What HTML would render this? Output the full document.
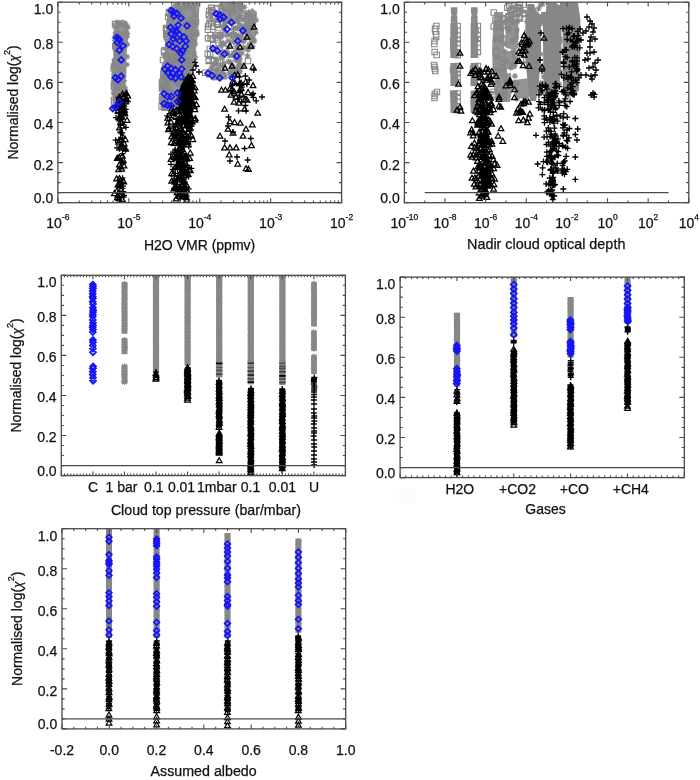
<!DOCTYPE html>
<html><head><meta charset="utf-8"><style>
html,body{margin:0;padding:0;background:#fff;width:700px;height:780px;overflow:hidden}
svg{display:block;filter:blur(0.35px)}
text{font-family:"Liberation Sans", sans-serif;fill:#111;stroke:#111;stroke-width:0.25px}
</style></head><body>
<svg width="700" height="780" viewBox="0 0 700 780">
<rect x="121.6" y="282.1" width="5.8" height="51.7" fill="#878787"/>
<rect x="121.6" y="338.2" width="5.8" height="16.0" fill="#878787"/>
<rect x="121.6" y="364.7" width="5.8" height="19.0" fill="#878787"/>
<rect x="152.9" y="275.4" width="6.2" height="95.6" fill="#878787"/>
<rect x="184.5" y="275.4" width="6.2" height="90.3" fill="#878787"/>
<rect x="216.1" y="275.4" width="6.2" height="102.1" fill="#878787"/>
<rect x="247.7" y="275.4" width="6.2" height="108.9" fill="#878787"/>
<rect x="279.3" y="275.4" width="6.2" height="109.6" fill="#878787"/>
<rect x="311.2" y="282.3" width="5.6" height="44.2" fill="#878787"/>
<rect x="311.2" y="330.8" width="5.6" height="20.0" fill="#878787"/>
<rect x="311.2" y="355.1" width="5.6" height="19.1" fill="#878787"/>
<rect x="453.9" y="312.7" width="6.2" height="73.9" fill="#878787"/>
<rect x="510.7" y="277.0" width="6.2" height="60.0" fill="#878787"/>
<rect x="567.5" y="297.0" width="6.2" height="60.6" fill="#878787"/>
<rect x="624.5" y="277.5" width="6.2" height="46.5" fill="#878787"/>
<rect x="106.0" y="529.0" width="6.0" height="109.0" fill="#878787"/>
<rect x="153.6" y="529.0" width="6.0" height="109.0" fill="#878787"/>
<rect x="224.5" y="533.0" width="6.0" height="105.0" fill="#878787"/>
<rect x="295.4" y="538.5" width="6.0" height="94.3" fill="#878787"/>
<polygon points="117.0,21.0 123.0,19.5 127.5,21.5 128.0,40.0 126.5,55.0 126.5,73.0 125.5,85.0 124.0,97.0 121.0,104.0 118.0,109.0 113.0,109.0 112.5,97.0 113.5,70.0 113.5,40.0 115.0,26.0" fill="#949494"/>
<polygon points="174.0,3.0 199.5,3.0 199.0,15.0 198.0,35.0 195.0,56.0 192.0,70.0 190.0,75.0 185.0,95.0 181.0,108.0 175.0,111.0 161.0,111.0 160.0,100.0 161.0,85.0 163.0,70.0 165.0,50.0 166.0,28.0 168.0,12.0 171.0,6.0" fill="#949494"/>
<polygon points="222.0,3.0 241.0,3.0 243.0,12.0 240.0,22.0 232.0,26.0 224.0,22.0 221.0,12.0" fill="#949494"/>
<polygon points="246.0,14.0 252.0,8.0 257.0,12.0 256.0,25.0 252.0,36.0 246.0,38.0 243.0,28.0" fill="#949494"/>
<rect x="451.4" y="8.0" width="5.5" height="14.5" fill="#8a8a8a"/>
<rect x="450.4" y="23.0" width="7.2" height="35.0" fill="#8a8a8a"/>
<rect x="450.4" y="63.0" width="7.2" height="23.0" fill="#8a8a8a"/>
<rect x="450.4" y="90.5" width="7.2" height="22.5" fill="#8a8a8a"/>
<rect x="471.6" y="8.0" width="5.5" height="14.5" fill="#8a8a8a"/>
<rect x="470.6" y="23.0" width="7.2" height="35.0" fill="#8a8a8a"/>
<rect x="470.6" y="63.0" width="7.2" height="23.0" fill="#8a8a8a"/>
<rect x="470.6" y="90.5" width="7.2" height="22.5" fill="#8a8a8a"/>
<polygon points="494.0,12.0 503.0,12.0 504.0,30.0 504.0,50.0 507.0,60.0 507.0,77.0 493.0,77.0 492.0,50.0 493.0,30.0" fill="#949494"/>
<polygon points="505.0,20.0 517.0,19.0 519.0,30.0 518.0,48.0 516.0,50.0 506.0,48.0" fill="#949494"/>
<polygon points="501.0,51.0 515.0,51.0 517.0,60.0 516.0,69.0 503.0,69.0" fill="#949494"/>
<polygon points="495.0,74.0 511.0,73.0 512.0,90.0 510.0,102.0 497.0,102.0 494.0,90.0" fill="#949494"/>
<polygon points="514.0,80.0 530.0,78.0 532.0,92.0 528.0,99.0 515.0,98.0" fill="#949494"/>
<polygon points="527.5,4.0 534.0,4.0 536.5,11.0 541.0,15.0 541.0,60.0 538.5,85.0 536.0,101.0 530.0,101.0 527.0,76.0 525.5,60.0 525.5,20.0" fill="#878787"/>
<polygon points="546.5,3.0 556.0,3.0 561.0,6.0 561.5,40.0 561.0,70.0 558.0,95.0 548.0,97.0 543.5,82.0 543.0,40.0 543.0,15.0 546.0,11.0" fill="#878787"/>
<polygon points="563.0,3.0 578.0,3.0 580.4,20.0 580.0,60.0 579.0,90.0 575.0,95.0 563.0,95.0 562.7,50.0 562.5,20.0" fill="#878787"/>
<polygon points="541.0,12.0 546.0,12.0 546.0,24.0 541.0,24.0" fill="#878787"/>
<polygon points="560.0,3.0 564.0,3.0 564.0,28.0 560.0,28.0" fill="#878787"/>
<path d="M121.7 283.9h6.0M124.7 280.9v6.0M122.5 281.7l4.3 4.3M122.5 286.1l4.3 -4.3M121.6 286.1h6.0M124.6 283.1v6.0M122.5 283.9l4.3 4.3M122.5 288.2l4.3 -4.3M121.7 288.0h6.0M124.7 285.0v6.0M122.6 285.8l4.3 4.3M122.6 290.1l4.3 -4.3M121.6 290.7h6.0M124.6 287.7v6.0M122.4 288.5l4.3 4.3M122.4 292.9l4.3 -4.3M121.4 293.0h6.0M124.4 290.0v6.0M122.3 290.8l4.3 4.3M122.3 295.1l4.3 -4.3M121.7 295.3h6.0M124.7 292.3v6.0M122.5 293.1l4.3 4.3M122.5 297.4l4.3 -4.3M121.7 298.1h6.0M124.7 295.1v6.0M122.6 295.9l4.3 4.3M122.6 300.2l4.3 -4.3M121.6 299.7h6.0M124.6 296.7v6.0M122.4 297.6l4.3 4.3M122.4 301.9l4.3 -4.3M121.4 302.0h6.0M124.4 299.0v6.0M122.2 299.8l4.3 4.3M122.2 304.2l4.3 -4.3M121.5 303.9h6.0M124.5 300.9v6.0M122.3 301.8l4.3 4.3M122.3 306.1l4.3 -4.3M121.4 305.3h6.0M124.4 302.3v6.0M122.3 303.2l4.3 4.3M122.3 307.5l4.3 -4.3M121.5 307.7h6.0M124.5 304.7v6.0M122.3 305.6l4.3 4.3M122.3 309.9l4.3 -4.3M121.6 309.3h6.0M124.6 306.3v6.0M122.4 307.2l4.3 4.3M122.4 311.5l4.3 -4.3M121.4 311.9h6.0M124.4 308.9v6.0M122.3 309.8l4.3 4.3M122.3 314.1l4.3 -4.3M121.6 313.9h6.0M124.6 310.9v6.0M122.5 311.7l4.3 4.3M122.5 316.0l4.3 -4.3M121.7 316.5h6.0M124.7 313.5v6.0M122.6 314.3l4.3 4.3M122.6 318.6l4.3 -4.3M121.5 319.1h6.0M124.5 316.1v6.0M122.4 316.9l4.3 4.3M122.4 321.2l4.3 -4.3M121.5 320.9h6.0M124.5 317.9v6.0M122.4 318.8l4.3 4.3M122.4 323.1l4.3 -4.3M121.8 323.5h6.0M124.8 320.5v6.0M122.6 321.4l4.3 4.3M122.6 325.7l4.3 -4.3M121.5 325.0h6.0M124.5 322.0v6.0M122.3 322.8l4.3 4.3M122.3 327.1l4.3 -4.3M121.5 326.5h6.0M124.5 323.5v6.0M122.3 324.4l4.3 4.3M122.3 328.7l4.3 -4.3M121.6 328.5h6.0M124.6 325.5v6.0M122.5 326.4l4.3 4.3M122.5 330.7l4.3 -4.3M121.4 330.1h6.0M124.4 327.1v6.0M122.2 328.0l4.3 4.3M122.2 332.3l4.3 -4.3M121.5 340.0h6.0M124.5 337.0v6.0M122.4 337.8l4.3 4.3M122.4 342.2l4.3 -4.3M121.8 342.1h6.0M124.8 339.1v6.0M122.6 339.9l4.3 4.3M122.6 344.3l4.3 -4.3M121.6 344.4h6.0M124.6 341.4v6.0M122.4 342.3l4.3 4.3M122.4 346.6l4.3 -4.3M121.7 346.6h6.0M124.7 343.6v6.0M122.5 344.4l4.3 4.3M122.5 348.8l4.3 -4.3M121.8 347.9h6.0M124.8 344.9v6.0M122.6 345.7l4.3 4.3M122.6 350.0l4.3 -4.3M121.7 350.3h6.0M124.7 347.3v6.0M122.6 348.2l4.3 4.3M122.6 352.5l4.3 -4.3M121.6 366.5h6.0M124.6 363.5v6.0M122.4 364.3l4.3 4.3M122.4 368.7l4.3 -4.3M121.4 368.3h6.0M124.4 365.3v6.0M122.3 366.2l4.3 4.3M122.3 370.5l4.3 -4.3M121.4 370.6h6.0M124.4 367.6v6.0M122.3 368.4l4.3 4.3M122.3 372.7l4.3 -4.3M121.5 371.9h6.0M124.5 368.9v6.0M122.3 369.7l4.3 4.3M122.3 374.0l4.3 -4.3M121.5 373.3h6.0M124.5 370.3v6.0M122.4 371.2l4.3 4.3M122.4 375.5l4.3 -4.3M121.4 374.6h6.0M124.4 371.6v6.0M122.2 372.4l4.3 4.3M122.2 376.8l4.3 -4.3M121.4 376.0h6.0M124.4 373.0v6.0M122.3 373.9l4.3 4.3M122.3 378.2l4.3 -4.3M121.4 377.8h6.0M124.4 374.8v6.0M122.3 375.7l4.3 4.3M122.3 380.0l4.3 -4.3M121.6 380.4h6.0M124.6 377.4v6.0M122.5 378.3l4.3 4.3M122.5 382.6l4.3 -4.3M121.5 381.9h6.0M124.5 378.9v6.0M122.3 379.7l4.3 4.3M122.3 384.0l4.3 -4.3M152.9 278.4h6.0M155.9 275.4v6.0M153.8 276.2l4.3 4.3M153.8 280.6l4.3 -4.3M153.1 280.5h6.0M156.1 277.5v6.0M154.0 278.3l4.3 4.3M154.0 282.7l4.3 -4.3M153.0 284.7h6.0M156.0 281.7v6.0M153.8 282.5l4.3 4.3M153.8 286.8l4.3 -4.3M152.8 287.6h6.0M155.8 284.6v6.0M153.7 285.5l4.3 4.3M153.7 289.8l4.3 -4.3M152.9 289.7h6.0M155.9 286.7v6.0M153.8 287.5l4.3 4.3M153.8 291.8l4.3 -4.3M153.1 292.1h6.0M156.1 289.1v6.0M154.0 290.0l4.3 4.3M154.0 294.3l4.3 -4.3M152.8 294.3h6.0M155.8 291.3v6.0M153.6 292.1l4.3 4.3M153.6 296.5l4.3 -4.3M153.0 298.4h6.0M156.0 295.4v6.0M153.9 296.2l4.3 4.3M153.9 300.5l4.3 -4.3M153.0 300.5h6.0M156.0 297.5v6.0M153.9 298.4l4.3 4.3M153.9 302.7l4.3 -4.3M153.0 302.4h6.0M156.0 299.4v6.0M153.9 300.2l4.3 4.3M153.9 304.6l4.3 -4.3M153.1 306.6h6.0M156.1 303.6v6.0M154.0 304.4l4.3 4.3M154.0 308.7l4.3 -4.3M152.9 310.0h6.0M155.9 307.0v6.0M153.7 307.9l4.3 4.3M153.7 312.2l4.3 -4.3M152.9 312.7h6.0M155.9 309.7v6.0M153.7 310.5l4.3 4.3M153.7 314.9l4.3 -4.3M153.0 316.4h6.0M156.0 313.4v6.0M153.9 314.2l4.3 4.3M153.9 318.5l4.3 -4.3M152.9 320.0h6.0M155.9 317.0v6.0M153.8 317.9l4.3 4.3M153.8 322.2l4.3 -4.3M153.1 322.4h6.0M156.1 319.4v6.0M154.0 320.2l4.3 4.3M154.0 324.5l4.3 -4.3M153.1 326.5h6.0M156.1 323.5v6.0M154.0 324.4l4.3 4.3M154.0 328.7l4.3 -4.3M153.1 330.3h6.0M156.1 327.3v6.0M154.0 328.1l4.3 4.3M154.0 332.4l4.3 -4.3M152.9 333.8h6.0M155.9 330.8v6.0M153.7 331.7l4.3 4.3M153.7 336.0l4.3 -4.3M152.9 336.9h6.0M155.9 333.9v6.0M153.8 334.7l4.3 4.3M153.8 339.0l4.3 -4.3M152.8 338.7h6.0M155.8 335.7v6.0M153.7 336.6l4.3 4.3M153.7 340.9l4.3 -4.3M152.9 341.2h6.0M155.9 338.2v6.0M153.7 339.1l4.3 4.3M153.7 343.4l4.3 -4.3M153.2 344.7h6.0M156.2 341.7v6.0M154.0 342.5l4.3 4.3M154.0 346.8l4.3 -4.3M153.2 347.6h6.0M156.2 344.6v6.0M154.0 345.4l4.3 4.3M154.0 349.7l4.3 -4.3M153.2 351.7h6.0M156.2 348.7v6.0M154.0 349.6l4.3 4.3M154.0 353.9l4.3 -4.3M152.9 354.4h6.0M155.9 351.4v6.0M153.7 352.2l4.3 4.3M153.7 356.6l4.3 -4.3M152.9 356.7h6.0M155.9 353.7v6.0M153.7 354.6l4.3 4.3M153.7 358.9l4.3 -4.3M153.0 359.0h6.0M156.0 356.0v6.0M153.9 356.9l4.3 4.3M153.9 361.2l4.3 -4.3M153.1 363.0h6.0M156.1 360.0v6.0M154.0 360.8l4.3 4.3M154.0 365.2l4.3 -4.3M153.1 365.9h6.0M156.1 362.9v6.0M153.9 363.8l4.3 4.3M153.9 368.1l4.3 -4.3M184.5 278.4h6.0M187.5 275.4v6.0M185.4 276.2l4.3 4.3M185.4 280.6l4.3 -4.3M184.8 282.1h6.0M187.8 279.1v6.0M185.6 280.0l4.3 4.3M185.6 284.3l4.3 -4.3M184.6 284.9h6.0M187.6 281.9v6.0M185.4 282.7l4.3 4.3M185.4 287.0l4.3 -4.3M184.7 288.9h6.0M187.7 285.9v6.0M185.5 286.8l4.3 4.3M185.5 291.1l4.3 -4.3M184.5 291.2h6.0M187.5 288.2v6.0M185.3 289.0l4.3 4.3M185.3 293.3l4.3 -4.3M184.8 293.3h6.0M187.8 290.3v6.0M185.6 291.2l4.3 4.3M185.6 295.5l4.3 -4.3M184.5 297.1h6.0M187.5 294.1v6.0M185.3 294.9l4.3 4.3M185.3 299.2l4.3 -4.3M184.8 300.8h6.0M187.8 297.8v6.0M185.6 298.7l4.3 4.3M185.6 303.0l4.3 -4.3M184.5 304.2h6.0M187.5 301.2v6.0M185.4 302.1l4.3 4.3M185.4 306.4l4.3 -4.3M184.5 307.3h6.0M187.5 304.3v6.0M185.3 305.2l4.3 4.3M185.3 309.5l4.3 -4.3M184.8 309.2h6.0M187.8 306.2v6.0M185.6 307.0l4.3 4.3M185.6 311.3l4.3 -4.3M184.6 312.5h6.0M187.6 309.5v6.0M185.5 310.4l4.3 4.3M185.5 314.7l4.3 -4.3M184.6 316.6h6.0M187.6 313.6v6.0M185.4 314.4l4.3 4.3M185.4 318.7l4.3 -4.3M184.7 320.5h6.0M187.7 317.5v6.0M185.6 318.3l4.3 4.3M185.6 322.6l4.3 -4.3M184.5 322.8h6.0M187.5 319.8v6.0M185.3 320.6l4.3 4.3M185.3 324.9l4.3 -4.3M184.5 325.3h6.0M187.5 322.3v6.0M185.3 323.1l4.3 4.3M185.3 327.4l4.3 -4.3M184.5 328.5h6.0M187.5 325.5v6.0M185.3 326.3l4.3 4.3M185.3 330.6l4.3 -4.3M184.5 331.3h6.0M187.5 328.3v6.0M185.3 329.1l4.3 4.3M185.3 333.4l4.3 -4.3M184.5 335.3h6.0M187.5 332.3v6.0M185.4 333.1l4.3 4.3M185.4 337.4l4.3 -4.3M184.6 338.2h6.0M187.6 335.2v6.0M185.5 336.0l4.3 4.3M185.5 340.3l4.3 -4.3M184.6 342.1h6.0M187.6 339.1v6.0M185.4 340.0l4.3 4.3M185.4 344.3l4.3 -4.3M184.6 346.1h6.0M187.6 343.1v6.0M185.4 344.0l4.3 4.3M185.4 348.3l4.3 -4.3M184.6 349.2h6.0M187.6 346.2v6.0M185.4 347.1l4.3 4.3M185.4 351.4l4.3 -4.3M184.6 351.1h6.0M187.6 348.1v6.0M185.4 348.9l4.3 4.3M185.4 353.2l4.3 -4.3M184.4 353.3h6.0M187.4 350.3v6.0M185.2 351.1l4.3 4.3M185.2 355.5l4.3 -4.3M184.5 357.0h6.0M187.5 354.0v6.0M185.3 354.9l4.3 4.3M185.3 359.2l4.3 -4.3M184.7 359.9h6.0M187.7 356.9v6.0M185.5 357.8l4.3 4.3M185.5 362.1l4.3 -4.3M216.1 278.4h6.0M219.1 275.4v6.0M216.9 276.2l4.3 4.3M216.9 280.6l4.3 -4.3M216.2 280.5h6.0M219.2 277.5v6.0M217.0 278.4l4.3 4.3M217.0 282.7l4.3 -4.3M216.3 284.5h6.0M219.3 281.5v6.0M217.2 282.3l4.3 4.3M217.2 286.7l4.3 -4.3M216.1 286.9h6.0M219.1 283.9v6.0M216.9 284.8l4.3 4.3M216.9 289.1l4.3 -4.3M216.2 290.9h6.0M219.2 287.9v6.0M217.1 288.8l4.3 4.3M217.1 293.1l4.3 -4.3M216.0 294.4h6.0M219.0 291.4v6.0M216.9 292.2l4.3 4.3M216.9 296.6l4.3 -4.3M216.3 296.3h6.0M219.3 293.3v6.0M217.1 294.2l4.3 4.3M217.1 298.5l4.3 -4.3M216.0 299.2h6.0M219.0 296.2v6.0M216.9 297.0l4.3 4.3M216.9 301.3l4.3 -4.3M216.3 303.2h6.0M219.3 300.2v6.0M217.1 301.1l4.3 4.3M217.1 305.4l4.3 -4.3M216.0 306.9h6.0M219.0 303.9v6.0M216.9 304.8l4.3 4.3M216.9 309.1l4.3 -4.3M216.0 310.8h6.0M219.0 307.8v6.0M216.9 308.6l4.3 4.3M216.9 313.0l4.3 -4.3M216.2 314.7h6.0M219.2 311.7v6.0M217.0 312.5l4.3 4.3M217.0 316.8l4.3 -4.3M216.2 317.3h6.0M219.2 314.3v6.0M217.1 315.1l4.3 4.3M217.1 319.4l4.3 -4.3M216.1 321.3h6.0M219.1 318.3v6.0M216.9 319.1l4.3 4.3M216.9 323.5l4.3 -4.3M216.2 323.4h6.0M219.2 320.4v6.0M217.1 321.3l4.3 4.3M217.1 325.6l4.3 -4.3M216.0 325.8h6.0M219.0 322.8v6.0M216.9 323.6l4.3 4.3M216.9 327.9l4.3 -4.3M216.0 328.0h6.0M219.0 325.0v6.0M216.9 325.8l4.3 4.3M216.9 330.1l4.3 -4.3M216.1 330.3h6.0M219.1 327.3v6.0M217.0 328.1l4.3 4.3M217.0 332.4l4.3 -4.3M216.3 332.8h6.0M219.3 329.8v6.0M217.1 330.6l4.3 4.3M217.1 335.0l4.3 -4.3M216.2 335.3h6.0M219.2 332.3v6.0M217.0 333.1l4.3 4.3M217.0 337.4l4.3 -4.3M216.1 337.5h6.0M219.1 334.5v6.0M217.0 335.4l4.3 4.3M217.0 339.7l4.3 -4.3M216.1 339.4h6.0M219.1 336.4v6.0M216.9 337.2l4.3 4.3M216.9 341.5l4.3 -4.3M216.3 341.2h6.0M219.3 338.2v6.0M217.1 339.0l4.3 4.3M217.1 343.4l4.3 -4.3M216.1 344.3h6.0M219.1 341.3v6.0M216.9 342.2l4.3 4.3M216.9 346.5l4.3 -4.3M216.4 347.3h6.0M219.4 344.3v6.0M217.2 345.1l4.3 4.3M217.2 349.4l4.3 -4.3M216.3 349.3h6.0M219.3 346.3v6.0M217.2 347.2l4.3 4.3M217.2 351.5l4.3 -4.3M216.2 352.1h6.0M219.2 349.1v6.0M217.0 350.0l4.3 4.3M217.0 354.3l4.3 -4.3M216.2 356.0h6.0M219.2 353.0v6.0M217.0 353.8l4.3 4.3M217.0 358.1l4.3 -4.3M216.3 359.0h6.0M219.3 356.0v6.0M217.1 356.8l4.3 4.3M217.1 361.1l4.3 -4.3M216.1 363.1h6.0M219.1 360.1v6.0M217.0 361.0l4.3 4.3M217.0 365.3l4.3 -4.3M216.3 366.9h6.0M219.3 363.9v6.0M217.1 364.8l4.3 4.3M217.1 369.1l4.3 -4.3M216.2 370.2h6.0M219.2 367.2v6.0M217.0 368.1l4.3 4.3M217.0 372.4l4.3 -4.3M216.0 372.9h6.0M219.0 369.9v6.0M216.9 370.7l4.3 4.3M216.9 375.0l4.3 -4.3M248.0 278.4h6.0M251.0 275.4v6.0M248.8 276.2l4.3 4.3M248.8 280.6l4.3 -4.3M247.9 282.0h6.0M250.9 279.0v6.0M248.8 279.9l4.3 4.3M248.8 284.2l4.3 -4.3M247.6 284.5h6.0M250.6 281.5v6.0M248.5 282.3l4.3 4.3M248.5 286.6l4.3 -4.3M247.9 287.9h6.0M250.9 284.9v6.0M248.7 285.7l4.3 4.3M248.7 290.0l4.3 -4.3M248.0 290.0h6.0M251.0 287.0v6.0M248.8 287.9l4.3 4.3M248.8 292.2l4.3 -4.3M247.7 292.9h6.0M250.7 289.9v6.0M248.6 290.7l4.3 4.3M248.6 295.0l4.3 -4.3M247.9 296.5h6.0M250.9 293.5v6.0M248.8 294.4l4.3 4.3M248.8 298.7l4.3 -4.3M247.6 299.4h6.0M250.6 296.4v6.0M248.5 297.2l4.3 4.3M248.5 301.5l4.3 -4.3M247.8 303.0h6.0M250.8 300.0v6.0M248.6 300.8l4.3 4.3M248.6 305.2l4.3 -4.3M247.8 306.9h6.0M250.8 303.9v6.0M248.7 304.7l4.3 4.3M248.7 309.1l4.3 -4.3M247.6 309.2h6.0M250.6 306.2v6.0M248.5 307.0l4.3 4.3M248.5 311.3l4.3 -4.3M247.8 313.2h6.0M250.8 310.2v6.0M248.6 311.1l4.3 4.3M248.6 315.4l4.3 -4.3M247.7 316.5h6.0M250.7 313.5v6.0M248.5 314.3l4.3 4.3M248.5 318.7l4.3 -4.3M247.8 320.4h6.0M250.8 317.4v6.0M248.6 318.2l4.3 4.3M248.6 322.5l4.3 -4.3M247.8 324.4h6.0M250.8 321.4v6.0M248.7 322.2l4.3 4.3M248.7 326.5l4.3 -4.3M247.8 326.6h6.0M250.8 323.6v6.0M248.6 324.4l4.3 4.3M248.6 328.7l4.3 -4.3M247.7 329.1h6.0M250.7 326.1v6.0M248.5 326.9l4.3 4.3M248.5 331.2l4.3 -4.3M247.9 332.6h6.0M250.9 329.6v6.0M248.7 330.5l4.3 4.3M248.7 334.8l4.3 -4.3M247.7 335.4h6.0M250.7 332.4v6.0M248.5 333.2l4.3 4.3M248.5 337.6l4.3 -4.3M247.9 338.4h6.0M250.9 335.4v6.0M248.7 336.2l4.3 4.3M248.7 340.5l4.3 -4.3M247.9 340.5h6.0M250.9 337.5v6.0M248.7 338.3l4.3 4.3M248.7 342.6l4.3 -4.3M247.8 342.4h6.0M250.8 339.4v6.0M248.6 340.3l4.3 4.3M248.6 344.6l4.3 -4.3M247.8 346.2h6.0M250.8 343.2v6.0M248.7 344.0l4.3 4.3M248.7 348.3l4.3 -4.3M247.7 349.1h6.0M250.7 346.1v6.0M248.6 346.9l4.3 4.3M248.6 351.2l4.3 -4.3M247.8 352.7h6.0M250.8 349.7v6.0M248.6 350.5l4.3 4.3M248.6 354.9l4.3 -4.3M247.7 355.8h6.0M250.7 352.8v6.0M248.5 353.6l4.3 4.3M248.5 358.0l4.3 -4.3M247.8 358.0h6.0M250.8 355.0v6.0M248.7 355.9l4.3 4.3M248.7 360.2l4.3 -4.3M247.7 360.6h6.0M250.7 357.6v6.0M248.6 358.4l4.3 4.3M248.6 362.8l4.3 -4.3M247.7 364.3h6.0M250.7 361.3v6.0M248.5 362.2l4.3 4.3M248.5 366.5l4.3 -4.3M247.9 366.2h6.0M250.9 363.2v6.0M248.8 364.0l4.3 4.3M248.8 368.3l4.3 -4.3M247.9 368.9h6.0M250.9 365.9v6.0M248.7 366.7l4.3 4.3M248.7 371.1l4.3 -4.3M247.7 371.2h6.0M250.7 368.2v6.0M248.5 369.0l4.3 4.3M248.5 373.4l4.3 -4.3M247.8 374.8h6.0M250.8 371.8v6.0M248.6 372.6l4.3 4.3M248.6 377.0l4.3 -4.3M247.7 378.0h6.0M250.7 375.0v6.0M248.6 375.8l4.3 4.3M248.6 380.1l4.3 -4.3M279.2 278.4h6.0M282.2 275.4v6.0M280.0 276.2l4.3 4.3M280.0 280.6l4.3 -4.3M279.5 281.0h6.0M282.5 278.0v6.0M280.3 278.8l4.3 4.3M280.3 283.1l4.3 -4.3M279.3 283.2h6.0M282.3 280.2v6.0M280.2 281.1l4.3 4.3M280.2 285.4l4.3 -4.3M279.5 285.5h6.0M282.5 282.5v6.0M280.4 283.4l4.3 4.3M280.4 287.7l4.3 -4.3M279.2 288.6h6.0M282.2 285.6v6.0M280.1 286.5l4.3 4.3M280.1 290.8l4.3 -4.3M279.4 290.7h6.0M282.4 287.7v6.0M280.2 288.5l4.3 4.3M280.2 292.8l4.3 -4.3M279.5 293.8h6.0M282.5 290.8v6.0M280.3 291.6l4.3 4.3M280.3 296.0l4.3 -4.3M279.3 295.8h6.0M282.3 292.8v6.0M280.1 293.7l4.3 4.3M280.1 298.0l4.3 -4.3M279.4 299.3h6.0M282.4 296.3v6.0M280.2 297.1l4.3 4.3M280.2 301.4l4.3 -4.3M279.3 301.8h6.0M282.3 298.8v6.0M280.2 299.6l4.3 4.3M280.2 303.9l4.3 -4.3M279.3 305.9h6.0M282.3 302.9v6.0M280.2 303.7l4.3 4.3M280.2 308.0l4.3 -4.3M279.3 309.0h6.0M282.3 306.0v6.0M280.2 306.9l4.3 4.3M280.2 311.2l4.3 -4.3M279.5 311.8h6.0M282.5 308.8v6.0M280.4 309.7l4.3 4.3M280.4 314.0l4.3 -4.3M279.3 316.0h6.0M282.3 313.0v6.0M280.2 313.8l4.3 4.3M280.2 318.2l4.3 -4.3M279.5 318.3h6.0M282.5 315.3v6.0M280.3 316.1l4.3 4.3M280.3 320.4l4.3 -4.3M279.2 320.6h6.0M282.2 317.6v6.0M280.0 318.4l4.3 4.3M280.0 322.7l4.3 -4.3M279.4 324.5h6.0M282.4 321.5v6.0M280.2 322.4l4.3 4.3M280.2 326.7l4.3 -4.3M279.4 328.3h6.0M282.4 325.3v6.0M280.2 326.1l4.3 4.3M280.2 330.5l4.3 -4.3M279.4 332.2h6.0M282.4 329.2v6.0M280.2 330.1l4.3 4.3M280.2 334.4l4.3 -4.3M279.2 334.4h6.0M282.2 331.4v6.0M280.0 332.2l4.3 4.3M280.0 336.6l4.3 -4.3M279.5 337.5h6.0M282.5 334.5v6.0M280.3 335.4l4.3 4.3M280.3 339.7l4.3 -4.3M279.2 341.5h6.0M282.2 338.5v6.0M280.1 339.4l4.3 4.3M280.1 343.7l4.3 -4.3M279.3 344.8h6.0M282.3 341.8v6.0M280.2 342.6l4.3 4.3M280.2 347.0l4.3 -4.3M279.3 347.8h6.0M282.3 344.8v6.0M280.1 345.7l4.3 4.3M280.1 350.0l4.3 -4.3M279.4 350.3h6.0M282.4 347.3v6.0M280.2 348.1l4.3 4.3M280.2 352.5l4.3 -4.3M279.2 354.3h6.0M282.2 351.3v6.0M280.1 352.2l4.3 4.3M280.1 356.5l4.3 -4.3M279.5 357.3h6.0M282.5 354.3v6.0M280.4 355.1l4.3 4.3M280.4 359.5l4.3 -4.3M279.3 361.4h6.0M282.3 358.4v6.0M280.1 359.3l4.3 4.3M280.1 363.6l4.3 -4.3M279.6 363.5h6.0M282.6 360.5v6.0M280.4 361.4l4.3 4.3M280.4 365.7l4.3 -4.3M279.4 367.7h6.0M282.4 364.7v6.0M280.2 365.5l4.3 4.3M280.2 369.8l4.3 -4.3M279.6 369.6h6.0M282.6 366.6v6.0M280.4 367.4l4.3 4.3M280.4 371.8l4.3 -4.3M279.6 372.3h6.0M282.6 369.3v6.0M280.4 370.2l4.3 4.3M280.4 374.5l4.3 -4.3M279.5 375.6h6.0M282.5 372.6v6.0M280.4 373.5l4.3 4.3M280.4 377.8l4.3 -4.3M279.5 377.8h6.0M282.5 374.8v6.0M280.4 375.6l4.3 4.3M280.4 380.0l4.3 -4.3M279.4 380.1h6.0M282.4 377.1v6.0M280.2 378.0l4.3 4.3M280.2 382.3l4.3 -4.3M311.1 283.8h6.0M314.1 280.8v6.0M311.9 281.6l4.3 4.3M311.9 286.0l4.3 -4.3M310.9 285.0h6.0M313.9 282.0v6.0M311.7 282.9l4.3 4.3M311.7 287.2l4.3 -4.3M310.8 287.3h6.0M313.8 284.3v6.0M311.7 285.1l4.3 4.3M311.7 289.4l4.3 -4.3M310.8 288.6h6.0M313.8 285.6v6.0M311.7 286.4l4.3 4.3M311.7 290.7l4.3 -4.3M311.1 291.2h6.0M314.1 288.2v6.0M311.9 289.0l4.3 4.3M311.9 293.3l4.3 -4.3M311.2 292.7h6.0M314.2 289.7v6.0M312.0 290.5l4.3 4.3M312.0 294.8l4.3 -4.3M311.1 294.7h6.0M314.1 291.7v6.0M311.9 292.6l4.3 4.3M311.9 296.9l4.3 -4.3M311.1 297.3h6.0M314.1 294.3v6.0M311.9 295.2l4.3 4.3M311.9 299.5l4.3 -4.3M311.0 299.7h6.0M314.0 296.7v6.0M311.8 297.5l4.3 4.3M311.8 301.8l4.3 -4.3M310.9 301.3h6.0M313.9 298.3v6.0M311.7 299.1l4.3 4.3M311.7 303.4l4.3 -4.3M311.2 302.5h6.0M314.2 299.5v6.0M312.0 300.4l4.3 4.3M312.0 304.7l4.3 -4.3M311.1 305.2h6.0M314.1 302.2v6.0M311.9 303.0l4.3 4.3M311.9 307.3l4.3 -4.3M311.1 306.5h6.0M314.1 303.5v6.0M311.9 304.4l4.3 4.3M311.9 308.7l4.3 -4.3M311.0 308.7h6.0M314.0 305.7v6.0M311.8 306.6l4.3 4.3M311.8 310.9l4.3 -4.3M311.1 310.1h6.0M314.1 307.1v6.0M312.0 308.0l4.3 4.3M312.0 312.3l4.3 -4.3M310.9 312.4h6.0M313.9 309.4v6.0M311.8 310.2l4.3 4.3M311.8 314.5l4.3 -4.3M310.9 314.1h6.0M313.9 311.1v6.0M311.7 312.0l4.3 4.3M311.7 316.3l4.3 -4.3M311.2 315.9h6.0M314.2 312.9v6.0M312.0 313.7l4.3 4.3M312.0 318.0l4.3 -4.3M311.1 317.2h6.0M314.1 314.2v6.0M311.9 315.0l4.3 4.3M311.9 319.3l4.3 -4.3M311.1 319.8h6.0M314.1 316.8v6.0M311.9 317.7l4.3 4.3M311.9 322.0l4.3 -4.3M311.0 322.0h6.0M314.0 319.0v6.0M311.8 319.8l4.3 4.3M311.8 324.1l4.3 -4.3M311.1 323.6h6.0M314.1 320.6v6.0M311.9 321.5l4.3 4.3M311.9 325.8l4.3 -4.3M310.8 332.3h6.0M313.8 329.3v6.0M311.7 330.1l4.3 4.3M311.7 334.5l4.3 -4.3M310.8 334.3h6.0M313.8 331.3v6.0M311.7 332.2l4.3 4.3M311.7 336.5l4.3 -4.3M310.8 336.3h6.0M313.8 333.3v6.0M311.7 334.1l4.3 4.3M311.7 338.4l4.3 -4.3M311.1 338.4h6.0M314.1 335.4v6.0M311.9 336.2l4.3 4.3M311.9 340.5l4.3 -4.3M311.0 340.9h6.0M314.0 337.9v6.0M311.9 338.8l4.3 4.3M311.9 343.1l4.3 -4.3M311.0 342.6h6.0M314.0 339.6v6.0M311.8 340.4l4.3 4.3M311.8 344.7l4.3 -4.3M310.9 344.6h6.0M313.9 341.6v6.0M311.8 342.4l4.3 4.3M311.8 346.8l4.3 -4.3M310.8 347.0h6.0M313.8 344.0v6.0M311.7 344.8l4.3 4.3M311.7 349.2l4.3 -4.3M310.8 348.8h6.0M313.8 345.8v6.0M311.7 346.6l4.3 4.3M311.7 350.9l4.3 -4.3M311.1 356.6h6.0M314.1 353.6v6.0M312.0 354.4l4.3 4.3M312.0 358.8l4.3 -4.3M311.0 359.3h6.0M314.0 356.3v6.0M311.9 357.2l4.3 4.3M311.9 361.5l4.3 -4.3M311.0 362.1h6.0M314.0 359.1v6.0M311.8 359.9l4.3 4.3M311.8 364.2l4.3 -4.3M310.9 364.2h6.0M313.9 361.2v6.0M311.7 362.0l4.3 4.3M311.7 366.4l4.3 -4.3M311.2 366.7h6.0M314.2 363.7v6.0M312.0 364.5l4.3 4.3M312.0 368.9l4.3 -4.3M310.9 368.3h6.0M313.9 365.3v6.0M311.7 366.1l4.3 4.3M311.7 370.4l4.3 -4.3M311.1 371.0h6.0M314.1 368.0v6.0M311.9 368.8l4.3 4.3M311.9 373.1l4.3 -4.3M453.9 315.7h6.0M456.9 312.7v6.0M454.7 313.5l4.3 4.3M454.7 317.9l4.3 -4.3M453.9 318.1h6.0M456.9 315.1v6.0M454.7 315.9l4.3 4.3M454.7 320.2l4.3 -4.3M454.1 321.4h6.0M457.1 318.4v6.0M455.0 319.2l4.3 4.3M455.0 323.6l4.3 -4.3M453.9 324.4h6.0M456.9 321.4v6.0M454.7 322.3l4.3 4.3M454.7 326.6l4.3 -4.3M454.2 328.0h6.0M457.2 325.0v6.0M455.0 325.9l4.3 4.3M455.0 330.2l4.3 -4.3M454.1 331.3h6.0M457.1 328.3v6.0M455.0 329.1l4.3 4.3M455.0 333.5l4.3 -4.3M454.1 335.4h6.0M457.1 332.4v6.0M455.0 333.3l4.3 4.3M455.0 337.6l4.3 -4.3M453.9 338.7h6.0M456.9 335.7v6.0M454.7 336.5l4.3 4.3M454.7 340.9l4.3 -4.3M454.3 358.4h6.0M457.3 355.4v6.0M455.1 356.2l4.3 4.3M455.1 360.6l4.3 -4.3M454.3 360.8h6.0M457.3 357.8v6.0M455.1 358.7l4.3 4.3M455.1 363.0l4.3 -4.3M567.8 300.0h6.0M570.8 297.0v6.0M568.6 297.8l4.3 4.3M568.6 302.2l4.3 -4.3M567.4 303.9h6.0M570.4 300.9v6.0M568.3 301.7l4.3 4.3M568.3 306.0l4.3 -4.3M567.6 307.9h6.0M570.6 304.9v6.0M568.4 305.7l4.3 4.3M568.4 310.0l4.3 -4.3M567.5 311.8h6.0M570.5 308.8v6.0M568.4 309.6l4.3 4.3M568.4 313.9l4.3 -4.3M106.1 532.0h6.0M109.1 529.0v6.0M106.9 529.8l4.3 4.3M106.9 534.2l4.3 -4.3M106.0 536.0h6.0M109.0 533.0v6.0M106.9 533.8l4.3 4.3M106.9 538.1l4.3 -4.3M106.1 539.4h6.0M109.1 536.4v6.0M106.9 537.3l4.3 4.3M106.9 541.6l4.3 -4.3M105.9 541.4h6.0M108.9 538.4v6.0M106.8 539.3l4.3 4.3M106.8 543.6l4.3 -4.3M105.8 544.1h6.0M108.8 541.1v6.0M106.7 542.0l4.3 4.3M106.7 546.3l4.3 -4.3M105.9 546.7h6.0M108.9 543.7v6.0M106.7 544.5l4.3 4.3M106.7 548.8l4.3 -4.3M105.9 550.0h6.0M108.9 547.0v6.0M106.8 547.9l4.3 4.3M106.8 552.2l4.3 -4.3M106.2 552.7h6.0M109.2 549.7v6.0M107.0 550.5l4.3 4.3M107.0 554.8l4.3 -4.3M106.2 555.7h6.0M109.2 552.7v6.0M107.0 553.5l4.3 4.3M107.0 557.8l4.3 -4.3M106.0 559.0h6.0M109.0 556.0v6.0M106.8 556.8l4.3 4.3M106.8 561.2l4.3 -4.3M105.9 562.8h6.0M108.9 559.8v6.0M106.7 560.6l4.3 4.3M106.7 564.9l4.3 -4.3M106.0 566.7h6.0M109.0 563.7v6.0M106.8 564.5l4.3 4.3M106.8 568.9l4.3 -4.3M106.0 568.6h6.0M109.0 565.6v6.0M106.9 566.5l4.3 4.3M106.9 570.8l4.3 -4.3M106.0 570.7h6.0M109.0 567.7v6.0M106.9 568.5l4.3 4.3M106.9 572.9l4.3 -4.3M106.1 574.0h6.0M109.1 571.0v6.0M106.9 571.9l4.3 4.3M106.9 576.2l4.3 -4.3M105.8 577.5h6.0M108.8 574.5v6.0M106.6 575.3l4.3 4.3M106.6 579.6l4.3 -4.3M106.1 579.3h6.0M109.1 576.3v6.0M106.9 577.1l4.3 4.3M106.9 581.4l4.3 -4.3M106.2 582.4h6.0M109.2 579.4v6.0M107.0 580.3l4.3 4.3M107.0 584.6l4.3 -4.3M105.8 585.2h6.0M108.8 582.2v6.0M106.7 583.0l4.3 4.3M106.7 587.3l4.3 -4.3M105.8 587.0h6.0M108.8 584.0v6.0M106.7 584.8l4.3 4.3M106.7 589.2l4.3 -4.3M106.1 589.2h6.0M109.1 586.2v6.0M106.9 587.1l4.3 4.3M106.9 591.4l4.3 -4.3M106.1 592.4h6.0M109.1 589.4v6.0M107.0 590.2l4.3 4.3M107.0 594.5l4.3 -4.3M106.0 596.3h6.0M109.0 593.3v6.0M106.8 594.2l4.3 4.3M106.8 598.5l4.3 -4.3M105.9 598.5h6.0M108.9 595.5v6.0M106.7 596.3l4.3 4.3M106.7 600.6l4.3 -4.3M105.9 601.7h6.0M108.9 598.7v6.0M106.7 599.6l4.3 4.3M106.7 603.9l4.3 -4.3M106.0 604.8h6.0M109.0 601.8v6.0M106.8 602.6l4.3 4.3M106.8 606.9l4.3 -4.3M105.8 606.6h6.0M108.8 603.6v6.0M106.7 604.5l4.3 4.3M106.7 608.8l4.3 -4.3M106.0 610.7h6.0M109.0 607.7v6.0M106.8 608.6l4.3 4.3M106.8 612.9l4.3 -4.3M106.0 613.6h6.0M109.0 610.6v6.0M106.8 611.5l4.3 4.3M106.8 615.8l4.3 -4.3M106.1 617.4h6.0M109.1 614.4v6.0M106.9 615.2l4.3 4.3M106.9 619.5l4.3 -4.3M106.0 620.8h6.0M109.0 617.8v6.0M106.9 618.6l4.3 4.3M106.9 623.0l4.3 -4.3M105.9 622.9h6.0M108.9 619.9v6.0M106.7 620.8l4.3 4.3M106.7 625.1l4.3 -4.3M105.8 625.4h6.0M108.8 622.4v6.0M106.7 623.2l4.3 4.3M106.7 627.6l4.3 -4.3M106.1 628.7h6.0M109.1 625.7v6.0M107.0 626.6l4.3 4.3M107.0 630.9l4.3 -4.3M105.8 632.8h6.0M108.8 629.8v6.0M106.7 630.6l4.3 4.3M106.7 634.9l4.3 -4.3M153.6 532.0h6.0M156.6 529.0v6.0M154.4 529.8l4.3 4.3M154.4 534.2l4.3 -4.3M153.6 536.2h6.0M156.6 533.2v6.0M154.4 534.0l4.3 4.3M154.4 538.4l4.3 -4.3M153.4 540.2h6.0M156.4 537.2v6.0M154.3 538.0l4.3 4.3M154.3 542.3l4.3 -4.3M153.5 542.7h6.0M156.5 539.7v6.0M154.3 540.5l4.3 4.3M154.3 544.8l4.3 -4.3M153.5 545.9h6.0M156.5 542.9v6.0M154.3 543.8l4.3 4.3M154.3 548.1l4.3 -4.3M153.6 549.4h6.0M156.6 546.4v6.0M154.4 547.2l4.3 4.3M154.4 551.5l4.3 -4.3M153.6 552.6h6.0M156.6 549.6v6.0M154.4 550.5l4.3 4.3M154.4 554.8l4.3 -4.3M153.5 556.2h6.0M156.5 553.2v6.0M154.3 554.1l4.3 4.3M154.3 558.4l4.3 -4.3M153.6 559.8h6.0M156.6 556.8v6.0M154.5 557.7l4.3 4.3M154.5 562.0l4.3 -4.3M153.8 563.1h6.0M156.8 560.1v6.0M154.6 561.0l4.3 4.3M154.6 565.3l4.3 -4.3M153.5 566.3h6.0M156.5 563.3v6.0M154.3 564.1l4.3 4.3M154.3 568.4l4.3 -4.3M153.6 569.3h6.0M156.6 566.3v6.0M154.4 567.1l4.3 4.3M154.4 571.4l4.3 -4.3M153.7 573.3h6.0M156.7 570.3v6.0M154.5 571.1l4.3 4.3M154.5 575.5l4.3 -4.3M153.8 576.5h6.0M156.8 573.5v6.0M154.6 574.3l4.3 4.3M154.6 578.6l4.3 -4.3M153.7 578.5h6.0M156.7 575.5v6.0M154.5 576.4l4.3 4.3M154.5 580.7l4.3 -4.3M153.8 581.9h6.0M156.8 578.9v6.0M154.6 579.8l4.3 4.3M154.6 584.1l4.3 -4.3M153.6 585.8h6.0M156.6 582.8v6.0M154.5 583.7l4.3 4.3M154.5 588.0l4.3 -4.3M153.8 589.3h6.0M156.8 586.3v6.0M154.6 587.1l4.3 4.3M154.6 591.4l4.3 -4.3M153.4 592.7h6.0M156.4 589.7v6.0M154.3 590.6l4.3 4.3M154.3 594.9l4.3 -4.3M153.7 595.3h6.0M156.7 592.3v6.0M154.6 593.1l4.3 4.3M154.6 597.4l4.3 -4.3M153.8 597.9h6.0M156.8 594.9v6.0M154.6 595.8l4.3 4.3M154.6 600.1l4.3 -4.3M153.7 600.7h6.0M156.7 597.7v6.0M154.5 598.6l4.3 4.3M154.5 602.9l4.3 -4.3M153.6 604.9h6.0M156.6 601.9v6.0M154.5 602.8l4.3 4.3M154.5 607.1l4.3 -4.3M153.6 607.2h6.0M156.6 604.2v6.0M154.5 605.1l4.3 4.3M154.5 609.4l4.3 -4.3M153.8 609.9h6.0M156.8 606.9v6.0M154.6 607.7l4.3 4.3M154.6 612.0l4.3 -4.3M153.5 612.7h6.0M156.5 609.7v6.0M154.4 610.6l4.3 4.3M154.4 614.9l4.3 -4.3M153.7 615.7h6.0M156.7 612.7v6.0M154.5 613.6l4.3 4.3M154.5 617.9l4.3 -4.3M153.7 619.6h6.0M156.7 616.6v6.0M154.5 617.4l4.3 4.3M154.5 621.7l4.3 -4.3M153.7 622.6h6.0M156.7 619.6v6.0M154.5 620.4l4.3 4.3M154.5 624.7l4.3 -4.3M153.7 624.9h6.0M156.7 621.9v6.0M154.5 622.7l4.3 4.3M154.5 627.0l4.3 -4.3M153.7 628.7h6.0M156.7 625.7v6.0M154.6 626.5l4.3 4.3M154.6 630.9l4.3 -4.3M153.5 631.7h6.0M156.5 628.7v6.0M154.3 629.5l4.3 4.3M154.3 633.8l4.3 -4.3M224.3 536.0h6.0M227.3 533.0v6.0M225.1 533.8l4.3 4.3M225.1 538.2l4.3 -4.3M224.6 539.7h6.0M227.6 536.7v6.0M225.4 537.6l4.3 4.3M225.4 541.9l4.3 -4.3M224.5 542.9h6.0M227.5 539.9v6.0M225.3 540.7l4.3 4.3M225.3 545.1l4.3 -4.3M224.5 546.0h6.0M227.5 543.0v6.0M225.3 543.8l4.3 4.3M225.3 548.2l4.3 -4.3M224.5 548.8h6.0M227.5 545.8v6.0M225.4 546.7l4.3 4.3M225.4 551.0l4.3 -4.3M224.4 552.1h6.0M227.4 549.1v6.0M225.2 550.0l4.3 4.3M225.2 554.3l4.3 -4.3M224.5 554.9h6.0M227.5 551.9v6.0M225.4 552.7l4.3 4.3M225.4 557.0l4.3 -4.3M224.6 556.9h6.0M227.6 553.9v6.0M225.5 554.7l4.3 4.3M225.5 559.0l4.3 -4.3M224.4 560.4h6.0M227.4 557.4v6.0M225.3 558.3l4.3 4.3M225.3 562.6l4.3 -4.3M224.5 563.8h6.0M227.5 560.8v6.0M225.4 561.6l4.3 4.3M225.4 566.0l4.3 -4.3M224.4 566.6h6.0M227.4 563.6v6.0M225.3 564.4l4.3 4.3M225.3 568.8l4.3 -4.3M224.4 570.0h6.0M227.4 567.0v6.0M225.2 567.8l4.3 4.3M225.2 572.1l4.3 -4.3M224.5 573.9h6.0M227.5 570.9v6.0M225.4 571.7l4.3 4.3M225.4 576.0l4.3 -4.3M224.6 577.2h6.0M227.6 574.2v6.0M225.5 575.0l4.3 4.3M225.5 579.3l4.3 -4.3M224.6 579.5h6.0M227.6 576.5v6.0M225.4 577.4l4.3 4.3M225.4 581.7l4.3 -4.3M224.4 583.0h6.0M227.4 580.0v6.0M225.2 580.8l4.3 4.3M225.2 585.1l4.3 -4.3M224.5 586.2h6.0M227.5 583.2v6.0M225.4 584.0l4.3 4.3M225.4 588.3l4.3 -4.3M224.4 590.2h6.0M227.4 587.2v6.0M225.3 588.1l4.3 4.3M225.3 592.4l4.3 -4.3M224.5 592.6h6.0M227.5 589.6v6.0M225.3 590.4l4.3 4.3M225.3 594.8l4.3 -4.3M224.4 595.0h6.0M227.4 592.0v6.0M225.2 592.9l4.3 4.3M225.2 597.2l4.3 -4.3M224.4 599.2h6.0M227.4 596.2v6.0M225.2 597.0l4.3 4.3M225.2 601.3l4.3 -4.3M224.4 602.8h6.0M227.4 599.8v6.0M225.2 600.6l4.3 4.3M225.2 604.9l4.3 -4.3M224.6 606.6h6.0M227.6 603.6v6.0M225.4 604.4l4.3 4.3M225.4 608.7l4.3 -4.3M224.6 608.8h6.0M227.6 605.8v6.0M225.4 606.7l4.3 4.3M225.4 611.0l4.3 -4.3M224.4 612.3h6.0M227.4 609.3v6.0M225.2 610.2l4.3 4.3M225.2 614.5l4.3 -4.3M224.5 615.2h6.0M227.5 612.2v6.0M225.4 613.1l4.3 4.3M225.4 617.4l4.3 -4.3M224.6 618.7h6.0M227.6 615.7v6.0M225.4 616.5l4.3 4.3M225.4 620.8l4.3 -4.3M224.5 622.7h6.0M227.5 619.7v6.0M225.4 620.5l4.3 4.3M225.4 624.8l4.3 -4.3M224.6 626.5h6.0M227.6 623.5v6.0M225.4 624.4l4.3 4.3M225.4 628.7l4.3 -4.3M224.4 630.2h6.0M227.4 627.2v6.0M225.2 628.1l4.3 4.3M225.2 632.4l4.3 -4.3M224.5 633.2h6.0M227.5 630.2v6.0M225.3 631.1l4.3 4.3M225.3 635.4l4.3 -4.3M295.6 541.5h6.0M298.6 538.5v6.0M296.4 539.3l4.3 4.3M296.4 543.7l4.3 -4.3M295.3 544.1h6.0M298.3 541.1v6.0M296.2 542.0l4.3 4.3M296.2 546.3l4.3 -4.3M295.3 548.0h6.0M298.3 545.0v6.0M296.1 545.8l4.3 4.3M296.1 550.1l4.3 -4.3M295.5 551.9h6.0M298.5 548.9v6.0M296.3 549.7l4.3 4.3M296.3 554.0l4.3 -4.3M295.5 554.5h6.0M298.5 551.5v6.0M296.3 552.3l4.3 4.3M296.3 556.6l4.3 -4.3M295.6 557.9h6.0M298.6 554.9v6.0M296.4 555.7l4.3 4.3M296.4 560.0l4.3 -4.3M295.4 561.6h6.0M298.4 558.6v6.0M296.2 559.4l4.3 4.3M296.2 563.7l4.3 -4.3M295.5 565.5h6.0M298.5 562.5v6.0M296.4 563.3l4.3 4.3M296.4 567.7l4.3 -4.3M295.3 569.7h6.0M298.3 566.7v6.0M296.1 567.5l4.3 4.3M296.1 571.9l4.3 -4.3M295.6 572.0h6.0M298.6 569.0v6.0M296.4 569.8l4.3 4.3M296.4 574.1l4.3 -4.3M295.4 575.4h6.0M298.4 572.4v6.0M296.2 573.2l4.3 4.3M296.2 577.6l4.3 -4.3M295.5 578.1h6.0M298.5 575.1v6.0M296.3 576.0l4.3 4.3M296.3 580.3l4.3 -4.3M295.4 582.2h6.0M298.4 579.2v6.0M296.3 580.0l4.3 4.3M296.3 584.3l4.3 -4.3M295.5 584.3h6.0M298.5 581.3v6.0M296.3 582.2l4.3 4.3M296.3 586.5l4.3 -4.3M295.4 586.7h6.0M298.4 583.7v6.0M296.3 584.6l4.3 4.3M296.3 588.9l4.3 -4.3M295.6 590.1h6.0M298.6 587.1v6.0M296.4 588.0l4.3 4.3M296.4 592.3l4.3 -4.3M295.3 592.1h6.0M298.3 589.1v6.0M296.1 589.9l4.3 4.3M296.1 594.2l4.3 -4.3M295.4 596.1h6.0M298.4 593.1v6.0M296.3 593.9l4.3 4.3M296.3 598.3l4.3 -4.3M295.3 598.6h6.0M298.3 595.6v6.0M296.2 596.5l4.3 4.3M296.2 600.8l4.3 -4.3M295.6 601.6h6.0M298.6 598.6v6.0M296.4 599.4l4.3 4.3M296.4 603.7l4.3 -4.3M295.5 605.0h6.0M298.5 602.0v6.0M296.3 602.9l4.3 4.3M296.3 607.2l4.3 -4.3M295.5 609.0h6.0M298.5 606.0v6.0M296.4 606.9l4.3 4.3M296.4 611.2l4.3 -4.3M295.3 611.6h6.0M298.3 608.6v6.0M296.1 609.4l4.3 4.3M296.1 613.8l4.3 -4.3M295.4 615.5h6.0M298.4 612.5v6.0M296.3 613.4l4.3 4.3M296.3 617.7l4.3 -4.3M295.5 619.2h6.0M298.5 616.2v6.0M296.3 617.0l4.3 4.3M296.3 621.3l4.3 -4.3M295.2 621.5h6.0M298.2 618.5v6.0M296.0 619.4l4.3 4.3M296.0 623.7l4.3 -4.3M295.4 623.5h6.0M298.4 620.5v6.0M296.2 621.3l4.3 4.3M296.2 625.6l4.3 -4.3M295.3 627.4h6.0M298.3 624.4v6.0M296.2 625.2l4.3 4.3M296.2 629.6l4.3 -4.3M119.1 95.1h6.0M122.1 92.1v6.0M119.9 92.9l4.3 4.3M119.9 97.2l4.3 -4.3M121.7 25.0h6.0M124.7 22.0v6.0M122.5 22.9l4.3 4.3M122.5 27.2l4.3 -4.3M116.7 59.2h6.0M119.7 56.2v6.0M117.5 57.0l4.3 4.3M117.5 61.4l4.3 -4.3M124.0 33.2h6.0M127.0 30.2v6.0M124.8 31.0l4.3 4.3M124.8 35.3l4.3 -4.3M120.8 80.6h6.0M123.8 77.6v6.0M121.6 78.4l4.3 4.3M121.6 82.8l4.3 -4.3M123.6 34.2h6.0M126.6 31.2v6.0M124.5 32.1l4.3 4.3M124.5 36.4l4.3 -4.3M115.2 32.6h6.0M118.2 29.6v6.0M116.1 30.4l4.3 4.3M116.1 34.8l4.3 -4.3M115.4 64.7h6.0M118.4 61.7v6.0M116.3 62.6l4.3 4.3M116.3 66.9l4.3 -4.3M116.2 86.4h6.0M119.2 83.4v6.0M117.0 84.2l4.3 4.3M117.0 88.5l4.3 -4.3M116.4 55.6h6.0M119.4 52.6v6.0M117.3 53.4l4.3 4.3M117.3 57.7l4.3 -4.3M119.1 76.9h6.0M122.1 73.9v6.0M119.9 74.7l4.3 4.3M119.9 79.0l4.3 -4.3M115.4 55.5h6.0M118.4 52.5v6.0M116.3 53.4l4.3 4.3M116.3 57.7l4.3 -4.3M116.8 98.9h6.0M119.8 95.9v6.0M117.7 96.7l4.3 4.3M117.7 101.0l4.3 -4.3M119.6 38.5h6.0M122.6 35.5v6.0M120.4 36.4l4.3 4.3M120.4 40.7l4.3 -4.3M114.2 22.3h6.0M117.2 19.3v6.0M115.1 20.2l4.3 4.3M115.1 24.5l4.3 -4.3M118.0 72.8h6.0M121.0 69.8v6.0M118.9 70.6l4.3 4.3M118.9 74.9l4.3 -4.3M119.7 81.8h6.0M122.7 78.8v6.0M120.6 79.6l4.3 4.3M120.6 83.9l4.3 -4.3M123.2 25.2h6.0M126.2 22.2v6.0M124.0 23.0l4.3 4.3M124.0 27.4l4.3 -4.3M113.2 26.6h6.0M116.2 23.6v6.0M114.0 24.5l4.3 4.3M114.0 28.8l4.3 -4.3M121.1 104.3h6.0M124.1 101.3v6.0M121.9 102.1l4.3 4.3M121.9 106.4l4.3 -4.3M110.8 66.7h6.0M113.8 63.7v6.0M111.6 64.6l4.3 4.3M111.6 68.9l4.3 -4.3M118.4 40.5h6.0M121.4 37.5v6.0M119.2 38.3l4.3 4.3M119.2 42.6l4.3 -4.3M117.6 76.1h6.0M120.6 73.1v6.0M118.4 73.9l4.3 4.3M118.4 78.2l4.3 -4.3M115.4 107.4h6.0M118.4 104.4v6.0M116.2 105.3l4.3 4.3M116.2 109.6l4.3 -4.3M122.0 94.0h6.0M125.0 91.0v6.0M122.8 91.9l4.3 4.3M122.8 96.2l4.3 -4.3M124.4 27.7h6.0M127.4 24.7v6.0M125.2 25.6l4.3 4.3M125.2 29.9l4.3 -4.3M122.1 95.2h6.0M125.1 92.2v6.0M122.9 93.1l4.3 4.3M122.9 97.4l4.3 -4.3M112.0 40.5h6.0M115.0 37.5v6.0M112.8 38.3l4.3 4.3M112.8 42.6l4.3 -4.3M110.5 82.2h6.0M113.5 79.2v6.0M111.3 80.1l4.3 4.3M111.3 84.4l4.3 -4.3M124.1 44.4h6.0M127.1 41.4v6.0M124.9 42.2l4.3 4.3M124.9 46.6l4.3 -4.3M111.7 38.1h6.0M114.7 35.1v6.0M112.5 35.9l4.3 4.3M112.5 40.3l4.3 -4.3M122.4 89.7h6.0M125.4 86.7v6.0M123.2 87.5l4.3 4.3M123.2 91.8l4.3 -4.3M115.4 44.2h6.0M118.4 41.2v6.0M116.2 42.1l4.3 4.3M116.2 46.4l4.3 -4.3M117.7 24.6h6.0M120.7 21.6v6.0M118.6 22.4l4.3 4.3M118.6 26.8l4.3 -4.3M115.5 45.5h6.0M118.5 42.5v6.0M116.3 43.4l4.3 4.3M116.3 47.7l4.3 -4.3M124.0 56.7h6.0M127.0 53.7v6.0M124.9 54.5l4.3 4.3M124.9 58.9l4.3 -4.3M113.6 85.8h6.0M116.6 82.8v6.0M114.5 83.7l4.3 4.3M114.5 88.0l4.3 -4.3M118.1 57.7h6.0M121.1 54.7v6.0M118.9 55.6l4.3 4.3M118.9 59.9l4.3 -4.3M113.0 54.3h6.0M116.0 51.3v6.0M113.8 52.2l4.3 4.3M113.8 56.5l4.3 -4.3M121.6 87.2h6.0M124.6 84.2v6.0M122.4 85.0l4.3 4.3M122.4 89.4l4.3 -4.3M121.6 90.9h6.0M124.6 87.9v6.0M122.4 88.8l4.3 4.3M122.4 93.1l4.3 -4.3M113.6 76.2h6.0M116.6 73.2v6.0M114.4 74.1l4.3 4.3M114.4 78.4l4.3 -4.3M123.7 64.6h6.0M126.7 61.6v6.0M124.5 62.4l4.3 4.3M124.5 66.8l4.3 -4.3M119.8 81.3h6.0M122.8 78.3v6.0M120.6 79.2l4.3 4.3M120.6 83.5l4.3 -4.3M119.0 107.2h6.0M122.0 104.2v6.0M119.8 105.1l4.3 4.3M119.8 109.4l4.3 -4.3M111.5 78.7h6.0M114.5 75.7v6.0M112.3 76.6l4.3 4.3M112.3 80.9l4.3 -4.3M110.9 75.0h6.0M113.9 72.0v6.0M111.8 72.9l4.3 4.3M111.8 77.2l4.3 -4.3M115.5 83.3h6.0M118.5 80.3v6.0M116.3 81.2l4.3 4.3M116.3 85.5l4.3 -4.3M119.6 69.6h6.0M122.6 66.6v6.0M120.4 67.4l4.3 4.3M120.4 71.8l4.3 -4.3M119.7 59.5h6.0M122.7 56.5v6.0M120.5 57.3l4.3 4.3M120.5 61.7l4.3 -4.3M118.5 60.6h6.0M121.5 57.6v6.0M119.3 58.5l4.3 4.3M119.3 62.8l4.3 -4.3M119.3 62.2h6.0M122.3 59.2v6.0M120.2 60.0l4.3 4.3M120.2 64.4l4.3 -4.3M115.4 61.9h6.0M118.4 58.9v6.0M116.2 59.8l4.3 4.3M116.2 64.1l4.3 -4.3M115.7 68.5h6.0M118.7 65.5v6.0M116.5 66.4l4.3 4.3M116.5 70.7l4.3 -4.3M120.0 92.8h6.0M123.0 89.8v6.0M120.9 90.6l4.3 4.3M120.9 94.9l4.3 -4.3M114.1 96.6h6.0M117.1 93.6v6.0M115.0 94.5l4.3 4.3M115.0 98.8l4.3 -4.3M124.3 26.6h6.0M127.3 23.6v6.0M125.2 24.4l4.3 4.3M125.2 28.7l4.3 -4.3M119.9 44.2h6.0M122.9 41.2v6.0M120.8 42.0l4.3 4.3M120.8 46.3l4.3 -4.3M110.8 92.9h6.0M113.8 89.9v6.0M111.6 90.7l4.3 4.3M111.6 95.0l4.3 -4.3M118.6 90.4h6.0M121.6 87.4v6.0M119.4 88.2l4.3 4.3M119.4 92.5l4.3 -4.3M118.8 101.4h6.0M121.8 98.4v6.0M119.7 99.2l4.3 4.3M119.7 103.5l4.3 -4.3M122.4 43.8h6.0M125.4 40.8v6.0M123.2 41.7l4.3 4.3M123.2 46.0l4.3 -4.3M114.1 95.6h6.0M117.1 92.6v6.0M114.9 93.5l4.3 4.3M114.9 97.8l4.3 -4.3M118.0 72.3h6.0M121.0 69.3v6.0M118.8 70.1l4.3 4.3M118.8 74.4l4.3 -4.3M109.8 107.9h6.0M112.8 104.9v6.0M110.6 105.8l4.3 4.3M110.6 110.1l4.3 -4.3M114.8 86.9h6.0M117.8 83.9v6.0M115.7 84.7l4.3 4.3M115.7 89.0l4.3 -4.3M113.3 38.8h6.0M116.3 35.8v6.0M114.2 36.7l4.3 4.3M114.2 41.0l4.3 -4.3M119.9 52.8h6.0M122.9 49.8v6.0M120.8 50.7l4.3 4.3M120.8 55.0l4.3 -4.3M120.2 34.3h6.0M123.2 31.3v6.0M121.0 32.1l4.3 4.3M121.0 36.4l4.3 -4.3M124.1 36.5h6.0M127.1 33.5v6.0M124.9 34.3l4.3 4.3M124.9 38.6l4.3 -4.3M174.3 40.6h6.0M177.3 37.6v6.0M175.1 38.5l4.3 4.3M175.1 42.8l4.3 -4.3M163.9 103.6h6.0M166.9 100.6v6.0M164.7 101.4l4.3 4.3M164.7 105.8l4.3 -4.3M182.9 74.9h6.0M185.9 71.9v6.0M183.7 72.7l4.3 4.3M183.7 77.0l4.3 -4.3M186.4 74.0h6.0M189.4 71.0v6.0M187.2 71.8l4.3 4.3M187.2 76.1l4.3 -4.3M171.3 49.4h6.0M174.3 46.4v6.0M172.1 47.2l4.3 4.3M172.1 51.5l4.3 -4.3M181.8 36.2h6.0M184.8 33.2v6.0M182.6 34.1l4.3 4.3M182.6 38.4l4.3 -4.3M180.6 103.9h6.0M183.6 100.9v6.0M181.4 101.7l4.3 4.3M181.4 106.1l4.3 -4.3M174.2 54.4h6.0M177.2 51.4v6.0M175.0 52.3l4.3 4.3M175.0 56.6l4.3 -4.3M167.2 36.1h6.0M170.2 33.1v6.0M168.1 34.0l4.3 4.3M168.1 38.3l4.3 -4.3M163.4 61.7h6.0M166.4 58.7v6.0M164.2 59.6l4.3 4.3M164.2 63.9l4.3 -4.3M176.6 46.0h6.0M179.6 43.0v6.0M177.4 43.8l4.3 4.3M177.4 48.1l4.3 -4.3M176.9 8.4h6.0M179.9 5.4v6.0M177.8 6.2l4.3 4.3M177.8 10.5l4.3 -4.3M162.5 108.2h6.0M165.5 105.2v6.0M163.4 106.1l4.3 4.3M163.4 110.4l4.3 -4.3M169.2 97.5h6.0M172.2 94.5v6.0M170.1 95.4l4.3 4.3M170.1 99.7l4.3 -4.3M168.4 61.0h6.0M171.4 58.0v6.0M169.2 58.8l4.3 4.3M169.2 63.1l4.3 -4.3M183.2 27.5h6.0M186.2 24.5v6.0M184.1 25.3l4.3 4.3M184.1 29.7l4.3 -4.3M190.3 44.1h6.0M193.3 41.1v6.0M191.2 41.9l4.3 4.3M191.2 46.2l4.3 -4.3M172.4 45.5h6.0M175.4 42.5v6.0M173.3 43.4l4.3 4.3M173.3 47.7l4.3 -4.3M169.6 20.7h6.0M172.6 17.7v6.0M170.5 18.5l4.3 4.3M170.5 22.9l4.3 -4.3M188.0 41.6h6.0M191.0 38.6v6.0M188.9 39.4l4.3 4.3M188.9 43.7l4.3 -4.3M184.4 96.7h6.0M187.4 93.7v6.0M185.3 94.6l4.3 4.3M185.3 98.9l4.3 -4.3M172.6 37.1h6.0M175.6 34.1v6.0M173.5 34.9l4.3 4.3M173.5 39.3l4.3 -4.3M179.9 96.1h6.0M182.9 93.1v6.0M180.7 94.0l4.3 4.3M180.7 98.3l4.3 -4.3M186.1 68.1h6.0M189.1 65.1v6.0M186.9 65.9l4.3 4.3M186.9 70.2l4.3 -4.3M167.8 105.7h6.0M170.8 102.7v6.0M168.7 103.5l4.3 4.3M168.7 107.9l4.3 -4.3M190.5 5.9h6.0M193.5 2.9v6.0M191.4 3.8l4.3 4.3M191.4 8.1l4.3 -4.3M172.7 15.8h6.0M175.7 12.8v6.0M173.5 13.6l4.3 4.3M173.5 17.9l4.3 -4.3M180.7 63.8h6.0M183.7 60.8v6.0M181.6 61.6l4.3 4.3M181.6 65.9l4.3 -4.3M178.4 81.6h6.0M181.4 78.6v6.0M179.3 79.4l4.3 4.3M179.3 83.8l4.3 -4.3M176.0 107.4h6.0M179.0 104.4v6.0M176.9 105.2l4.3 4.3M176.9 109.6l4.3 -4.3M177.9 83.3h6.0M180.9 80.3v6.0M178.8 81.2l4.3 4.3M178.8 85.5l4.3 -4.3M187.6 19.0h6.0M190.6 16.0v6.0M188.4 16.9l4.3 4.3M188.4 21.2l4.3 -4.3M176.2 31.3h6.0M179.2 28.3v6.0M177.0 29.2l4.3 4.3M177.0 33.5l4.3 -4.3M171.4 58.5h6.0M174.4 55.5v6.0M172.2 56.3l4.3 4.3M172.2 60.6l4.3 -4.3M172.3 32.7h6.0M175.3 29.7v6.0M173.1 30.5l4.3 4.3M173.1 34.9l4.3 -4.3M185.1 36.8h6.0M188.1 33.8v6.0M185.9 34.6l4.3 4.3M185.9 38.9l4.3 -4.3M186.9 76.4h6.0M189.9 73.4v6.0M187.7 74.2l4.3 4.3M187.7 78.5l4.3 -4.3M160.2 89.1h6.0M163.2 86.1v6.0M161.1 86.9l4.3 4.3M161.1 91.3l4.3 -4.3M174.3 73.1h6.0M177.3 70.1v6.0M175.2 70.9l4.3 4.3M175.2 75.2l4.3 -4.3M159.8 76.9h6.0M162.8 73.9v6.0M160.7 74.8l4.3 4.3M160.7 79.1l4.3 -4.3M182.5 96.0h6.0M185.5 93.0v6.0M183.4 93.9l4.3 4.3M183.4 98.2l4.3 -4.3M176.4 17.4h6.0M179.4 14.4v6.0M177.2 15.2l4.3 4.3M177.2 19.5l4.3 -4.3M178.8 37.4h6.0M181.8 34.4v6.0M179.6 35.2l4.3 4.3M179.6 39.5l4.3 -4.3M183.0 20.8h6.0M186.0 17.8v6.0M183.9 18.7l4.3 4.3M183.9 23.0l4.3 -4.3M191.1 52.7h6.0M194.1 49.7v6.0M192.0 50.6l4.3 4.3M192.0 54.9l4.3 -4.3M161.5 55.2h6.0M164.5 52.2v6.0M162.4 53.0l4.3 4.3M162.4 57.3l4.3 -4.3M165.1 102.4h6.0M168.1 99.4v6.0M166.0 100.2l4.3 4.3M166.0 104.6l4.3 -4.3M192.5 24.5h6.0M195.5 21.5v6.0M193.3 22.4l4.3 4.3M193.3 26.7l4.3 -4.3M192.1 57.8h6.0M195.1 54.8v6.0M193.0 55.7l4.3 4.3M193.0 60.0l4.3 -4.3M182.3 23.1h6.0M185.3 20.1v6.0M183.2 20.9l4.3 4.3M183.2 25.2l4.3 -4.3M173.4 107.1h6.0M176.4 104.1v6.0M174.3 105.0l4.3 4.3M174.3 109.3l4.3 -4.3M187.7 30.1h6.0M190.7 27.1v6.0M188.6 28.0l4.3 4.3M188.6 32.3l4.3 -4.3M182.7 7.7h6.0M185.7 4.7v6.0M183.5 5.5l4.3 4.3M183.5 9.8l4.3 -4.3M164.5 47.4h6.0M167.5 44.4v6.0M165.3 45.2l4.3 4.3M165.3 49.5l4.3 -4.3M174.5 103.8h6.0M177.5 100.8v6.0M175.3 101.6l4.3 4.3M175.3 106.0l4.3 -4.3M191.6 56.3h6.0M194.6 53.3v6.0M192.4 54.1l4.3 4.3M192.4 58.4l4.3 -4.3M190.7 42.5h6.0M193.7 39.5v6.0M191.5 40.3l4.3 4.3M191.5 44.6l4.3 -4.3M188.8 38.7h6.0M191.8 35.7v6.0M189.7 36.6l4.3 4.3M189.7 40.9l4.3 -4.3M162.7 56.6h6.0M165.7 53.6v6.0M163.6 54.4l4.3 4.3M163.6 58.7l4.3 -4.3M188.6 60.4h6.0M191.6 57.4v6.0M189.5 58.2l4.3 4.3M189.5 62.5l4.3 -4.3M189.0 25.9h6.0M192.0 22.9v6.0M189.8 23.7l4.3 4.3M189.8 28.0l4.3 -4.3M175.1 11.4h6.0M178.1 8.4v6.0M176.0 9.3l4.3 4.3M176.0 13.6l4.3 -4.3M182.2 59.1h6.0M185.2 56.1v6.0M183.0 57.0l4.3 4.3M183.0 61.3l4.3 -4.3M173.9 99.4h6.0M176.9 96.4v6.0M174.8 97.2l4.3 4.3M174.8 101.5l4.3 -4.3M177.4 106.0h6.0M180.4 103.0v6.0M178.3 103.9l4.3 4.3M178.3 108.2l4.3 -4.3M184.1 42.5h6.0M187.1 39.5v6.0M184.9 40.3l4.3 4.3M184.9 44.6l4.3 -4.3M191.2 33.3h6.0M194.2 30.3v6.0M192.0 31.2l4.3 4.3M192.0 35.5l4.3 -4.3M180.7 54.4h6.0M183.7 51.4v6.0M181.6 52.2l4.3 4.3M181.6 56.5l4.3 -4.3M168.7 101.5h6.0M171.7 98.5v6.0M169.5 99.4l4.3 4.3M169.5 103.7l4.3 -4.3M170.1 75.9h6.0M173.1 72.9v6.0M170.9 73.7l4.3 4.3M170.9 78.0l4.3 -4.3M187.6 38.2h6.0M190.6 35.2v6.0M188.5 36.1l4.3 4.3M188.5 40.4l4.3 -4.3M164.9 54.1h6.0M167.9 51.1v6.0M165.7 52.0l4.3 4.3M165.7 56.3l4.3 -4.3M174.5 101.3h6.0M177.5 98.3v6.0M175.4 99.1l4.3 4.3M175.4 103.4l4.3 -4.3M173.9 57.1h6.0M176.9 54.1v6.0M174.7 55.0l4.3 4.3M174.7 59.3l4.3 -4.3M191.7 21.6h6.0M194.7 18.6v6.0M192.5 19.5l4.3 4.3M192.5 23.8l4.3 -4.3M175.0 9.6h6.0M178.0 6.6v6.0M175.8 7.4l4.3 4.3M175.8 11.7l4.3 -4.3M181.4 60.7h6.0M184.4 57.7v6.0M182.2 58.6l4.3 4.3M182.2 62.9l4.3 -4.3M169.7 93.2h6.0M172.7 90.2v6.0M170.6 91.0l4.3 4.3M170.6 95.4l4.3 -4.3M177.3 13.0h6.0M180.3 10.0v6.0M178.1 10.8l4.3 4.3M178.1 15.1l4.3 -4.3M170.5 79.6h6.0M173.5 76.6v6.0M171.4 77.4l4.3 4.3M171.4 81.8l4.3 -4.3M182.4 89.3h6.0M185.4 86.3v6.0M183.3 87.2l4.3 4.3M183.3 91.5l4.3 -4.3M178.5 17.6h6.0M181.5 14.6v6.0M179.4 15.4l4.3 4.3M179.4 19.8l4.3 -4.3M182.5 6.2h6.0M185.5 3.2v6.0M183.4 4.1l4.3 4.3M183.4 8.4l4.3 -4.3M168.2 77.6h6.0M171.2 74.6v6.0M169.0 75.4l4.3 4.3M169.0 79.8l4.3 -4.3M171.1 67.6h6.0M174.1 64.6v6.0M172.0 65.5l4.3 4.3M172.0 69.8l4.3 -4.3M179.9 107.0h6.0M182.9 104.0v6.0M180.7 104.8l4.3 4.3M180.7 109.1l4.3 -4.3M160.8 96.1h6.0M163.8 93.1v6.0M161.7 93.9l4.3 4.3M161.7 98.2l4.3 -4.3M185.3 67.7h6.0M188.3 64.7v6.0M186.1 65.5l4.3 4.3M186.1 69.8l4.3 -4.3M178.2 91.8h6.0M181.2 88.8v6.0M179.1 89.6l4.3 4.3M179.1 93.9l4.3 -4.3M162.4 101.7h6.0M165.4 98.7v6.0M163.2 99.6l4.3 4.3M163.2 103.9l4.3 -4.3M186.4 23.3h6.0M189.4 20.3v6.0M187.3 21.2l4.3 4.3M187.3 25.5l4.3 -4.3M162.3 82.2h6.0M165.3 79.2v6.0M163.1 80.0l4.3 4.3M163.1 84.4l4.3 -4.3M188.3 47.0h6.0M191.3 44.0v6.0M189.2 44.8l4.3 4.3M189.2 49.2l4.3 -4.3M182.4 87.1h6.0M185.4 84.1v6.0M183.2 85.0l4.3 4.3M183.2 89.3l4.3 -4.3M177.6 46.6h6.0M180.6 43.6v6.0M178.5 44.4l4.3 4.3M178.5 48.8l4.3 -4.3M189.7 40.0h6.0M192.7 37.0v6.0M190.6 37.9l4.3 4.3M190.6 42.2l4.3 -4.3M163.3 79.1h6.0M166.3 76.1v6.0M164.1 76.9l4.3 4.3M164.1 81.2l4.3 -4.3M170.9 81.5h6.0M173.9 78.5v6.0M171.7 79.3l4.3 4.3M171.7 83.7l4.3 -4.3M165.7 101.4h6.0M168.7 98.4v6.0M166.5 99.3l4.3 4.3M166.5 103.6l4.3 -4.3M185.0 27.2h6.0M188.0 24.2v6.0M185.8 25.0l4.3 4.3M185.8 29.3l4.3 -4.3M159.8 101.2h6.0M162.8 98.2v6.0M160.6 99.0l4.3 4.3M160.6 103.3l4.3 -4.3M183.7 5.3h6.0M186.7 2.3v6.0M184.6 3.2l4.3 4.3M184.6 7.5l4.3 -4.3M176.9 29.5h6.0M179.9 26.5v6.0M177.7 27.3l4.3 4.3M177.7 31.7l4.3 -4.3M186.4 27.2h6.0M189.4 24.2v6.0M187.3 25.1l4.3 4.3M187.3 29.4l4.3 -4.3M177.9 86.7h6.0M180.9 83.7v6.0M178.8 84.5l4.3 4.3M178.8 88.8l4.3 -4.3M162.0 93.7h6.0M165.0 90.7v6.0M162.8 91.6l4.3 4.3M162.8 95.9l4.3 -4.3M190.2 28.1h6.0M193.2 25.1v6.0M191.1 25.9l4.3 4.3M191.1 30.3l4.3 -4.3M167.0 29.8h6.0M170.0 26.8v6.0M167.9 27.7l4.3 4.3M167.9 32.0l4.3 -4.3M163.8 34.4h6.0M166.8 31.4v6.0M164.6 32.2l4.3 4.3M164.6 36.6l4.3 -4.3M181.3 105.9h6.0M184.3 102.9v6.0M182.1 103.7l4.3 4.3M182.1 108.0l4.3 -4.3M171.1 44.6h6.0M174.1 41.6v6.0M171.9 42.5l4.3 4.3M171.9 46.8l4.3 -4.3M185.8 72.3h6.0M188.8 69.3v6.0M186.7 70.2l4.3 4.3M186.7 74.5l4.3 -4.3M190.2 45.0h6.0M193.2 42.0v6.0M191.1 42.8l4.3 4.3M191.1 47.1l4.3 -4.3M181.5 79.1h6.0M184.5 76.1v6.0M182.4 76.9l4.3 4.3M182.4 81.2l4.3 -4.3M175.6 67.9h6.0M178.6 64.9v6.0M176.4 65.7l4.3 4.3M176.4 70.1l4.3 -4.3M187.5 68.2h6.0M190.5 65.2v6.0M188.3 66.0l4.3 4.3M188.3 70.4l4.3 -4.3M173.9 37.2h6.0M176.9 34.2v6.0M174.8 35.0l4.3 4.3M174.8 39.3l4.3 -4.3M187.8 64.2h6.0M190.8 61.2v6.0M188.6 62.0l4.3 4.3M188.6 66.3l4.3 -4.3M166.5 13.2h6.0M169.5 10.2v6.0M167.3 11.0l4.3 4.3M167.3 15.3l4.3 -4.3M164.9 58.8h6.0M167.9 55.8v6.0M165.7 56.6l4.3 4.3M165.7 61.0l4.3 -4.3M163.6 104.2h6.0M166.6 101.2v6.0M164.4 102.0l4.3 4.3M164.4 106.4l4.3 -4.3M185.4 52.6h6.0M188.4 49.6v6.0M186.2 50.4l4.3 4.3M186.2 54.8l4.3 -4.3M177.3 51.5h6.0M180.3 48.5v6.0M178.2 49.3l4.3 4.3M178.2 53.6l4.3 -4.3M172.6 106.6h6.0M175.6 103.6v6.0M173.5 104.5l4.3 4.3M173.5 108.8l4.3 -4.3M161.3 66.9h6.0M164.3 63.9v6.0M162.1 64.8l4.3 4.3M162.1 69.1l4.3 -4.3M175.4 60.9h6.0M178.4 57.9v6.0M176.2 58.8l4.3 4.3M176.2 63.1l4.3 -4.3M170.5 55.3h6.0M173.5 52.3v6.0M171.3 53.1l4.3 4.3M171.3 57.5l4.3 -4.3M183.3 102.4h6.0M186.3 99.4v6.0M184.1 100.2l4.3 4.3M184.1 104.5l4.3 -4.3M168.1 60.2h6.0M171.1 57.2v6.0M169.0 58.0l4.3 4.3M169.0 62.4l4.3 -4.3M185.9 62.9h6.0M188.9 59.9v6.0M186.7 60.7l4.3 4.3M186.7 65.0l4.3 -4.3M193.7 34.3h6.0M196.7 31.3v6.0M194.6 32.1l4.3 4.3M194.6 36.5l4.3 -4.3M182.2 65.1h6.0M185.2 62.1v6.0M183.1 62.9l4.3 4.3M183.1 67.2l4.3 -4.3M168.8 28.2h6.0M171.8 25.2v6.0M169.6 26.0l4.3 4.3M169.6 30.4l4.3 -4.3M166.1 89.3h6.0M169.1 86.3v6.0M166.9 87.2l4.3 4.3M166.9 91.5l4.3 -4.3M192.2 43.9h6.0M195.2 40.9v6.0M193.0 41.8l4.3 4.3M193.0 46.1l4.3 -4.3M165.6 33.5h6.0M168.6 30.5v6.0M166.5 31.3l4.3 4.3M166.5 35.6l4.3 -4.3M176.8 16.7h6.0M179.8 13.7v6.0M177.7 14.5l4.3 4.3M177.7 18.8l4.3 -4.3M168.5 104.3h6.0M171.5 101.3v6.0M169.3 102.1l4.3 4.3M169.3 106.4l4.3 -4.3M185.6 74.3h6.0M188.6 71.3v6.0M186.5 72.2l4.3 4.3M186.5 76.5l4.3 -4.3M177.2 10.7h6.0M180.2 7.7v6.0M178.0 8.5l4.3 4.3M178.0 12.9l4.3 -4.3M181.3 60.3h6.0M184.3 57.3v6.0M182.2 58.1l4.3 4.3M182.2 62.4l4.3 -4.3M183.4 31.2h6.0M186.4 28.2v6.0M184.3 29.0l4.3 4.3M184.3 33.3l4.3 -4.3M173.7 64.9h6.0M176.7 61.9v6.0M174.5 62.7l4.3 4.3M174.5 67.0l4.3 -4.3M180.1 105.8h6.0M183.1 102.8v6.0M180.9 103.6l4.3 4.3M180.9 108.0l4.3 -4.3M165.8 69.2h6.0M168.8 66.2v6.0M166.7 67.1l4.3 4.3M166.7 71.4l4.3 -4.3M163.5 69.0h6.0M166.5 66.0v6.0M164.3 66.9l4.3 4.3M164.3 71.2l4.3 -4.3M187.6 22.2h6.0M190.6 19.2v6.0M188.5 20.1l4.3 4.3M188.5 24.4l4.3 -4.3M192.0 13.0h6.0M195.0 10.0v6.0M192.8 10.8l4.3 4.3M192.8 15.1l4.3 -4.3M188.6 6.7h6.0M191.6 3.7v6.0M189.5 4.6l4.3 4.3M189.5 8.9l4.3 -4.3M179.7 87.2h6.0M182.7 84.2v6.0M180.5 85.0l4.3 4.3M180.5 89.3l4.3 -4.3M164.5 85.4h6.0M167.5 82.4v6.0M165.3 83.3l4.3 4.3M165.3 87.6l4.3 -4.3M182.8 83.6h6.0M185.8 80.6v6.0M183.7 81.4l4.3 4.3M183.7 85.7l4.3 -4.3M187.6 35.8h6.0M190.6 32.8v6.0M188.5 33.6l4.3 4.3M188.5 38.0l4.3 -4.3M187.6 7.4h6.0M190.6 4.4v6.0M188.5 5.2l4.3 4.3M188.5 9.5l4.3 -4.3M160.6 68.8h6.0M163.6 65.8v6.0M161.4 66.6l4.3 4.3M161.4 70.9l4.3 -4.3M175.4 41.8h6.0M178.4 38.8v6.0M176.3 39.6l4.3 4.3M176.3 44.0l4.3 -4.3M176.2 91.9h6.0M179.2 88.9v6.0M177.1 89.7l4.3 4.3M177.1 94.0l4.3 -4.3M174.3 82.7h6.0M177.3 79.7v6.0M175.2 80.6l4.3 4.3M175.2 84.9l4.3 -4.3M180.0 63.0h6.0M183.0 60.0v6.0M180.8 60.8l4.3 4.3M180.8 65.2l4.3 -4.3M170.3 63.8h6.0M173.3 60.8v6.0M171.1 61.6l4.3 4.3M171.1 66.0l4.3 -4.3M165.5 41.9h6.0M168.5 38.9v6.0M166.4 39.7l4.3 4.3M166.4 44.0l4.3 -4.3M178.8 81.9h6.0M181.8 78.9v6.0M179.7 79.7l4.3 4.3M179.7 84.1l4.3 -4.3M162.7 48.8h6.0M165.7 45.8v6.0M163.5 46.6l4.3 4.3M163.5 50.9l4.3 -4.3M181.6 79.2h6.0M184.6 76.2v6.0M182.4 77.0l4.3 4.3M182.4 81.3l4.3 -4.3M189.4 40.7h6.0M192.4 37.7v6.0M190.3 38.5l4.3 4.3M190.3 42.8l4.3 -4.3M190.1 42.8h6.0M193.1 39.8v6.0M190.9 40.7l4.3 4.3M190.9 45.0l4.3 -4.3M163.9 55.5h6.0M166.9 52.5v6.0M164.7 53.4l4.3 4.3M164.7 57.7l4.3 -4.3M172.4 40.1h6.0M175.4 37.1v6.0M173.3 38.0l4.3 4.3M173.3 42.3l4.3 -4.3M184.6 98.3h6.0M187.6 95.3v6.0M185.4 96.2l4.3 4.3M185.4 100.5l4.3 -4.3M172.9 93.4h6.0M175.9 90.4v6.0M173.8 91.2l4.3 4.3M173.8 95.6l4.3 -4.3M175.4 31.1h6.0M178.4 28.1v6.0M176.2 29.0l4.3 4.3M176.2 33.3l4.3 -4.3M183.0 41.8h6.0M186.0 38.8v6.0M183.8 39.6l4.3 4.3M183.8 44.0l4.3 -4.3M163.1 102.5h6.0M166.1 99.5v6.0M163.9 100.3l4.3 4.3M163.9 104.7l4.3 -4.3M188.7 33.9h6.0M191.7 30.9v6.0M189.5 31.8l4.3 4.3M189.5 36.1l4.3 -4.3M185.1 59.0h6.0M188.1 56.0v6.0M185.9 56.8l4.3 4.3M185.9 61.1l4.3 -4.3M163.6 80.5h6.0M166.6 77.5v6.0M164.5 78.3l4.3 4.3M164.5 82.6l4.3 -4.3M170.0 98.2h6.0M173.0 95.2v6.0M170.8 96.1l4.3 4.3M170.8 100.4l4.3 -4.3M168.1 19.4h6.0M171.1 16.4v6.0M169.0 17.2l4.3 4.3M169.0 21.5l4.3 -4.3M174.3 80.7h6.0M177.3 77.7v6.0M175.2 78.5l4.3 4.3M175.2 82.9l4.3 -4.3M189.5 7.9h6.0M192.5 4.9v6.0M190.4 5.7l4.3 4.3M190.4 10.0l4.3 -4.3M160.1 106.2h6.0M163.1 103.2v6.0M161.0 104.1l4.3 4.3M161.0 108.4l4.3 -4.3M164.5 86.2h6.0M167.5 83.2v6.0M165.3 84.0l4.3 4.3M165.3 88.3l4.3 -4.3M188.5 64.6h6.0M191.5 61.6v6.0M189.3 62.4l4.3 4.3M189.3 66.7l4.3 -4.3M167.6 94.3h6.0M170.6 91.3v6.0M168.5 92.1l4.3 4.3M168.5 96.4l4.3 -4.3M174.8 63.2h6.0M177.8 60.2v6.0M175.7 61.0l4.3 4.3M175.7 65.4l4.3 -4.3M184.5 85.0h6.0M187.5 82.0v6.0M185.4 82.8l4.3 4.3M185.4 87.1l4.3 -4.3M174.6 5.8h6.0M177.6 2.8v6.0M175.4 3.6l4.3 4.3M175.4 7.9l4.3 -4.3M190.0 41.9h6.0M193.0 38.9v6.0M190.9 39.7l4.3 4.3M190.9 44.0l4.3 -4.3M191.4 15.2h6.0M194.4 12.2v6.0M192.2 13.0l4.3 4.3M192.2 17.4l4.3 -4.3M169.4 103.3h6.0M172.4 100.3v6.0M170.2 101.1l4.3 4.3M170.2 105.4l4.3 -4.3M188.7 64.5h6.0M191.7 61.5v6.0M189.5 62.3l4.3 4.3M189.5 66.7l4.3 -4.3M186.2 76.3h6.0M189.2 73.3v6.0M187.1 74.1l4.3 4.3M187.1 78.4l4.3 -4.3M175.1 84.2h6.0M178.1 81.2v6.0M175.9 82.1l4.3 4.3M175.9 86.4l4.3 -4.3M184.0 79.8h6.0M187.0 76.8v6.0M184.9 77.6l4.3 4.3M184.9 82.0l4.3 -4.3M184.3 22.6h6.0M187.3 19.6v6.0M185.1 20.4l4.3 4.3M185.1 24.7l4.3 -4.3M185.5 94.6h6.0M188.5 91.6v6.0M186.4 92.5l4.3 4.3M186.4 96.8l4.3 -4.3M172.7 79.6h6.0M175.7 76.6v6.0M173.5 77.4l4.3 4.3M173.5 81.7l4.3 -4.3M174.7 96.6h6.0M177.7 93.6v6.0M175.6 94.4l4.3 4.3M175.6 98.7l4.3 -4.3M180.0 17.3h6.0M183.0 14.3v6.0M180.8 15.2l4.3 4.3M180.8 19.5l4.3 -4.3M184.1 44.7h6.0M187.1 41.7v6.0M184.9 42.5l4.3 4.3M184.9 46.9l4.3 -4.3M242.6 12.9h6.0M245.6 9.9v6.0M243.4 10.8l4.3 4.3M243.4 15.1l4.3 -4.3M232.7 28.1h6.0M235.7 25.1v6.0M233.5 25.9l4.3 4.3M233.5 30.2l4.3 -4.3M233.5 37.0h6.0M236.5 34.0v6.0M234.3 34.9l4.3 4.3M234.3 39.2l4.3 -4.3M232.8 5.8h6.0M235.8 2.8v6.0M233.7 3.7l4.3 4.3M233.7 8.0l4.3 -4.3M212.8 70.6h6.0M215.8 67.6v6.0M213.7 68.5l4.3 4.3M213.7 72.8l4.3 -4.3M234.7 70.1h6.0M237.7 67.1v6.0M235.6 67.9l4.3 4.3M235.6 72.2l4.3 -4.3M236.3 50.3h6.0M239.3 47.3v6.0M237.1 48.2l4.3 4.3M237.1 52.5l4.3 -4.3M238.6 37.0h6.0M241.6 34.0v6.0M239.4 34.8l4.3 4.3M239.4 39.1l4.3 -4.3M233.8 71.0h6.0M236.8 68.0v6.0M234.6 68.8l4.3 4.3M234.6 73.2l4.3 -4.3M246.3 44.5h6.0M249.3 41.5v6.0M247.1 42.3l4.3 4.3M247.1 46.7l4.3 -4.3M227.0 5.0h6.0M230.0 2.0v6.0M227.8 2.9l4.3 4.3M227.8 7.2l4.3 -4.3M231.8 5.7h6.0M234.8 2.7v6.0M232.6 3.5l4.3 4.3M232.6 7.9l4.3 -4.3M230.5 52.9h6.0M233.5 49.9v6.0M231.3 50.7l4.3 4.3M231.3 55.0l4.3 -4.3M216.6 14.9h6.0M219.6 11.9v6.0M217.5 12.8l4.3 4.3M217.5 17.1l4.3 -4.3M227.7 62.2h6.0M230.7 59.2v6.0M228.5 60.0l4.3 4.3M228.5 64.4l4.3 -4.3M240.2 40.8h6.0M243.2 37.8v6.0M241.1 38.6l4.3 4.3M241.1 42.9l4.3 -4.3M237.2 15.6h6.0M240.2 12.6v6.0M238.1 13.4l4.3 4.3M238.1 17.8l4.3 -4.3M248.8 41.0h6.0M251.8 38.0v6.0M249.7 38.9l4.3 4.3M249.7 43.2l4.3 -4.3M244.5 55.9h6.0M247.5 52.9v6.0M245.4 53.8l4.3 4.3M245.4 58.1l4.3 -4.3M220.8 66.5h6.0M223.8 63.5v6.0M221.7 64.3l4.3 4.3M221.7 68.7l4.3 -4.3M218.2 56.2h6.0M221.2 53.2v6.0M219.1 54.1l4.3 4.3M219.1 58.4l4.3 -4.3M240.9 32.2h6.0M243.9 29.2v6.0M241.8 30.0l4.3 4.3M241.8 34.3l4.3 -4.3M235.0 28.7h6.0M238.0 25.7v6.0M235.9 26.5l4.3 4.3M235.9 30.9l4.3 -4.3M248.9 46.9h6.0M251.9 43.9v6.0M249.8 44.8l4.3 4.3M249.8 49.1l4.3 -4.3M245.9 15.9h6.0M248.9 12.9v6.0M246.7 13.8l4.3 4.3M246.7 18.1l4.3 -4.3M250.3 18.1h6.0M253.3 15.1v6.0M251.2 16.0l4.3 4.3M251.2 20.3l4.3 -4.3M239.7 19.6h6.0M242.7 16.6v6.0M240.6 17.5l4.3 4.3M240.6 21.8l4.3 -4.3M213.3 49.5h6.0M216.3 46.5v6.0M214.1 47.3l4.3 4.3M214.1 51.6l4.3 -4.3M225.4 46.9h6.0M228.4 43.9v6.0M226.2 44.8l4.3 4.3M226.2 49.1l4.3 -4.3M232.5 51.5h6.0M235.5 48.5v6.0M233.4 49.4l4.3 4.3M233.4 53.7l4.3 -4.3M221.0 63.3h6.0M224.0 60.3v6.0M221.9 61.1l4.3 4.3M221.9 65.4l4.3 -4.3M233.4 46.4h6.0M236.4 43.4v6.0M234.3 44.3l4.3 4.3M234.3 48.6l4.3 -4.3M233.9 74.5h6.0M236.9 71.5v6.0M234.7 72.3l4.3 4.3M234.7 76.6l4.3 -4.3M222.0 77.2h6.0M225.0 74.2v6.0M222.9 75.0l4.3 4.3M222.9 79.3l4.3 -4.3M210.2 65.3h6.0M213.2 62.3v6.0M211.0 63.2l4.3 4.3M211.0 67.5l4.3 -4.3M219.2 35.7h6.0M222.2 32.7v6.0M220.0 33.5l4.3 4.3M220.0 37.8l4.3 -4.3M227.1 34.7h6.0M230.1 31.7v6.0M227.9 32.5l4.3 4.3M227.9 36.8l4.3 -4.3M240.6 41.6h6.0M243.6 38.6v6.0M241.5 39.4l4.3 4.3M241.5 43.7l4.3 -4.3M230.1 4.3h6.0M233.1 1.3v6.0M230.9 2.2l4.3 4.3M230.9 6.5l4.3 -4.3M227.5 13.9h6.0M230.5 10.9v6.0M228.4 11.7l4.3 4.3M228.4 16.0l4.3 -4.3M228.6 68.9h6.0M231.6 65.9v6.0M229.4 66.7l4.3 4.3M229.4 71.0l4.3 -4.3M248.2 36.2h6.0M251.2 33.2v6.0M249.1 34.1l4.3 4.3M249.1 38.4l4.3 -4.3M211.9 63.9h6.0M214.9 60.9v6.0M212.7 61.7l4.3 4.3M212.7 66.1l4.3 -4.3M229.2 37.2h6.0M232.2 34.2v6.0M230.1 35.1l4.3 4.3M230.1 39.4l4.3 -4.3M237.3 6.6h6.0M240.3 3.6v6.0M238.1 4.5l4.3 4.3M238.1 8.8l4.3 -4.3M221.0 26.1h6.0M224.0 23.1v6.0M221.8 24.0l4.3 4.3M221.8 28.3l4.3 -4.3M245.5 23.1h6.0M248.5 20.1v6.0M246.3 20.9l4.3 4.3M246.3 25.3l4.3 -4.3M234.2 19.2h6.0M237.2 16.2v6.0M235.0 17.1l4.3 4.3M235.0 21.4l4.3 -4.3M234.2 41.1h6.0M237.2 38.1v6.0M235.1 38.9l4.3 4.3M235.1 43.2l4.3 -4.3M234.3 60.9h6.0M237.3 57.9v6.0M235.1 58.7l4.3 4.3M235.1 63.1l4.3 -4.3M222.4 51.9h6.0M225.4 48.9v6.0M223.3 49.8l4.3 4.3M223.3 54.1l4.3 -4.3M223.9 51.6h6.0M226.9 48.6v6.0M224.8 49.4l4.3 4.3M224.8 53.7l4.3 -4.3M236.5 54.6h6.0M239.5 51.6v6.0M237.4 52.4l4.3 4.3M237.4 56.7l4.3 -4.3M209.6 74.9h6.0M212.6 71.9v6.0M210.4 72.8l4.3 4.3M210.4 77.1l4.3 -4.3M236.8 65.9h6.0M239.8 62.9v6.0M237.6 63.7l4.3 4.3M237.6 68.0l4.3 -4.3M239.9 25.8h6.0M242.9 22.8v6.0M240.8 23.7l4.3 4.3M240.8 28.0l4.3 -4.3M233.5 68.0h6.0M236.5 65.0v6.0M234.3 65.8l4.3 4.3M234.3 70.2l4.3 -4.3M218.8 73.4h6.0M221.8 70.4v6.0M219.7 71.2l4.3 4.3M219.7 75.5l4.3 -4.3M238.0 67.0h6.0M241.0 64.0v6.0M238.9 64.8l4.3 4.3M238.9 69.2l4.3 -4.3M235.9 23.2h6.0M238.9 20.2v6.0M236.8 21.1l4.3 4.3M236.8 25.4l4.3 -4.3M216.8 36.9h6.0M219.8 33.9v6.0M217.6 34.8l4.3 4.3M217.6 39.1l4.3 -4.3M238.5 10.1h6.0M241.5 7.1v6.0M239.4 7.9l4.3 4.3M239.4 12.2l4.3 -4.3M214.7 69.4h6.0M217.7 66.4v6.0M215.6 67.2l4.3 4.3M215.6 71.5l4.3 -4.3M244.7 48.5h6.0M247.7 45.5v6.0M245.6 46.3l4.3 4.3M245.6 50.6l4.3 -4.3M224.2 10.0h6.0M227.2 7.0v6.0M225.1 7.8l4.3 4.3M225.1 12.1l4.3 -4.3M229.6 66.2h6.0M232.6 63.2v6.0M230.4 64.0l4.3 4.3M230.4 68.3l4.3 -4.3M227.3 74.8h6.0M230.3 71.8v6.0M228.1 72.6l4.3 4.3M228.1 77.0l4.3 -4.3M232.9 60.1h6.0M235.9 57.1v6.0M233.7 57.9l4.3 4.3M233.7 62.2l4.3 -4.3M217.4 66.0h6.0M220.4 63.0v6.0M218.3 63.9l4.3 4.3M218.3 68.2l4.3 -4.3M246.4 16.2h6.0M249.4 13.2v6.0M247.2 14.0l4.3 4.3M247.2 18.3l4.3 -4.3M246.8 20.5h6.0M249.8 17.5v6.0M247.7 18.4l4.3 4.3M247.7 22.7l4.3 -4.3M226.2 20.6h6.0M229.2 17.6v6.0M227.0 18.4l4.3 4.3M227.0 22.7l4.3 -4.3M220.5 8.5h6.0M223.5 5.5v6.0M221.4 6.3l4.3 4.3M221.4 10.7l4.3 -4.3M216.9 77.8h6.0M219.9 74.8v6.0M217.7 75.6l4.3 4.3M217.7 79.9l4.3 -4.3M210.6 77.5h6.0M213.6 74.5v6.0M211.4 75.4l4.3 4.3M211.4 79.7l4.3 -4.3M239.5 32.4h6.0M242.5 29.4v6.0M240.4 30.2l4.3 4.3M240.4 34.5l4.3 -4.3M214.5 75.6h6.0M217.5 72.6v6.0M215.3 73.5l4.3 4.3M215.3 77.8l4.3 -4.3M233.4 34.8h6.0M236.4 31.8v6.0M234.3 32.6l4.3 4.3M234.3 37.0l4.3 -4.3M220.6 27.1h6.0M223.6 24.1v6.0M221.4 25.0l4.3 4.3M221.4 29.3l4.3 -4.3M240.5 32.4h6.0M243.5 29.4v6.0M241.4 30.2l4.3 4.3M241.4 34.5l4.3 -4.3M234.7 39.6h6.0M237.7 36.6v6.0M235.5 37.4l4.3 4.3M235.5 41.7l4.3 -4.3M225.3 18.5h6.0M228.3 15.5v6.0M226.1 16.3l4.3 4.3M226.1 20.7l4.3 -4.3M218.9 42.5h6.0M221.9 39.5v6.0M219.7 40.4l4.3 4.3M219.7 44.7l4.3 -4.3M249.8 27.6h6.0M252.8 24.6v6.0M250.6 25.4l4.3 4.3M250.6 29.7l4.3 -4.3M237.2 71.7h6.0M240.2 68.7v6.0M238.0 69.5l4.3 4.3M238.0 73.9l4.3 -4.3M249.7 38.7h6.0M252.7 35.7v6.0M250.5 36.6l4.3 4.3M250.5 40.9l4.3 -4.3M217.4 45.7h6.0M220.4 42.7v6.0M218.3 43.5l4.3 4.3M218.3 47.8l4.3 -4.3M250.8 40.8h6.0M253.8 37.8v6.0M251.6 38.7l4.3 4.3M251.6 43.0l4.3 -4.3M230.3 28.3h6.0M233.3 25.3v6.0M231.1 26.1l4.3 4.3M231.1 30.5l4.3 -4.3M227.0 11.1h6.0M230.0 8.1v6.0M227.8 8.9l4.3 4.3M227.8 13.2l4.3 -4.3M245.6 12.3h6.0M248.6 9.3v6.0M246.5 10.1l4.3 4.3M246.5 14.5l4.3 -4.3M225.2 40.9h6.0M228.2 37.9v6.0M226.1 38.7l4.3 4.3M226.1 43.1l4.3 -4.3M238.6 28.4h6.0M241.6 25.4v6.0M239.4 26.3l4.3 4.3M239.4 30.6l4.3 -4.3M242.2 17.2h6.0M245.2 14.2v6.0M243.1 15.0l4.3 4.3M243.1 19.3l4.3 -4.3M234.5 27.5h6.0M237.5 24.5v6.0M235.4 25.4l4.3 4.3M235.4 29.7l4.3 -4.3M221.7 74.8h6.0M224.7 71.8v6.0M222.5 72.6l4.3 4.3M222.5 77.0l4.3 -4.3M245.2 31.3h6.0M248.2 28.3v6.0M246.0 29.2l4.3 4.3M246.0 33.5l4.3 -4.3M229.5 73.4h6.0M232.5 70.4v6.0M230.4 71.3l4.3 4.3M230.4 75.6l4.3 -4.3M249.5 39.6h6.0M252.5 36.6v6.0M250.3 37.4l4.3 4.3M250.3 41.7l4.3 -4.3M249.4 18.6h6.0M252.4 15.6v6.0M250.2 16.5l4.3 4.3M250.2 20.8l4.3 -4.3M218.5 53.2h6.0M221.5 50.2v6.0M219.4 51.0l4.3 4.3M219.4 55.4l4.3 -4.3M222.7 17.9h6.0M225.7 14.9v6.0M223.5 15.8l4.3 4.3M223.5 20.1l4.3 -4.3M243.7 25.7h6.0M246.7 22.7v6.0M244.6 23.5l4.3 4.3M244.6 27.8l4.3 -4.3M232.0 56.5h6.0M235.0 53.5v6.0M232.9 54.3l4.3 4.3M232.9 58.6l4.3 -4.3M223.9 35.1h6.0M226.9 32.1v6.0M224.8 33.0l4.3 4.3M224.8 37.3l4.3 -4.3M230.3 9.2h6.0M233.3 6.2v6.0M231.2 7.1l4.3 4.3M231.2 11.4l4.3 -4.3M239.0 53.0h6.0M242.0 50.0v6.0M239.8 50.9l4.3 4.3M239.8 55.2l4.3 -4.3M221.4 21.6h6.0M224.4 18.6v6.0M222.3 19.4l4.3 4.3M222.3 23.7l4.3 -4.3M222.5 25.2h6.0M225.5 22.2v6.0M223.3 23.1l4.3 4.3M223.3 27.4l4.3 -4.3M236.2 18.3h6.0M239.2 15.3v6.0M237.1 16.1l4.3 4.3M237.1 20.5l4.3 -4.3M221.7 53.4h6.0M224.7 50.4v6.0M222.5 51.2l4.3 4.3M222.5 55.6l4.3 -4.3M211.0 76.1h6.0M214.0 73.1v6.0M211.8 74.0l4.3 4.3M211.8 78.3l4.3 -4.3M250.2 24.8h6.0M253.2 21.8v6.0M251.1 22.6l4.3 4.3M251.1 26.9l4.3 -4.3M229.9 55.3h6.0M232.9 52.3v6.0M230.8 53.1l4.3 4.3M230.8 57.5l4.3 -4.3M243.0 29.9h6.0M246.0 26.9v6.0M243.9 27.7l4.3 4.3M243.9 32.1l4.3 -4.3M220.9 43.4h6.0M223.9 40.4v6.0M221.8 41.3l4.3 4.3M221.8 45.6l4.3 -4.3M249.4 46.4h6.0M252.4 43.4v6.0M250.3 44.2l4.3 4.3M250.3 48.6l4.3 -4.3M214.8 71.1h6.0M217.8 68.1v6.0M215.7 68.9l4.3 4.3M215.7 73.2l4.3 -4.3M221.0 19.6h6.0M224.0 16.6v6.0M221.9 17.4l4.3 4.3M221.9 21.7l4.3 -4.3M240.2 47.3h6.0M243.2 44.3v6.0M241.0 45.2l4.3 4.3M241.0 49.5l4.3 -4.3M228.2 74.8h6.0M231.2 71.8v6.0M229.0 72.6l4.3 4.3M229.0 76.9l4.3 -4.3M252.7 32.4h6.0M255.7 29.4v6.0M253.6 30.3l4.3 4.3M253.6 34.6l4.3 -4.3M231.1 6.0h6.0M234.1 3.0v6.0M231.9 3.8l4.3 4.3M231.9 8.1l4.3 -4.3M226.6 55.6h6.0M229.6 52.6v6.0M227.5 53.5l4.3 4.3M227.5 57.8l4.3 -4.3M239.8 65.4h6.0M242.8 62.4v6.0M240.6 63.2l4.3 4.3M240.6 67.6l4.3 -4.3M230.3 42.1h6.0M233.3 39.1v6.0M231.1 39.9l4.3 4.3M231.1 44.2l4.3 -4.3M208.3 68.4h6.0M211.3 65.4v6.0M209.1 66.3l4.3 4.3M209.1 70.6l4.3 -4.3M218.0 6.0h6.0M221.0 3.0v6.0M218.8 3.9l4.3 4.3M218.8 8.2l4.3 -4.3M235.5 35.6h6.0M238.5 32.6v6.0M236.4 33.5l4.3 4.3M236.4 37.8l4.3 -4.3M230.4 32.5h6.0M233.4 29.5v6.0M231.2 30.3l4.3 4.3M231.2 34.7l4.3 -4.3M222.2 31.0h6.0M225.2 28.0v6.0M223.0 28.9l4.3 4.3M223.0 33.2l4.3 -4.3M219.6 72.0h6.0M222.6 69.0v6.0M220.5 69.9l4.3 4.3M220.5 74.2l4.3 -4.3M220.1 44.2h6.0M223.1 41.2v6.0M220.9 42.1l4.3 4.3M220.9 46.4l4.3 -4.3M218.8 15.2h6.0M221.8 12.2v6.0M219.7 13.1l4.3 4.3M219.7 17.4l4.3 -4.3M213.7 63.0h6.0M216.7 60.0v6.0M214.6 60.8l4.3 4.3M214.6 65.1l4.3 -4.3M238.5 26.9h6.0M241.5 23.9v6.0M239.3 24.7l4.3 4.3M239.3 29.0l4.3 -4.3M230.5 11.1h6.0M233.5 8.1v6.0M231.3 8.9l4.3 4.3M231.3 13.3l4.3 -4.3M243.0 38.3h6.0M246.0 35.3v6.0M243.9 36.1l4.3 4.3M243.9 40.4l4.3 -4.3M219.3 57.8h6.0M222.3 54.8v6.0M220.2 55.7l4.3 4.3M220.2 60.0l4.3 -4.3M246.0 14.4h6.0M249.0 11.4v6.0M246.8 12.2l4.3 4.3M246.8 16.6l4.3 -4.3M237.0 4.4h6.0M240.0 1.4v6.0M237.9 2.3l4.3 4.3M237.9 6.6l4.3 -4.3M245.2 30.4h6.0M248.2 27.4v6.0M246.0 28.3l4.3 4.3M246.0 32.6l4.3 -4.3M229.0 65.8h6.0M232.0 62.8v6.0M229.9 63.6l4.3 4.3M229.9 67.9l4.3 -4.3M233.5 35.8h6.0M236.5 32.8v6.0M234.3 33.6l4.3 4.3M234.3 37.9l4.3 -4.3M241.2 7.1h6.0M244.2 4.1v6.0M242.0 4.9l4.3 4.3M242.0 9.2l4.3 -4.3M210.2 77.5h6.0M213.2 74.5v6.0M211.0 75.3l4.3 4.3M211.0 79.6l4.3 -4.3M215.2 77.1h6.0M218.2 74.1v6.0M216.1 74.9l4.3 4.3M216.1 79.3l4.3 -4.3M239.7 6.8h6.0M242.7 3.8v6.0M240.5 4.6l4.3 4.3M240.5 8.9l4.3 -4.3M225.4 18.7h6.0M228.4 15.7v6.0M226.2 16.5l4.3 4.3M226.2 20.8l4.3 -4.3M236.3 61.3h6.0M239.3 58.3v6.0M237.2 59.1l4.3 4.3M237.2 63.4l4.3 -4.3M220.7 29.1h6.0M223.7 26.1v6.0M221.6 26.9l4.3 4.3M221.6 31.2l4.3 -4.3M213.0 59.8h6.0M216.0 56.8v6.0M213.8 57.7l4.3 4.3M213.8 62.0l4.3 -4.3M225.4 61.6h6.0M228.4 58.6v6.0M226.3 59.5l4.3 4.3M226.3 63.8l4.3 -4.3M218.1 54.8h6.0M221.1 51.8v6.0M218.9 52.6l4.3 4.3M218.9 56.9l4.3 -4.3M250.0 36.0h6.0M253.0 33.0v6.0M250.9 33.8l4.3 4.3M250.9 38.1l4.3 -4.3M231.3 11.9h6.0M234.3 8.9v6.0M232.1 9.7l4.3 4.3M232.1 14.0l4.3 -4.3M226.4 72.7h6.0M229.4 69.7v6.0M227.3 70.5l4.3 4.3M227.3 74.9l4.3 -4.3M251.3 40.8h6.0M254.3 37.8v6.0M252.2 38.7l4.3 4.3M252.2 43.0l4.3 -4.3M236.8 58.4h6.0M239.8 55.4v6.0M237.7 56.2l4.3 4.3M237.7 60.5l4.3 -4.3M236.5 64.6h6.0M239.5 61.6v6.0M237.3 62.4l4.3 4.3M237.3 66.7l4.3 -4.3M251.0 16.0h6.0M254.0 13.0v6.0M251.8 13.8l4.3 4.3M251.8 18.2l4.3 -4.3M253.0 20.0h6.0M256.0 17.0v6.0M253.8 17.8l4.3 4.3M253.8 22.2l4.3 -4.3M249.0 25.0h6.0M252.0 22.0v6.0M249.8 22.8l4.3 4.3M249.8 27.2l4.3 -4.3M245.0 50.0h6.0M248.0 47.0v6.0M245.8 47.8l4.3 4.3M245.8 52.2l4.3 -4.3M247.0 45.0h6.0M250.0 42.0v6.0M247.8 42.8l4.3 4.3M247.8 47.2l4.3 -4.3M242.0 48.0h6.0M245.0 45.0v6.0M242.8 45.8l4.3 4.3M242.8 50.2l4.3 -4.3M499.4 60.7h6.0M502.4 57.7v6.0M500.3 58.5l4.3 4.3M500.3 62.8l4.3 -4.3M514.6 83.3h6.0M517.6 80.3v6.0M515.4 81.2l4.3 4.3M515.4 85.5l4.3 -4.3M499.7 94.8h6.0M502.7 91.8v6.0M500.5 92.6l4.3 4.3M500.5 96.9l4.3 -4.3M513.1 37.3h6.0M516.1 34.3v6.0M513.9 35.1l4.3 4.3M513.9 39.4l4.3 -4.3M494.0 57.9h6.0M497.0 54.9v6.0M494.8 55.7l4.3 4.3M494.8 60.1l4.3 -4.3M492.1 40.3h6.0M495.1 37.3v6.0M492.9 38.1l4.3 4.3M492.9 42.4l4.3 -4.3M501.4 22.2h6.0M504.4 19.2v6.0M502.3 20.0l4.3 4.3M502.3 24.3l4.3 -4.3M504.2 82.0h6.0M507.2 79.0v6.0M505.0 79.8l4.3 4.3M505.0 84.2l4.3 -4.3M502.1 43.9h6.0M505.1 40.9v6.0M503.0 41.8l4.3 4.3M503.0 46.1l4.3 -4.3M507.9 67.7h6.0M510.9 64.7v6.0M508.8 65.5l4.3 4.3M508.8 69.8l4.3 -4.3M511.0 82.5h6.0M514.0 79.5v6.0M511.8 80.4l4.3 4.3M511.8 84.7l4.3 -4.3M494.6 48.5h6.0M497.6 45.5v6.0M495.5 46.3l4.3 4.3M495.5 50.7l4.3 -4.3M511.5 56.7h6.0M514.5 53.7v6.0M512.3 54.5l4.3 4.3M512.3 58.8l4.3 -4.3M497.6 94.3h6.0M500.6 91.3v6.0M498.4 92.1l4.3 4.3M498.4 96.4l4.3 -4.3M502.7 79.7h6.0M505.7 76.7v6.0M503.5 77.6l4.3 4.3M503.5 81.9l4.3 -4.3M513.7 29.9h6.0M516.7 26.9v6.0M514.6 27.7l4.3 4.3M514.6 32.0l4.3 -4.3M513.1 32.0h6.0M516.1 29.0v6.0M514.0 29.9l4.3 4.3M514.0 34.2l4.3 -4.3M496.5 70.2h6.0M499.5 67.2v6.0M497.3 68.1l4.3 4.3M497.3 72.4l4.3 -4.3M511.0 63.1h6.0M514.0 60.1v6.0M511.9 61.0l4.3 4.3M511.9 65.3l4.3 -4.3M499.1 36.7h6.0M502.1 33.7v6.0M499.9 34.5l4.3 4.3M499.9 38.8l4.3 -4.3M497.7 24.4h6.0M500.7 21.4v6.0M498.5 22.3l4.3 4.3M498.5 26.6l4.3 -4.3M509.7 65.0h6.0M512.7 62.0v6.0M510.5 62.9l4.3 4.3M510.5 67.2l4.3 -4.3M509.6 41.2h6.0M512.6 38.2v6.0M510.4 39.0l4.3 4.3M510.4 43.3l4.3 -4.3M501.2 89.0h6.0M504.2 86.0v6.0M502.1 86.9l4.3 4.3M502.1 91.2l4.3 -4.3M495.5 82.2h6.0M498.5 79.2v6.0M496.4 80.0l4.3 4.3M496.4 84.4l4.3 -4.3M503.6 61.5h6.0M506.6 58.5v6.0M504.4 59.4l4.3 4.3M504.4 63.7l4.3 -4.3M513.8 91.2h6.0M516.8 88.2v6.0M514.6 89.0l4.3 4.3M514.6 93.3l4.3 -4.3M506.8 28.6h6.0M509.8 25.6v6.0M507.6 26.5l4.3 4.3M507.6 30.8l4.3 -4.3M514.0 22.2h6.0M517.0 19.2v6.0M514.9 20.1l4.3 4.3M514.9 24.4l4.3 -4.3M501.6 51.4h6.0M504.6 48.4v6.0M502.4 49.3l4.3 4.3M502.4 53.6l4.3 -4.3M512.2 85.8h6.0M515.2 82.8v6.0M513.1 83.6l4.3 4.3M513.1 87.9l4.3 -4.3M510.2 51.6h6.0M513.2 48.6v6.0M511.0 49.4l4.3 4.3M511.0 53.7l4.3 -4.3M495.1 27.4h6.0M498.1 24.4v6.0M495.9 25.3l4.3 4.3M495.9 29.6l4.3 -4.3M502.1 91.1h6.0M505.1 88.1v6.0M502.9 89.0l4.3 4.3M502.9 93.3l4.3 -4.3M500.6 69.4h6.0M503.6 66.4v6.0M501.4 67.3l4.3 4.3M501.4 71.6l4.3 -4.3M493.3 37.9h6.0M496.3 34.9v6.0M494.1 35.7l4.3 4.3M494.1 40.0l4.3 -4.3M511.9 76.1h6.0M514.9 73.1v6.0M512.8 73.9l4.3 4.3M512.8 78.2l4.3 -4.3M504.8 27.9h6.0M507.8 24.9v6.0M505.6 25.7l4.3 4.3M505.6 30.0l4.3 -4.3M506.1 30.6h6.0M509.1 27.6v6.0M507.0 28.4l4.3 4.3M507.0 32.8l4.3 -4.3M493.2 55.8h6.0M496.2 52.8v6.0M494.1 53.6l4.3 4.3M494.1 58.0l4.3 -4.3M521.9 98.3h6.0M524.9 95.3v6.0M522.8 96.1l4.3 4.3M522.8 100.5l4.3 -4.3M511.1 52.2h6.0M514.1 49.2v6.0M512.0 50.1l4.3 4.3M512.0 54.4l4.3 -4.3M493.2 69.6h6.0M496.2 66.6v6.0M494.1 67.4l4.3 4.3M494.1 71.7l4.3 -4.3M510.3 51.4h6.0M513.3 48.4v6.0M511.1 49.3l4.3 4.3M511.1 53.6l4.3 -4.3M514.0 98.8h6.0M517.0 95.8v6.0M514.9 96.6l4.3 4.3M514.9 100.9l4.3 -4.3M511.8 65.1h6.0M514.8 62.1v6.0M512.7 63.0l4.3 4.3M512.7 67.3l4.3 -4.3M499.1 28.8h6.0M502.1 25.8v6.0M500.0 26.6l4.3 4.3M500.0 30.9l4.3 -4.3M510.1 23.0h6.0M513.1 20.0v6.0M510.9 20.8l4.3 4.3M510.9 25.1l4.3 -4.3M498.1 98.4h6.0M501.1 95.4v6.0M499.0 96.2l4.3 4.3M499.0 100.5l4.3 -4.3M496.8 40.4h6.0M499.8 37.4v6.0M497.7 38.2l4.3 4.3M497.7 42.6l4.3 -4.3M566.6 82.0h6.0M569.6 79.0v6.0M567.4 79.8l4.3 4.3M567.4 84.2l4.3 -4.3M554.5 9.8h6.0M557.5 6.8v6.0M555.3 7.6l4.3 4.3M555.3 11.9l4.3 -4.3M537.6 90.2h6.0M540.6 87.2v6.0M538.4 88.0l4.3 4.3M538.4 92.3l4.3 -4.3M537.7 23.8h6.0M540.7 20.8v6.0M538.6 21.6l4.3 4.3M538.6 25.9l4.3 -4.3M540.4 84.0h6.0M543.4 81.0v6.0M541.2 81.9l4.3 4.3M541.2 86.2l4.3 -4.3M524.0 21.5h6.0M527.0 18.5v6.0M524.8 19.3l4.3 4.3M524.8 23.7l4.3 -4.3M539.6 92.1h6.0M542.6 89.1v6.0M540.4 90.0l4.3 4.3M540.4 94.3l4.3 -4.3M571.3 27.3h6.0M574.3 24.3v6.0M572.2 25.1l4.3 4.3M572.2 29.5l4.3 -4.3M564.6 43.7h6.0M567.6 40.7v6.0M565.5 41.5l4.3 4.3M565.5 45.9l4.3 -4.3M533.3 86.9h6.0M536.3 83.9v6.0M534.2 84.7l4.3 4.3M534.2 89.0l4.3 -4.3M549.4 76.0h6.0M552.4 73.0v6.0M550.2 73.8l4.3 4.3M550.2 78.1l4.3 -4.3M526.6 51.1h6.0M529.6 48.1v6.0M527.4 48.9l4.3 4.3M527.4 53.2l4.3 -4.3M542.9 25.6h6.0M545.9 22.6v6.0M543.7 23.5l4.3 4.3M543.7 27.8l4.3 -4.3M545.1 34.1h6.0M548.1 31.1v6.0M545.9 31.9l4.3 4.3M545.9 36.2l4.3 -4.3M553.3 66.5h6.0M556.3 63.5v6.0M554.1 64.4l4.3 4.3M554.1 68.7l4.3 -4.3M546.5 25.5h6.0M549.5 22.5v6.0M547.3 23.3l4.3 4.3M547.3 27.6l4.3 -4.3M567.2 63.4h6.0M570.2 60.4v6.0M568.0 61.2l4.3 4.3M568.0 65.6l4.3 -4.3M560.5 75.8h6.0M563.5 72.8v6.0M561.3 73.7l4.3 4.3M561.3 78.0l4.3 -4.3M553.1 60.1h6.0M556.1 57.1v6.0M553.9 58.0l4.3 4.3M553.9 62.3l4.3 -4.3M540.7 76.7h6.0M543.7 73.7v6.0M541.5 74.6l4.3 4.3M541.5 78.9l4.3 -4.3M571.6 83.5h6.0M574.6 80.5v6.0M572.5 81.3l4.3 4.3M572.5 85.6l4.3 -4.3M537.8 82.8h6.0M540.8 79.8v6.0M538.6 80.6l4.3 4.3M538.6 85.0l4.3 -4.3M535.5 8.7h6.0M538.5 5.7v6.0M536.3 6.6l4.3 4.3M536.3 10.9l4.3 -4.3M565.4 95.5h6.0M568.4 92.5v6.0M566.2 93.3l4.3 4.3M566.2 97.6l4.3 -4.3M550.3 99.5h6.0M553.3 96.5v6.0M551.2 97.4l4.3 4.3M551.2 101.7l4.3 -4.3M560.6 15.4h6.0M563.6 12.4v6.0M561.4 13.2l4.3 4.3M561.4 17.5l4.3 -4.3M548.7 90.3h6.0M551.7 87.3v6.0M549.5 88.2l4.3 4.3M549.5 92.5l4.3 -4.3M537.7 4.9h6.0M540.7 1.9v6.0M538.6 2.7l4.3 4.3M538.6 7.0l4.3 -4.3M533.6 50.9h6.0M536.6 47.9v6.0M534.4 48.7l4.3 4.3M534.4 53.0l4.3 -4.3M567.9 22.5h6.0M570.9 19.5v6.0M568.8 20.3l4.3 4.3M568.8 24.7l4.3 -4.3M548.8 88.0h6.0M551.8 85.0v6.0M549.6 85.8l4.3 4.3M549.6 90.1l4.3 -4.3M573.5 65.0h6.0M576.5 62.0v6.0M574.3 62.9l4.3 4.3M574.3 67.2l4.3 -4.3M545.0 17.7h6.0M548.0 14.7v6.0M545.9 15.5l4.3 4.3M545.9 19.9l4.3 -4.3M539.7 4.2h6.0M542.7 1.2v6.0M540.5 2.1l4.3 4.3M540.5 6.4l4.3 -4.3M562.8 40.7h6.0M565.8 37.7v6.0M563.7 38.5l4.3 4.3M563.7 42.8l4.3 -4.3M537.5 53.9h6.0M540.5 50.9v6.0M538.4 51.7l4.3 4.3M538.4 56.1l4.3 -4.3M526.6 10.5h6.0M529.6 7.5v6.0M527.4 8.4l4.3 4.3M527.4 12.7l4.3 -4.3M526.3 11.6h6.0M529.3 8.6v6.0M527.1 9.4l4.3 4.3M527.1 13.7l4.3 -4.3M566.9 32.3h6.0M569.9 29.3v6.0M567.8 30.2l4.3 4.3M567.8 34.5l4.3 -4.3M534.8 70.1h6.0M537.8 67.1v6.0M535.6 67.9l4.3 4.3M535.6 72.2l4.3 -4.3M558.3 12.8h6.0M561.3 9.8v6.0M559.1 10.6l4.3 4.3M559.1 15.0l4.3 -4.3M544.7 99.6h6.0M547.7 96.6v6.0M545.5 97.4l4.3 4.3M545.5 101.7l4.3 -4.3M572.3 78.8h6.0M575.3 75.8v6.0M573.1 76.6l4.3 4.3M573.1 81.0l4.3 -4.3M557.5 71.7h6.0M560.5 68.7v6.0M558.3 69.5l4.3 4.3M558.3 73.8l4.3 -4.3M563.7 65.1h6.0M566.7 62.1v6.0M564.5 63.0l4.3 4.3M564.5 67.3l4.3 -4.3M533.7 89.9h6.0M536.7 86.9v6.0M534.5 87.8l4.3 4.3M534.5 92.1l4.3 -4.3M550.6 48.5h6.0M553.6 45.5v6.0M551.5 46.4l4.3 4.3M551.5 50.7l4.3 -4.3M530.7 46.6h6.0M533.7 43.6v6.0M531.5 44.5l4.3 4.3M531.5 48.8l4.3 -4.3M546.4 92.9h6.0M549.4 89.9v6.0M547.3 90.7l4.3 4.3M547.3 95.0l4.3 -4.3M549.8 23.2h6.0M552.8 20.2v6.0M550.6 21.0l4.3 4.3M550.6 25.3l4.3 -4.3M545.7 72.4h6.0M548.7 69.4v6.0M546.5 70.2l4.3 4.3M546.5 74.5l4.3 -4.3M554.3 53.8h6.0M557.3 50.8v6.0M555.1 51.7l4.3 4.3M555.1 56.0l4.3 -4.3M556.1 84.1h6.0M559.1 81.1v6.0M556.9 81.9l4.3 4.3M556.9 86.2l4.3 -4.3M539.7 66.6h6.0M542.7 63.6v6.0M540.5 64.4l4.3 4.3M540.5 68.7l4.3 -4.3M536.9 92.7h6.0M539.9 89.7v6.0M537.7 90.6l4.3 4.3M537.7 94.9l4.3 -4.3M557.0 41.4h6.0M560.0 38.4v6.0M557.8 39.3l4.3 4.3M557.8 43.6l4.3 -4.3M556.6 38.7h6.0M559.6 35.7v6.0M557.5 36.5l4.3 4.3M557.5 40.9l4.3 -4.3M532.0 20.4h6.0M535.0 17.4v6.0M532.8 18.3l4.3 4.3M532.8 22.6l4.3 -4.3M569.2 30.2h6.0M572.2 27.2v6.0M570.1 28.0l4.3 4.3M570.1 32.3l4.3 -4.3M524.9 15.8h6.0M527.9 12.8v6.0M525.7 13.6l4.3 4.3M525.7 17.9l4.3 -4.3M556.7 11.8h6.0M559.7 8.8v6.0M557.6 9.7l4.3 4.3M557.6 14.0l4.3 -4.3M566.2 67.7h6.0M569.2 64.7v6.0M567.0 65.5l4.3 4.3M567.0 69.9l4.3 -4.3M549.0 91.4h6.0M552.0 88.4v6.0M549.9 89.3l4.3 4.3M549.9 93.6l4.3 -4.3M532.2 77.2h6.0M535.2 74.2v6.0M533.0 75.1l4.3 4.3M533.0 79.4l4.3 -4.3M547.2 80.8h6.0M550.2 77.8v6.0M548.0 78.7l4.3 4.3M548.0 83.0l4.3 -4.3M567.8 52.6h6.0M570.8 49.6v6.0M568.7 50.4l4.3 4.3M568.7 54.7l4.3 -4.3M545.2 81.8h6.0M548.2 78.8v6.0M546.1 79.7l4.3 4.3M546.1 84.0l4.3 -4.3M531.7 80.7h6.0M534.7 77.7v6.0M532.6 78.5l4.3 4.3M532.6 82.8l4.3 -4.3M550.8 6.6h6.0M553.8 3.6v6.0M551.6 4.4l4.3 4.3M551.6 8.8l4.3 -4.3M567.5 65.3h6.0M570.5 62.3v6.0M568.3 63.1l4.3 4.3M568.3 67.4l4.3 -4.3" fill="none" stroke="#878787" stroke-width="1.1"/>
<path d="M113.5 94.9h5.4v5.4h-5.4zM111.5 99.6h5.4v5.4h-5.4zM115.5 52.4h5.4v5.4h-5.4zM113.3 58.1h5.4v5.4h-5.4zM112.4 81.7h5.4v5.4h-5.4zM114.5 52.7h5.4v5.4h-5.4zM112.5 66.2h5.4v5.4h-5.4zM112.0 78.3h5.4v5.4h-5.4zM113.4 46.3h5.4v5.4h-5.4zM114.0 30.9h5.4v5.4h-5.4zM111.2 84.1h5.4v5.4h-5.4zM111.0 65.8h5.4v5.4h-5.4zM113.4 32.5h5.4v5.4h-5.4zM113.8 78.1h5.4v5.4h-5.4zM115.1 66.3h5.4v5.4h-5.4zM113.9 43.0h5.4v5.4h-5.4zM112.3 21.4h5.4v5.4h-5.4zM112.3 72.1h5.4v5.4h-5.4zM115.6 68.1h5.4v5.4h-5.4zM112.5 43.3h5.4v5.4h-5.4zM113.9 59.0h5.4v5.4h-5.4zM111.5 63.7h5.4v5.4h-5.4zM115.4 32.3h5.4v5.4h-5.4zM115.0 46.3h5.4v5.4h-5.4zM113.8 100.5h5.4v5.4h-5.4zM113.3 23.3h5.4v5.4h-5.4zM112.3 59.3h5.4v5.4h-5.4zM111.3 83.3h5.4v5.4h-5.4zM112.3 89.3h5.4v5.4h-5.4zM111.3 97.3h5.4v5.4h-5.4zM164.6 85.7h5.4v5.4h-5.4zM169.1 7.8h5.4v5.4h-5.4zM160.9 80.3h5.4v5.4h-5.4zM163.5 79.7h5.4v5.4h-5.4zM167.6 31.1h5.4v5.4h-5.4zM163.4 26.9h5.4v5.4h-5.4zM163.4 53.0h5.4v5.4h-5.4zM164.4 99.5h5.4v5.4h-5.4zM159.7 83.3h5.4v5.4h-5.4zM164.0 61.8h5.4v5.4h-5.4zM161.5 47.8h5.4v5.4h-5.4zM163.9 53.2h5.4v5.4h-5.4zM163.1 101.0h5.4v5.4h-5.4zM159.5 93.8h5.4v5.4h-5.4zM166.8 21.3h5.4v5.4h-5.4zM162.2 67.7h5.4v5.4h-5.4zM166.5 57.3h5.4v5.4h-5.4zM166.7 44.7h5.4v5.4h-5.4zM165.4 14.4h5.4v5.4h-5.4zM160.6 70.8h5.4v5.4h-5.4zM164.2 62.3h5.4v5.4h-5.4zM162.6 84.9h5.4v5.4h-5.4zM163.8 76.5h5.4v5.4h-5.4zM163.0 67.6h5.4v5.4h-5.4zM163.3 73.0h5.4v5.4h-5.4zM164.2 27.7h5.4v5.4h-5.4zM165.8 57.0h5.4v5.4h-5.4zM166.8 27.8h5.4v5.4h-5.4zM163.7 79.4h5.4v5.4h-5.4zM162.1 103.7h5.4v5.4h-5.4zM167.6 15.8h5.4v5.4h-5.4zM160.5 73.7h5.4v5.4h-5.4zM167.5 30.7h5.4v5.4h-5.4zM158.9 103.7h5.4v5.4h-5.4zM164.3 34.2h5.4v5.4h-5.4zM165.1 36.3h5.4v5.4h-5.4zM162.5 63.8h5.4v5.4h-5.4zM163.9 26.1h5.4v5.4h-5.4zM169.1 11.6h5.4v5.4h-5.4zM160.8 82.5h5.4v5.4h-5.4zM167.3 45.1h5.4v5.4h-5.4zM162.1 97.8h5.4v5.4h-5.4zM167.1 28.0h5.4v5.4h-5.4zM160.0 81.0h5.4v5.4h-5.4zM166.3 9.4h5.4v5.4h-5.4zM163.7 78.8h5.4v5.4h-5.4zM168.9 20.5h5.4v5.4h-5.4zM159.6 85.8h5.4v5.4h-5.4zM162.0 67.9h5.4v5.4h-5.4zM163.5 32.3h5.4v5.4h-5.4zM166.3 10.3h5.4v5.4h-5.4zM163.3 25.3h5.4v5.4h-5.4zM161.3 49.3h5.4v5.4h-5.4zM160.3 57.3h5.4v5.4h-5.4zM159.3 79.3h5.4v5.4h-5.4zM159.3 85.3h5.4v5.4h-5.4zM159.3 97.3h5.4v5.4h-5.4zM192.3 11.3h5.4v5.4h-5.4zM193.3 19.3h5.4v5.4h-5.4zM193.3 30.3h5.4v5.4h-5.4zM190.3 59.3h5.4v5.4h-5.4zM205.3 23.8h5.4v5.4h-5.4zM213.9 6.7h5.4v5.4h-5.4zM206.1 57.2h5.4v5.4h-5.4zM207.9 32.4h5.4v5.4h-5.4zM209.0 18.4h5.4v5.4h-5.4zM208.0 36.0h5.4v5.4h-5.4zM214.9 36.9h5.4v5.4h-5.4zM205.1 51.0h5.4v5.4h-5.4zM212.6 32.7h5.4v5.4h-5.4zM210.4 24.0h5.4v5.4h-5.4zM215.3 21.2h5.4v5.4h-5.4zM205.2 27.1h5.4v5.4h-5.4zM217.3 33.3h5.4v5.4h-5.4zM206.6 8.3h5.4v5.4h-5.4zM208.4 7.4h5.4v5.4h-5.4zM214.7 22.2h5.4v5.4h-5.4zM215.0 30.8h5.4v5.4h-5.4zM206.3 21.5h5.4v5.4h-5.4zM211.0 69.9h5.4v5.4h-5.4zM205.3 35.5h5.4v5.4h-5.4zM217.2 45.7h5.4v5.4h-5.4zM206.1 12.4h5.4v5.4h-5.4zM214.4 34.8h5.4v5.4h-5.4zM208.4 5.1h5.4v5.4h-5.4zM213.1 74.2h5.4v5.4h-5.4zM215.0 60.1h5.4v5.4h-5.4zM218.5 8.7h5.4v5.4h-5.4zM208.3 20.6h5.4v5.4h-5.4zM206.5 71.6h5.4v5.4h-5.4zM218.4 15.6h5.4v5.4h-5.4zM217.1 32.6h5.4v5.4h-5.4zM212.1 14.9h5.4v5.4h-5.4zM207.1 16.2h5.4v5.4h-5.4zM210.5 42.5h5.4v5.4h-5.4zM219.3 20.2h5.4v5.4h-5.4zM207.5 50.8h5.4v5.4h-5.4zM218.4 11.7h5.4v5.4h-5.4zM208.8 9.9h5.4v5.4h-5.4zM219.3 14.3h5.4v5.4h-5.4zM210.2 9.4h5.4v5.4h-5.4zM216.6 45.8h5.4v5.4h-5.4zM211.6 57.2h5.4v5.4h-5.4zM209.2 70.6h5.4v5.4h-5.4zM214.2 72.0h5.4v5.4h-5.4zM210.9 63.7h5.4v5.4h-5.4zM214.6 5.3h5.4v5.4h-5.4zM210.6 15.8h5.4v5.4h-5.4zM210.0 35.9h5.4v5.4h-5.4zM207.1 46.3h5.4v5.4h-5.4zM206.0 58.4h5.4v5.4h-5.4zM210.0 58.4h5.4v5.4h-5.4zM202.5 70.0h5.4v5.4h-5.4zM244.0 16.3h5.4v5.4h-5.4zM215.3 19.3h5.4v5.4h-5.4zM211.3 57.3h5.4v5.4h-5.4zM217.3 58.3h5.4v5.4h-5.4zM245.3 58.3h5.4v5.4h-5.4zM248.3 20.3h5.4v5.4h-5.4zM433.7 23.3h5.4v5.4h-5.4zM432.3 26.1h5.4v5.4h-5.4zM432.7 28.8h5.4v5.4h-5.4zM433.5 31.6h5.4v5.4h-5.4zM433.5 34.3h5.4v5.4h-5.4zM431.9 38.3h5.4v5.4h-5.4zM431.6 41.3h5.4v5.4h-5.4zM431.9 49.3h5.4v5.4h-5.4zM434.0 52.3h5.4v5.4h-5.4zM431.4 62.3h5.4v5.4h-5.4zM431.7 64.3h5.4v5.4h-5.4zM432.3 66.3h5.4v5.4h-5.4zM432.6 68.3h5.4v5.4h-5.4zM434.2 89.3h5.4v5.4h-5.4zM432.2 91.3h5.4v5.4h-5.4zM431.8 93.3h5.4v5.4h-5.4zM431.8 95.3h5.4v5.4h-5.4zM451.4 7.8h5.4v5.4h-5.4zM451.4 16.8h5.4v5.4h-5.4zM455.6 23.2h4.8v4.8h-4.8zM455.6 28.0h4.8v4.8h-4.8zM455.6 32.9h4.8v4.8h-4.8zM455.6 37.1h4.8v4.8h-4.8zM455.6 40.7h4.8v4.8h-4.8zM455.6 45.6h4.8v4.8h-4.8zM455.6 49.6h4.8v4.8h-4.8zM455.6 53.1h4.8v4.8h-4.8zM451.3 24.9h5.4v5.4h-5.4zM452.2 27.7h5.4v5.4h-5.4zM450.5 38.1h5.4v5.4h-5.4zM451.5 31.2h5.4v5.4h-5.4zM452.7 52.2h5.4v5.4h-5.4zM451.2 51.9h5.4v5.4h-5.4zM452.2 28.7h5.4v5.4h-5.4zM450.5 44.6h5.4v5.4h-5.4zM455.6 63.2h4.8v4.8h-4.8zM455.6 67.3h4.8v4.8h-4.8zM455.6 71.1h4.8v4.8h-4.8zM455.6 74.7h4.8v4.8h-4.8zM455.6 79.6h4.8v4.8h-4.8zM451.6 73.1h5.4v5.4h-5.4zM450.4 67.2h5.4v5.4h-5.4zM452.3 75.3h5.4v5.4h-5.4zM451.4 67.4h5.4v5.4h-5.4zM452.4 76.4h5.4v5.4h-5.4zM455.6 90.7h4.8v4.8h-4.8zM455.6 94.4h4.8v4.8h-4.8zM455.6 99.1h4.8v4.8h-4.8zM455.6 103.6h4.8v4.8h-4.8zM451.4 92.3h5.4v5.4h-5.4zM451.3 94.7h5.4v5.4h-5.4zM452.5 107.2h5.4v5.4h-5.4zM450.8 91.1h5.4v5.4h-5.4zM451.2 96.3h5.4v5.4h-5.4zM471.6 7.8h5.4v5.4h-5.4zM471.6 16.8h5.4v5.4h-5.4zM475.8 23.2h4.8v4.8h-4.8zM475.8 28.0h4.8v4.8h-4.8zM475.8 32.4h4.8v4.8h-4.8zM475.8 36.5h4.8v4.8h-4.8zM475.8 40.5h4.8v4.8h-4.8zM475.8 45.3h4.8v4.8h-4.8zM475.8 49.8h4.8v4.8h-4.8zM471.6 32.1h5.4v5.4h-5.4zM471.6 44.0h5.4v5.4h-5.4zM472.1 23.7h5.4v5.4h-5.4zM471.9 36.7h5.4v5.4h-5.4zM471.9 28.4h5.4v5.4h-5.4zM472.8 36.9h5.4v5.4h-5.4zM472.8 27.9h5.4v5.4h-5.4zM472.3 51.7h5.4v5.4h-5.4zM475.8 63.2h4.8v4.8h-4.8zM475.8 68.2h4.8v4.8h-4.8zM475.8 73.6h4.8v4.8h-4.8zM475.8 78.8h4.8v4.8h-4.8zM472.1 78.1h5.4v5.4h-5.4zM472.7 64.4h5.4v5.4h-5.4zM470.4 66.4h5.4v5.4h-5.4zM471.5 70.3h5.4v5.4h-5.4zM471.3 78.9h5.4v5.4h-5.4zM475.8 90.7h4.8v4.8h-4.8zM475.8 94.9h4.8v4.8h-4.8zM475.8 99.9h4.8v4.8h-4.8zM475.8 103.6h4.8v4.8h-4.8zM475.8 108.1h4.8v4.8h-4.8zM471.8 95.6h5.4v5.4h-5.4zM471.4 94.4h5.4v5.4h-5.4zM471.9 104.8h5.4v5.4h-5.4zM471.1 100.0h5.4v5.4h-5.4zM471.9 103.4h5.4v5.4h-5.4zM515.9 14.5h5.4v5.4h-5.4zM517.5 8.5h5.4v5.4h-5.4zM506.2 13.2h5.4v5.4h-5.4zM505.9 13.8h5.4v5.4h-5.4zM504.6 5.0h5.4v5.4h-5.4zM507.4 17.6h5.4v5.4h-5.4zM517.3 2.4h5.4v5.4h-5.4zM511.3 5.7h5.4v5.4h-5.4zM507.8 8.4h5.4v5.4h-5.4zM513.6 5.2h5.4v5.4h-5.4zM516.4 5.1h5.4v5.4h-5.4zM505.1 16.2h5.4v5.4h-5.4zM516.2 8.7h5.4v5.4h-5.4zM509.6 7.8h5.4v5.4h-5.4zM511.4 3.0h5.4v5.4h-5.4zM511.8 15.9h5.4v5.4h-5.4zM506.6 3.4h5.4v5.4h-5.4zM515.0 5.5h5.4v5.4h-5.4zM513.8 10.8h5.4v5.4h-5.4zM513.4 15.4h5.4v5.4h-5.4zM508.3 17.1h5.4v5.4h-5.4zM514.0 11.4h5.4v5.4h-5.4zM505.8 14.8h5.4v5.4h-5.4zM508.3 7.0h5.4v5.4h-5.4zM517.2 5.7h5.4v5.4h-5.4zM517.3 15.7h5.4v5.4h-5.4zM513.6 16.5h5.4v5.4h-5.4zM508.7 14.9h5.4v5.4h-5.4zM515.5 4.4h5.4v5.4h-5.4zM511.7 10.7h5.4v5.4h-5.4zM491.0 23.7h5.4v5.4h-5.4zM491.7 91.6h5.4v5.4h-5.4zM499.4 64.3h5.4v5.4h-5.4zM498.4 69.9h5.4v5.4h-5.4zM500.0 22.3h5.4v5.4h-5.4zM500.7 15.5h5.4v5.4h-5.4zM490.7 92.9h5.4v5.4h-5.4zM493.8 63.7h5.4v5.4h-5.4zM499.9 16.9h5.4v5.4h-5.4zM493.7 49.2h5.4v5.4h-5.4zM494.2 25.4h5.4v5.4h-5.4zM499.6 65.1h5.4v5.4h-5.4zM494.7 20.9h5.4v5.4h-5.4zM490.7 89.3h5.4v5.4h-5.4zM491.1 72.6h5.4v5.4h-5.4zM501.0 71.0h5.4v5.4h-5.4zM499.9 35.8h5.4v5.4h-5.4zM492.7 17.0h5.4v5.4h-5.4zM501.0 93.9h5.4v5.4h-5.4zM500.1 94.7h5.4v5.4h-5.4zM491.0 9.8h5.4v5.4h-5.4zM494.3 34.5h5.4v5.4h-5.4zM502.0 92.8h5.4v5.4h-5.4zM498.9 51.9h5.4v5.4h-5.4zM496.9 87.0h5.4v5.4h-5.4zM525.4 53.4h5.4v5.4h-5.4zM521.8 11.4h5.4v5.4h-5.4zM529.5 89.6h5.4v5.4h-5.4zM523.5 56.3h5.4v5.4h-5.4zM530.2 89.2h5.4v5.4h-5.4zM530.2 90.3h5.4v5.4h-5.4zM524.3 62.4h5.4v5.4h-5.4zM520.4 10.4h5.4v5.4h-5.4zM524.9 42.5h5.4v5.4h-5.4zM526.4 24.0h5.4v5.4h-5.4zM529.5 80.3h5.4v5.4h-5.4zM524.6 30.5h5.4v5.4h-5.4zM523.0 7.2h5.4v5.4h-5.4zM524.5 33.6h5.4v5.4h-5.4z" fill="none" stroke="#878787" stroke-width="1.1"/>
<rect x="215.9" y="362.5" width="6.6" height="1.8" fill="#000"/>
<rect x="215.9" y="366.8" width="6.6" height="1.4" fill="#555"/>
<rect x="215.9" y="369.4" width="6.6" height="2.1" fill="#555"/>
<rect x="215.9" y="373.3" width="6.6" height="1.8" fill="#444"/>
<rect x="247.5" y="362.5" width="6.6" height="1.3" fill="#222"/>
<rect x="247.5" y="366.8" width="6.6" height="1.6" fill="#555"/>
<rect x="247.5" y="370.2" width="6.6" height="2.0" fill="#444"/>
<rect x="247.5" y="374.4" width="6.6" height="1.3" fill="#000"/>
<rect x="247.5" y="377.8" width="6.6" height="2.2" fill="#555"/>
<rect x="247.5" y="381.3" width="6.6" height="1.6" fill="#000"/>
<rect x="279.1" y="362.5" width="6.6" height="1.4" fill="#555"/>
<rect x="279.1" y="365.4" width="6.6" height="2.1" fill="#555"/>
<rect x="279.1" y="368.2" width="6.6" height="1.3" fill="#444"/>
<rect x="279.1" y="371.2" width="6.6" height="1.2" fill="#222"/>
<rect x="279.1" y="374.9" width="6.6" height="1.9" fill="#000"/>
<rect x="279.1" y="378.0" width="6.6" height="1.8" fill="#555"/>
<rect x="279.1" y="381.6" width="6.6" height="1.8" fill="#444"/>
<polygon points="190.0,78.0 192.5,79.0 193.0,92.0 193.5,106.0 192.0,118.0 186.0,125.0 182.0,112.0 182.0,100.0 184.0,86.0" fill="#000"/>
<path d="M155.8 370.7l2.8 5.0h-5.6zM156.2 372.5l2.8 5.0h-5.6zM156.1 374.5l2.8 5.0h-5.6zM155.9 376.0l2.8 5.0h-5.6zM187.5 364.7l2.8 5.0h-5.6zM187.6 366.0l2.8 5.0h-5.6zM187.4 367.6l2.8 5.0h-5.6zM187.4 369.0l2.8 5.0h-5.6zM187.8 370.0l2.8 5.0h-5.6zM187.6 371.4l2.8 5.0h-5.6zM187.8 372.9l2.8 5.0h-5.6zM187.7 374.2l2.8 5.0h-5.6zM187.6 375.5l2.8 5.0h-5.6zM187.6 377.0l2.8 5.0h-5.6zM187.6 378.3l2.8 5.0h-5.6zM187.7 380.1l2.8 5.0h-5.6zM187.9 381.8l2.8 5.0h-5.6zM187.6 382.8l2.8 5.0h-5.6zM187.8 384.6l2.8 5.0h-5.6zM187.4 385.5l2.8 5.0h-5.6zM187.3 386.7l2.8 5.0h-5.6zM187.3 387.8l2.8 5.0h-5.6zM187.8 389.2l2.8 5.0h-5.6zM187.4 390.9l2.8 5.0h-5.6zM187.7 392.5l2.8 5.0h-5.6zM187.8 393.4l2.8 5.0h-5.6zM187.4 395.2l2.8 5.0h-5.6zM187.5 397.0l2.8 5.0h-5.6zM219.1 379.2l2.8 5.0h-5.6zM219.3 382.6l2.8 5.0h-5.6zM219.1 385.9l2.8 5.0h-5.6zM219.2 388.8l2.8 5.0h-5.6zM219.0 392.9l2.8 5.0h-5.6zM219.2 395.3l2.8 5.0h-5.6zM219.1 398.8l2.8 5.0h-5.6zM219.3 401.7l2.8 5.0h-5.6zM219.2 405.9l2.8 5.0h-5.6zM219.0 408.4l2.8 5.0h-5.6zM219.1 411.4l2.8 5.0h-5.6zM219.2 413.3l2.8 5.0h-5.6zM219.4 417.5l2.8 5.0h-5.6zM219.4 420.3l2.8 5.0h-5.6zM219.0 424.3l2.8 5.0h-5.6zM219.3 430.2l2.8 5.0h-5.6zM219.1 431.3l2.8 5.0h-5.6zM219.3 432.8l2.8 5.0h-5.6zM219.0 434.0l2.8 5.0h-5.6zM219.2 435.3l2.8 5.0h-5.6zM219.2 437.1l2.8 5.0h-5.6zM219.4 438.1l2.8 5.0h-5.6zM219.2 439.7l2.8 5.0h-5.6zM219.2 441.3l2.8 5.0h-5.6zM219.0 442.6l2.8 5.0h-5.6zM219.1 443.8l2.8 5.0h-5.6zM219.2 445.0l2.8 5.0h-5.6zM219.1 446.9l2.8 5.0h-5.6zM219.3 447.8l2.8 5.0h-5.6zM219.0 448.9l2.8 5.0h-5.6zM219.3 450.2l2.8 5.0h-5.6zM219.2 457.7l2.8 5.0h-5.6zM250.9 387.5l2.8 5.0h-5.6zM250.7 390.4l2.8 5.0h-5.6zM250.8 393.2l2.8 5.0h-5.6zM250.9 396.6l2.8 5.0h-5.6zM250.9 400.4l2.8 5.0h-5.6zM250.9 402.5l2.8 5.0h-5.6zM250.8 405.0l2.8 5.0h-5.6zM250.9 407.7l2.8 5.0h-5.6zM250.7 410.0l2.8 5.0h-5.6zM250.7 412.4l2.8 5.0h-5.6zM250.8 416.3l2.8 5.0h-5.6zM250.8 418.9l2.8 5.0h-5.6zM250.8 423.1l2.8 5.0h-5.6zM250.9 425.4l2.8 5.0h-5.6zM251.0 428.8l2.8 5.0h-5.6zM250.8 430.8l2.8 5.0h-5.6zM250.9 434.6l2.8 5.0h-5.6zM250.6 438.6l2.8 5.0h-5.6zM250.6 441.1l2.8 5.0h-5.6zM251.0 443.4l2.8 5.0h-5.6zM251.0 446.6l2.8 5.0h-5.6zM250.9 449.3l2.8 5.0h-5.6zM250.7 452.1l2.8 5.0h-5.6zM251.0 455.8l2.8 5.0h-5.6zM250.8 457.8l2.8 5.0h-5.6zM250.7 461.1l2.8 5.0h-5.6zM250.7 463.8l2.8 5.0h-5.6zM250.7 466.1l2.8 5.0h-5.6zM250.9 469.4l2.8 5.0h-5.6zM282.3 388.2l2.8 5.0h-5.6zM282.2 391.5l2.8 5.0h-5.6zM282.6 395.5l2.8 5.0h-5.6zM282.3 399.5l2.8 5.0h-5.6zM282.5 401.5l2.8 5.0h-5.6zM282.5 404.9l2.8 5.0h-5.6zM282.6 408.9l2.8 5.0h-5.6zM282.6 411.4l2.8 5.0h-5.6zM282.2 415.4l2.8 5.0h-5.6zM282.3 418.4l2.8 5.0h-5.6zM282.5 422.3l2.8 5.0h-5.6zM282.3 424.6l2.8 5.0h-5.6zM282.3 428.6l2.8 5.0h-5.6zM282.4 431.4l2.8 5.0h-5.6zM282.5 434.1l2.8 5.0h-5.6zM282.6 438.1l2.8 5.0h-5.6zM282.4 441.9l2.8 5.0h-5.6zM282.4 444.8l2.8 5.0h-5.6zM282.2 446.7l2.8 5.0h-5.6zM282.3 450.7l2.8 5.0h-5.6zM282.5 454.7l2.8 5.0h-5.6zM282.4 457.4l2.8 5.0h-5.6zM282.3 460.6l2.8 5.0h-5.6zM282.2 462.4l2.8 5.0h-5.6zM282.3 465.7l2.8 5.0h-5.6zM456.8 388.2l2.8 5.0h-5.6zM456.9 391.5l2.8 5.0h-5.6zM457.2 395.6l2.8 5.0h-5.6zM456.9 398.4l2.8 5.0h-5.6zM456.8 410.2l2.8 5.0h-5.6zM457.2 413.0l2.8 5.0h-5.6zM457.0 415.9l2.8 5.0h-5.6zM457.2 418.9l2.8 5.0h-5.6zM456.8 422.4l2.8 5.0h-5.6zM457.1 424.6l2.8 5.0h-5.6zM456.8 428.1l2.8 5.0h-5.6zM457.1 430.7l2.8 5.0h-5.6zM456.9 433.7l2.8 5.0h-5.6zM457.0 436.6l2.8 5.0h-5.6zM457.1 440.8l2.8 5.0h-5.6zM456.9 443.1l2.8 5.0h-5.6zM456.7 446.4l2.8 5.0h-5.6zM457.1 448.3l2.8 5.0h-5.6zM457.2 452.5l2.8 5.0h-5.6zM457.0 454.5l2.8 5.0h-5.6zM456.8 458.2l2.8 5.0h-5.6zM456.9 460.5l2.8 5.0h-5.6zM456.8 462.6l2.8 5.0h-5.6zM456.9 466.0l2.8 5.0h-5.6zM457.0 469.6l2.8 5.0h-5.6zM513.7 346.2l2.8 5.0h-5.6zM514.0 348.9l2.8 5.0h-5.6zM513.8 351.3l2.8 5.0h-5.6zM513.7 354.7l2.8 5.0h-5.6zM513.6 357.2l2.8 5.0h-5.6zM514.0 361.2l2.8 5.0h-5.6zM513.7 364.8l2.8 5.0h-5.6zM514.0 367.0l2.8 5.0h-5.6zM513.6 371.2l2.8 5.0h-5.6zM514.0 375.3l2.8 5.0h-5.6zM514.0 378.4l2.8 5.0h-5.6zM513.8 381.4l2.8 5.0h-5.6zM513.8 384.5l2.8 5.0h-5.6zM514.0 387.2l2.8 5.0h-5.6zM514.1 390.8l2.8 5.0h-5.6zM513.5 393.3l2.8 5.0h-5.6zM513.9 396.1l2.8 5.0h-5.6zM513.9 400.1l2.8 5.0h-5.6zM513.7 401.9l2.8 5.0h-5.6zM513.8 405.0l2.8 5.0h-5.6zM513.5 407.7l2.8 5.0h-5.6zM513.8 410.4l2.8 5.0h-5.6zM514.0 412.8l2.8 5.0h-5.6zM513.8 415.4l2.8 5.0h-5.6zM513.6 417.7l2.8 5.0h-5.6zM514.0 419.7l2.8 5.0h-5.6zM513.8 422.2l2.8 5.0h-5.6zM570.9 383.2l2.8 5.0h-5.6zM570.5 385.2l2.8 5.0h-5.6zM570.8 387.6l2.8 5.0h-5.6zM570.8 391.5l2.8 5.0h-5.6zM570.6 395.4l2.8 5.0h-5.6zM570.5 399.4l2.8 5.0h-5.6zM570.7 401.4l2.8 5.0h-5.6zM570.3 404.3l2.8 5.0h-5.6zM570.4 408.0l2.8 5.0h-5.6zM570.4 410.4l2.8 5.0h-5.6zM570.4 413.7l2.8 5.0h-5.6zM570.6 416.3l2.8 5.0h-5.6zM570.3 420.4l2.8 5.0h-5.6zM570.7 424.4l2.8 5.0h-5.6zM570.8 426.8l2.8 5.0h-5.6zM570.6 430.1l2.8 5.0h-5.6zM570.6 432.5l2.8 5.0h-5.6zM570.4 435.2l2.8 5.0h-5.6zM570.5 437.4l2.8 5.0h-5.6zM570.7 440.3l2.8 5.0h-5.6zM570.4 443.9l2.8 5.0h-5.6zM627.7 338.2l2.8 5.0h-5.6zM627.7 340.0l2.8 5.0h-5.6zM627.5 344.2l2.8 5.0h-5.6zM627.6 346.7l2.8 5.0h-5.6zM627.6 350.4l2.8 5.0h-5.6zM627.4 353.1l2.8 5.0h-5.6zM627.5 356.9l2.8 5.0h-5.6zM627.7 361.0l2.8 5.0h-5.6zM627.5 363.4l2.8 5.0h-5.6zM627.8 367.6l2.8 5.0h-5.6zM627.3 371.7l2.8 5.0h-5.6zM627.8 374.1l2.8 5.0h-5.6zM627.6 376.6l2.8 5.0h-5.6zM627.7 379.1l2.8 5.0h-5.6zM627.8 382.0l2.8 5.0h-5.6zM627.6 385.5l2.8 5.0h-5.6zM627.3 388.4l2.8 5.0h-5.6zM627.6 391.9l2.8 5.0h-5.6zM627.3 393.7l2.8 5.0h-5.6zM627.5 396.0l2.8 5.0h-5.6zM627.7 399.0l2.8 5.0h-5.6zM627.4 403.1l2.8 5.0h-5.6zM627.6 405.3l2.8 5.0h-5.6zM109.1 640.2l2.8 5.0h-5.6zM108.8 644.4l2.8 5.0h-5.6zM108.9 648.6l2.8 5.0h-5.6zM109.1 650.7l2.8 5.0h-5.6zM109.1 654.7l2.8 5.0h-5.6zM108.9 657.5l2.8 5.0h-5.6zM108.8 662.1l2.8 5.0h-5.6zM109.1 666.7l2.8 5.0h-5.6zM108.9 671.0l2.8 5.0h-5.6zM108.8 675.1l2.8 5.0h-5.6zM109.1 678.0l2.8 5.0h-5.6zM108.9 681.2l2.8 5.0h-5.6zM109.0 685.7l2.8 5.0h-5.6zM109.1 689.5l2.8 5.0h-5.6zM109.2 694.0l2.8 5.0h-5.6zM108.9 696.6l2.8 5.0h-5.6zM109.1 701.0l2.8 5.0h-5.6zM108.8 705.6l2.8 5.0h-5.6zM109.0 712.0l2.8 5.0h-5.6zM109.0 716.0l2.8 5.0h-5.6zM109.0 720.0l2.8 5.0h-5.6zM156.5 640.2l2.8 5.0h-5.6zM156.5 642.9l2.8 5.0h-5.6zM156.7 647.6l2.8 5.0h-5.6zM156.4 650.4l2.8 5.0h-5.6zM156.7 652.8l2.8 5.0h-5.6zM156.8 657.5l2.8 5.0h-5.6zM156.4 660.7l2.8 5.0h-5.6zM156.6 663.4l2.8 5.0h-5.6zM156.8 667.6l2.8 5.0h-5.6zM156.7 671.4l2.8 5.0h-5.6zM156.5 673.9l2.8 5.0h-5.6zM156.7 676.4l2.8 5.0h-5.6zM156.8 679.6l2.8 5.0h-5.6zM156.6 684.1l2.8 5.0h-5.6zM156.5 686.8l2.8 5.0h-5.6zM156.6 689.0l2.8 5.0h-5.6zM156.6 693.4l2.8 5.0h-5.6zM156.4 695.9l2.8 5.0h-5.6zM156.7 698.2l2.8 5.0h-5.6zM156.4 702.8l2.8 5.0h-5.6zM156.8 704.9l2.8 5.0h-5.6zM156.7 707.5l2.8 5.0h-5.6zM156.6 713.8l2.8 5.0h-5.6zM156.6 717.8l2.8 5.0h-5.6zM156.6 721.8l2.8 5.0h-5.6zM227.4 640.2l2.8 5.0h-5.6zM227.4 643.8l2.8 5.0h-5.6zM227.5 646.2l2.8 5.0h-5.6zM227.6 648.9l2.8 5.0h-5.6zM227.4 653.1l2.8 5.0h-5.6zM227.7 656.5l2.8 5.0h-5.6zM227.4 659.5l2.8 5.0h-5.6zM227.4 662.9l2.8 5.0h-5.6zM227.7 665.7l2.8 5.0h-5.6zM227.6 669.5l2.8 5.0h-5.6zM227.4 673.7l2.8 5.0h-5.6zM227.3 676.8l2.8 5.0h-5.6zM227.4 681.7l2.8 5.0h-5.6zM227.5 685.4l2.8 5.0h-5.6zM227.6 687.9l2.8 5.0h-5.6zM227.7 692.6l2.8 5.0h-5.6zM227.4 694.9l2.8 5.0h-5.6zM227.5 698.2l2.8 5.0h-5.6zM227.6 700.6l2.8 5.0h-5.6zM227.4 704.9l2.8 5.0h-5.6zM227.4 709.3l2.8 5.0h-5.6zM227.5 714.7l2.8 5.0h-5.6zM227.5 718.7l2.8 5.0h-5.6zM227.5 722.7l2.8 5.0h-5.6zM298.6 635.0l2.8 5.0h-5.6zM298.4 639.6l2.8 5.0h-5.6zM298.5 642.3l2.8 5.0h-5.6zM298.5 644.5l2.8 5.0h-5.6zM298.5 646.6l2.8 5.0h-5.6zM298.5 651.3l2.8 5.0h-5.6zM298.3 654.4l2.8 5.0h-5.6zM298.6 657.5l2.8 5.0h-5.6zM298.5 660.7l2.8 5.0h-5.6zM298.2 665.2l2.8 5.0h-5.6zM298.5 667.3l2.8 5.0h-5.6zM298.3 670.1l2.8 5.0h-5.6zM298.4 673.1l2.8 5.0h-5.6zM298.6 676.0l2.8 5.0h-5.6zM298.6 679.5l2.8 5.0h-5.6zM298.4 683.8l2.8 5.0h-5.6zM298.5 688.5l2.8 5.0h-5.6zM298.3 693.3l2.8 5.0h-5.6zM298.2 696.3l2.8 5.0h-5.6zM298.5 698.4l2.8 5.0h-5.6zM298.3 701.2l2.8 5.0h-5.6zM298.6 705.0l2.8 5.0h-5.6zM298.2 707.7l2.8 5.0h-5.6zM298.4 714.2l2.8 5.0h-5.6zM298.4 718.2l2.8 5.0h-5.6zM298.4 722.2l2.8 5.0h-5.6zM120.7 113.4l2.8 5.0h-5.6zM121.7 166.2l2.8 5.0h-5.6zM122.9 104.6l2.8 5.0h-5.6zM126.5 96.3l2.8 5.0h-5.6zM119.4 154.8l2.8 5.0h-5.6zM122.0 101.0l2.8 5.0h-5.6zM120.6 119.0l2.8 5.0h-5.6zM124.0 162.9l2.8 5.0h-5.6zM126.0 95.1l2.8 5.0h-5.6zM124.2 140.9l2.8 5.0h-5.6zM118.9 99.2l2.8 5.0h-5.6zM121.1 96.7l2.8 5.0h-5.6zM120.7 102.9l2.8 5.0h-5.6zM119.4 161.9l2.8 5.0h-5.6zM119.1 114.4l2.8 5.0h-5.6zM119.1 154.5l2.8 5.0h-5.6zM122.2 123.2l2.8 5.0h-5.6zM122.0 119.7l2.8 5.0h-5.6zM124.8 110.4l2.8 5.0h-5.6zM121.4 145.1l2.8 5.0h-5.6zM119.9 115.9l2.8 5.0h-5.6zM123.3 109.2l2.8 5.0h-5.6zM122.8 99.9l2.8 5.0h-5.6zM123.7 93.9l2.8 5.0h-5.6zM124.0 107.7l2.8 5.0h-5.6zM118.7 139.1l2.8 5.0h-5.6zM121.9 113.8l2.8 5.0h-5.6zM117.9 108.1l2.8 5.0h-5.6zM125.3 136.5l2.8 5.0h-5.6zM121.9 141.7l2.8 5.0h-5.6zM123.2 110.8l2.8 5.0h-5.6zM119.8 137.5l2.8 5.0h-5.6zM127.8 92.9l2.8 5.0h-5.6zM122.5 91.4l2.8 5.0h-5.6zM123.6 100.8l2.8 5.0h-5.6zM122.4 132.9l2.8 5.0h-5.6zM118.4 101.0l2.8 5.0h-5.6zM117.2 155.4l2.8 5.0h-5.6zM123.3 157.5l2.8 5.0h-5.6zM126.5 90.6l2.8 5.0h-5.6zM122.1 98.5l2.8 5.0h-5.6zM123.6 145.2l2.8 5.0h-5.6zM125.7 98.1l2.8 5.0h-5.6zM119.5 124.8l2.8 5.0h-5.6zM119.3 94.2l2.8 5.0h-5.6zM122.4 153.1l2.8 5.0h-5.6zM127.1 117.3l2.8 5.0h-5.6zM120.2 96.6l2.8 5.0h-5.6zM125.6 146.1l2.8 5.0h-5.6zM121.7 141.4l2.8 5.0h-5.6zM120.7 104.7l2.8 5.0h-5.6zM120.9 163.9l2.8 5.0h-5.6zM118.6 166.7l2.8 5.0h-5.6zM124.5 107.1l2.8 5.0h-5.6zM118.1 100.6l2.8 5.0h-5.6zM116.6 175.9l2.8 5.0h-5.6zM119.7 179.1l2.8 5.0h-5.6zM119.1 181.2l2.8 5.0h-5.6zM117.0 187.8l2.8 5.0h-5.6zM118.9 195.6l2.8 5.0h-5.6zM118.0 192.3l2.8 5.0h-5.6zM123.4 178.0l2.8 5.0h-5.6zM123.7 178.9l2.8 5.0h-5.6zM114.4 190.5l2.8 5.0h-5.6zM117.4 194.5l2.8 5.0h-5.6zM118.0 181.8l2.8 5.0h-5.6zM119.5 175.6l2.8 5.0h-5.6zM120.4 182.6l2.8 5.0h-5.6zM122.3 196.5l2.8 5.0h-5.6zM187.9 170.9l2.8 5.0h-5.6zM188.2 76.7l2.8 5.0h-5.6zM182.2 93.3l2.8 5.0h-5.6zM182.4 190.6l2.8 5.0h-5.6zM185.6 131.9l2.8 5.0h-5.6zM186.3 166.6l2.8 5.0h-5.6zM190.6 113.6l2.8 5.0h-5.6zM190.7 74.8l2.8 5.0h-5.6zM182.6 115.4l2.8 5.0h-5.6zM190.8 117.4l2.8 5.0h-5.6zM192.8 73.4l2.8 5.0h-5.6zM182.6 102.8l2.8 5.0h-5.6zM184.2 83.0l2.8 5.0h-5.6zM192.4 77.6l2.8 5.0h-5.6zM176.7 125.9l2.8 5.0h-5.6zM183.9 81.2l2.8 5.0h-5.6zM173.8 130.0l2.8 5.0h-5.6zM190.3 79.8l2.8 5.0h-5.6zM194.3 103.6l2.8 5.0h-5.6zM180.1 188.7l2.8 5.0h-5.6zM183.3 169.5l2.8 5.0h-5.6zM173.8 153.5l2.8 5.0h-5.6zM189.4 166.8l2.8 5.0h-5.6zM179.0 161.8l2.8 5.0h-5.6zM194.3 87.9l2.8 5.0h-5.6zM184.0 148.9l2.8 5.0h-5.6zM194.5 93.8l2.8 5.0h-5.6zM178.1 108.5l2.8 5.0h-5.6zM195.3 115.6l2.8 5.0h-5.6zM193.0 84.6l2.8 5.0h-5.6zM183.6 152.7l2.8 5.0h-5.6zM186.5 154.5l2.8 5.0h-5.6zM181.6 90.8l2.8 5.0h-5.6zM187.0 81.6l2.8 5.0h-5.6zM191.2 82.9l2.8 5.0h-5.6zM171.3 139.6l2.8 5.0h-5.6zM189.0 82.4l2.8 5.0h-5.6zM184.0 162.8l2.8 5.0h-5.6zM192.8 136.5l2.8 5.0h-5.6zM178.9 187.4l2.8 5.0h-5.6zM175.4 184.8l2.8 5.0h-5.6zM186.9 122.2l2.8 5.0h-5.6zM195.3 94.7l2.8 5.0h-5.6zM186.5 182.1l2.8 5.0h-5.6zM177.0 130.3l2.8 5.0h-5.6zM184.5 98.8l2.8 5.0h-5.6zM171.7 170.5l2.8 5.0h-5.6zM183.7 99.1l2.8 5.0h-5.6zM185.1 114.8l2.8 5.0h-5.6zM171.7 178.1l2.8 5.0h-5.6zM191.9 84.3l2.8 5.0h-5.6zM176.1 155.2l2.8 5.0h-5.6zM171.7 105.8l2.8 5.0h-5.6zM191.5 132.9l2.8 5.0h-5.6zM185.5 80.3l2.8 5.0h-5.6zM189.4 84.2l2.8 5.0h-5.6zM185.9 80.9l2.8 5.0h-5.6zM194.8 106.5l2.8 5.0h-5.6zM177.2 189.3l2.8 5.0h-5.6zM173.9 140.4l2.8 5.0h-5.6zM188.3 119.0l2.8 5.0h-5.6zM171.0 119.1l2.8 5.0h-5.6zM189.7 155.4l2.8 5.0h-5.6zM173.8 185.9l2.8 5.0h-5.6zM190.4 167.5l2.8 5.0h-5.6zM190.6 76.9l2.8 5.0h-5.6zM184.6 183.1l2.8 5.0h-5.6zM175.0 179.0l2.8 5.0h-5.6zM175.6 183.9l2.8 5.0h-5.6zM188.4 74.1l2.8 5.0h-5.6zM177.1 120.0l2.8 5.0h-5.6zM180.7 108.1l2.8 5.0h-5.6zM171.7 133.6l2.8 5.0h-5.6zM181.9 142.1l2.8 5.0h-5.6zM180.7 123.4l2.8 5.0h-5.6zM187.0 187.7l2.8 5.0h-5.6zM168.7 126.0l2.8 5.0h-5.6zM182.8 96.9l2.8 5.0h-5.6zM174.3 128.2l2.8 5.0h-5.6zM167.7 115.2l2.8 5.0h-5.6zM182.3 136.4l2.8 5.0h-5.6zM188.4 100.0l2.8 5.0h-5.6zM186.8 197.2l2.8 5.0h-5.6zM167.8 119.9l2.8 5.0h-5.6zM168.7 126.7l2.8 5.0h-5.6zM183.0 137.9l2.8 5.0h-5.6zM169.1 112.4l2.8 5.0h-5.6zM181.4 132.4l2.8 5.0h-5.6zM184.7 190.5l2.8 5.0h-5.6zM192.4 89.5l2.8 5.0h-5.6zM180.1 191.1l2.8 5.0h-5.6zM180.3 191.1l2.8 5.0h-5.6zM178.2 161.2l2.8 5.0h-5.6zM187.3 104.0l2.8 5.0h-5.6zM183.7 131.3l2.8 5.0h-5.6zM182.5 191.0l2.8 5.0h-5.6zM194.7 117.1l2.8 5.0h-5.6zM190.9 89.6l2.8 5.0h-5.6zM181.4 126.1l2.8 5.0h-5.6zM184.1 122.6l2.8 5.0h-5.6zM186.4 137.0l2.8 5.0h-5.6zM181.1 154.1l2.8 5.0h-5.6zM187.8 138.9l2.8 5.0h-5.6zM180.4 154.8l2.8 5.0h-5.6zM182.0 118.0l2.8 5.0h-5.6zM181.9 167.9l2.8 5.0h-5.6zM185.7 160.3l2.8 5.0h-5.6zM179.9 125.3l2.8 5.0h-5.6zM180.7 113.4l2.8 5.0h-5.6zM188.3 108.3l2.8 5.0h-5.6zM188.9 122.4l2.8 5.0h-5.6zM180.7 98.3l2.8 5.0h-5.6zM179.1 157.1l2.8 5.0h-5.6zM180.1 184.2l2.8 5.0h-5.6zM179.7 144.8l2.8 5.0h-5.6zM174.3 177.1l2.8 5.0h-5.6zM186.0 99.5l2.8 5.0h-5.6zM173.5 171.1l2.8 5.0h-5.6zM181.4 88.8l2.8 5.0h-5.6zM175.6 134.2l2.8 5.0h-5.6zM191.0 113.3l2.8 5.0h-5.6zM185.6 118.2l2.8 5.0h-5.6zM173.2 110.3l2.8 5.0h-5.6zM179.6 193.1l2.8 5.0h-5.6zM179.1 117.7l2.8 5.0h-5.6zM190.3 150.0l2.8 5.0h-5.6zM183.3 167.1l2.8 5.0h-5.6zM175.6 113.7l2.8 5.0h-5.6zM183.7 87.6l2.8 5.0h-5.6zM188.0 97.0l2.8 5.0h-5.6zM187.4 134.0l2.8 5.0h-5.6zM179.5 175.7l2.8 5.0h-5.6zM189.1 80.7l2.8 5.0h-5.6zM182.1 177.5l2.8 5.0h-5.6zM180.4 137.9l2.8 5.0h-5.6zM182.2 85.9l2.8 5.0h-5.6zM181.2 139.2l2.8 5.0h-5.6zM175.1 132.3l2.8 5.0h-5.6zM186.4 194.6l2.8 5.0h-5.6zM181.7 94.6l2.8 5.0h-5.6zM187.8 118.8l2.8 5.0h-5.6zM183.0 161.3l2.8 5.0h-5.6zM182.9 140.4l2.8 5.0h-5.6zM178.9 116.1l2.8 5.0h-5.6zM181.7 106.9l2.8 5.0h-5.6zM176.2 107.9l2.8 5.0h-5.6zM186.1 171.0l2.8 5.0h-5.6zM178.8 159.4l2.8 5.0h-5.6zM189.2 88.0l2.8 5.0h-5.6zM181.0 130.4l2.8 5.0h-5.6zM185.5 139.3l2.8 5.0h-5.6zM180.8 189.0l2.8 5.0h-5.6zM187.7 141.8l2.8 5.0h-5.6zM181.3 116.0l2.8 5.0h-5.6zM187.3 89.5l2.8 5.0h-5.6zM184.6 179.6l2.8 5.0h-5.6zM185.3 86.6l2.8 5.0h-5.6zM186.7 156.1l2.8 5.0h-5.6zM179.3 119.1l2.8 5.0h-5.6zM185.6 160.8l2.8 5.0h-5.6zM191.6 82.9l2.8 5.0h-5.6zM182.1 141.2l2.8 5.0h-5.6zM180.5 175.0l2.8 5.0h-5.6zM186.3 107.2l2.8 5.0h-5.6zM183.5 162.0l2.8 5.0h-5.6zM178.2 132.8l2.8 5.0h-5.6zM185.1 189.5l2.8 5.0h-5.6zM176.0 124.4l2.8 5.0h-5.6zM181.8 174.1l2.8 5.0h-5.6zM190.6 102.8l2.8 5.0h-5.6zM182.9 186.3l2.8 5.0h-5.6zM180.0 139.2l2.8 5.0h-5.6zM187.9 139.2l2.8 5.0h-5.6zM179.1 193.4l2.8 5.0h-5.6zM186.2 164.5l2.8 5.0h-5.6zM171.0 156.4l2.8 5.0h-5.6zM185.7 106.3l2.8 5.0h-5.6zM172.8 109.0l2.8 5.0h-5.6zM176.1 195.9l2.8 5.0h-5.6zM182.2 182.3l2.8 5.0h-5.6zM177.7 151.5l2.8 5.0h-5.6zM177.3 189.5l2.8 5.0h-5.6zM184.0 167.7l2.8 5.0h-5.6zM183.8 185.9l2.8 5.0h-5.6zM187.9 85.3l2.8 5.0h-5.6zM183.9 96.8l2.8 5.0h-5.6zM180.3 117.3l2.8 5.0h-5.6zM188.6 107.3l2.8 5.0h-5.6zM187.9 85.6l2.8 5.0h-5.6zM190.9 116.6l2.8 5.0h-5.6zM183.0 190.9l2.8 5.0h-5.6zM185.2 185.8l2.8 5.0h-5.6zM182.8 193.8l2.8 5.0h-5.6zM189.2 133.2l2.8 5.0h-5.6zM175.0 164.5l2.8 5.0h-5.6zM193.2 93.0l2.8 5.0h-5.6zM187.9 82.2l2.8 5.0h-5.6zM181.1 137.5l2.8 5.0h-5.6zM178.9 154.1l2.8 5.0h-5.6zM189.2 123.4l2.8 5.0h-5.6zM196.5 101.7l2.8 5.0h-5.6zM195.0 84.7l2.8 5.0h-5.6zM254.0 24.2l2.8 5.0h-5.6zM247.0 34.2l2.8 5.0h-5.6zM230.0 43.2l2.8 5.0h-5.6zM240.0 44.2l2.8 5.0h-5.6zM251.0 43.2l2.8 5.0h-5.6zM225.0 65.2l2.8 5.0h-5.6zM232.0 63.2l2.8 5.0h-5.6zM244.0 63.2l2.8 5.0h-5.6zM253.0 64.2l2.8 5.0h-5.6zM221.5 87.2l2.8 5.0h-5.6zM225.4 87.2l2.8 5.0h-5.6zM230.0 85.7l2.8 5.0h-5.6zM253.0 82.6l2.8 5.0h-5.6zM224.6 106.2l2.8 5.0h-5.6zM244.6 106.2l2.8 5.0h-5.6zM257.7 110.2l2.8 5.0h-5.6zM230.0 118.7l2.8 5.0h-5.6zM234.6 119.5l2.8 5.0h-5.6zM240.3 120.2l2.8 5.0h-5.6zM252.3 121.8l2.8 5.0h-5.6zM220.0 133.2l2.8 5.0h-5.6zM243.0 133.2l2.8 5.0h-5.6zM224.6 144.9l2.8 5.0h-5.6zM230.0 144.9l2.8 5.0h-5.6zM236.2 144.9l2.8 5.0h-5.6zM251.5 142.6l2.8 5.0h-5.6zM229.2 151.8l2.8 5.0h-5.6zM237.7 161.0l2.8 5.0h-5.6zM246.0 165.7l2.8 5.0h-5.6zM248.5 166.4l2.8 5.0h-5.6zM231.0 92.2l2.8 5.0h-5.6zM236.0 94.2l2.8 5.0h-5.6zM241.0 91.2l2.8 5.0h-5.6zM247.0 97.2l2.8 5.0h-5.6zM239.0 100.2l2.8 5.0h-5.6zM234.0 99.2l2.8 5.0h-5.6zM228.0 126.2l2.8 5.0h-5.6zM233.0 130.2l2.8 5.0h-5.6zM246.0 126.2l2.8 5.0h-5.6zM234.3 79.3l2.8 5.0h-5.6zM234.2 90.1l2.8 5.0h-5.6zM241.0 80.4l2.8 5.0h-5.6zM245.1 96.9l2.8 5.0h-5.6zM233.8 88.3l2.8 5.0h-5.6zM237.8 71.8l2.8 5.0h-5.6zM231.8 86.7l2.8 5.0h-5.6zM232.7 78.8l2.8 5.0h-5.6zM239.6 87.5l2.8 5.0h-5.6zM239.5 80.9l2.8 5.0h-5.6zM248.1 89.5l2.8 5.0h-5.6zM241.2 85.3l2.8 5.0h-5.6zM245.8 78.8l2.8 5.0h-5.6zM234.7 72.0l2.8 5.0h-5.6zM460.0 50.2l2.8 5.0h-5.6zM460.0 63.2l2.8 5.0h-5.6zM458.5 81.2l2.8 5.0h-5.6zM460.0 104.2l2.8 5.0h-5.6zM457.0 107.2l2.8 5.0h-5.6zM461.0 108.2l2.8 5.0h-5.6zM544.0 35.2l2.8 5.0h-5.6zM542.0 64.2l2.8 5.0h-5.6zM524.3 52.2l2.8 5.0h-5.6zM524.2 32.6l2.8 5.0h-5.6zM522.2 41.5l2.8 5.0h-5.6zM528.4 40.6l2.8 5.0h-5.6zM521.5 39.7l2.8 5.0h-5.6zM529.4 38.1l2.8 5.0h-5.6zM525.3 47.7l2.8 5.0h-5.6zM520.5 50.7l2.8 5.0h-5.6zM523.5 44.8l2.8 5.0h-5.6zM529.1 63.3l2.8 5.0h-5.6zM519.4 58.1l2.8 5.0h-5.6zM518.9 48.9l2.8 5.0h-5.6zM517.8 58.4l2.8 5.0h-5.6zM526.7 38.5l2.8 5.0h-5.6zM526.6 42.2l2.8 5.0h-5.6zM523.1 62.7l2.8 5.0h-5.6zM525.9 35.5l2.8 5.0h-5.6zM528.0 40.0l2.8 5.0h-5.6zM525.8 35.8l2.8 5.0h-5.6zM522.9 48.2l2.8 5.0h-5.6zM514.4 94.7l2.8 5.0h-5.6zM510.3 82.6l2.8 5.0h-5.6zM510.0 77.9l2.8 5.0h-5.6zM514.6 86.7l2.8 5.0h-5.6zM509.9 80.1l2.8 5.0h-5.6zM505.9 82.8l2.8 5.0h-5.6zM518.0 106.2l2.8 5.0h-5.6zM520.7 109.0l2.8 5.0h-5.6zM516.5 110.0l2.8 5.0h-5.6zM525.6 99.1l2.8 5.0h-5.6zM523.8 99.0l2.8 5.0h-5.6zM521.0 101.2l2.8 5.0h-5.6zM528.5 115.2l2.8 5.0h-5.6zM520.7 107.8l2.8 5.0h-5.6zM529.8 111.0l2.8 5.0h-5.6zM518.6 117.7l2.8 5.0h-5.6zM518.5 109.8l2.8 5.0h-5.6zM528.5 99.2l2.8 5.0h-5.6zM522.7 109.4l2.8 5.0h-5.6zM523.3 117.1l2.8 5.0h-5.6zM523.7 100.5l2.8 5.0h-5.6zM527.4 119.7l2.8 5.0h-5.6zM481.7 193.2l2.8 5.0h-5.6zM475.4 72.4l2.8 5.0h-5.6zM493.6 186.2l2.8 5.0h-5.6zM485.0 91.1l2.8 5.0h-5.6zM491.6 121.1l2.8 5.0h-5.6zM473.4 168.1l2.8 5.0h-5.6zM483.3 189.8l2.8 5.0h-5.6zM489.1 93.9l2.8 5.0h-5.6zM484.5 124.0l2.8 5.0h-5.6zM473.3 151.9l2.8 5.0h-5.6zM477.6 122.2l2.8 5.0h-5.6zM484.3 69.2l2.8 5.0h-5.6zM486.1 65.5l2.8 5.0h-5.6zM486.9 165.2l2.8 5.0h-5.6zM489.4 146.7l2.8 5.0h-5.6zM484.3 181.5l2.8 5.0h-5.6zM481.8 81.1l2.8 5.0h-5.6zM484.0 182.9l2.8 5.0h-5.6zM475.6 108.2l2.8 5.0h-5.6zM496.2 73.4l2.8 5.0h-5.6zM488.3 168.1l2.8 5.0h-5.6zM484.2 106.9l2.8 5.0h-5.6zM479.3 87.6l2.8 5.0h-5.6zM472.1 154.1l2.8 5.0h-5.6zM487.6 129.3l2.8 5.0h-5.6zM475.5 66.4l2.8 5.0h-5.6zM497.1 162.3l2.8 5.0h-5.6zM478.9 96.6l2.8 5.0h-5.6zM487.9 119.7l2.8 5.0h-5.6zM486.1 122.3l2.8 5.0h-5.6zM502.8 138.3l2.8 5.0h-5.6zM476.0 154.9l2.8 5.0h-5.6zM490.7 76.6l2.8 5.0h-5.6zM492.2 153.3l2.8 5.0h-5.6zM476.7 89.7l2.8 5.0h-5.6zM476.3 152.0l2.8 5.0h-5.6zM493.4 106.5l2.8 5.0h-5.6zM471.7 126.8l2.8 5.0h-5.6zM491.3 175.1l2.8 5.0h-5.6zM481.1 69.1l2.8 5.0h-5.6zM470.8 70.3l2.8 5.0h-5.6zM489.7 181.4l2.8 5.0h-5.6zM472.8 129.8l2.8 5.0h-5.6zM474.5 92.7l2.8 5.0h-5.6zM479.6 68.0l2.8 5.0h-5.6zM490.4 107.4l2.8 5.0h-5.6zM472.4 117.7l2.8 5.0h-5.6zM474.2 181.2l2.8 5.0h-5.6zM486.0 66.3l2.8 5.0h-5.6zM477.9 119.8l2.8 5.0h-5.6zM479.3 195.4l2.8 5.0h-5.6zM492.2 175.7l2.8 5.0h-5.6zM483.9 178.0l2.8 5.0h-5.6zM482.9 128.3l2.8 5.0h-5.6zM480.3 74.6l2.8 5.0h-5.6zM500.7 104.1l2.8 5.0h-5.6zM483.5 146.6l2.8 5.0h-5.6zM484.5 191.6l2.8 5.0h-5.6zM473.2 132.9l2.8 5.0h-5.6zM487.8 74.5l2.8 5.0h-5.6zM485.0 128.9l2.8 5.0h-5.6zM470.6 129.8l2.8 5.0h-5.6zM484.2 160.7l2.8 5.0h-5.6zM493.7 165.5l2.8 5.0h-5.6zM489.5 102.6l2.8 5.0h-5.6zM490.2 118.5l2.8 5.0h-5.6zM470.6 152.1l2.8 5.0h-5.6zM501.0 125.7l2.8 5.0h-5.6zM485.4 109.0l2.8 5.0h-5.6zM487.2 75.3l2.8 5.0h-5.6zM471.4 143.3l2.8 5.0h-5.6zM477.8 102.9l2.8 5.0h-5.6zM481.2 173.5l2.8 5.0h-5.6zM490.9 181.8l2.8 5.0h-5.6zM483.9 150.9l2.8 5.0h-5.6zM487.4 181.3l2.8 5.0h-5.6zM474.5 140.1l2.8 5.0h-5.6zM479.5 161.0l2.8 5.0h-5.6zM475.8 183.9l2.8 5.0h-5.6zM491.4 100.6l2.8 5.0h-5.6zM491.1 81.3l2.8 5.0h-5.6zM493.3 156.6l2.8 5.0h-5.6zM499.1 94.4l2.8 5.0h-5.6zM478.0 83.6l2.8 5.0h-5.6zM494.5 160.9l2.8 5.0h-5.6zM490.8 162.6l2.8 5.0h-5.6zM486.9 194.4l2.8 5.0h-5.6zM474.6 144.8l2.8 5.0h-5.6zM491.8 170.7l2.8 5.0h-5.6zM482.0 74.9l2.8 5.0h-5.6zM494.0 181.7l2.8 5.0h-5.6zM483.5 82.1l2.8 5.0h-5.6zM494.7 176.0l2.8 5.0h-5.6zM482.1 100.5l2.8 5.0h-5.6zM498.1 133.0l2.8 5.0h-5.6zM473.0 68.3l2.8 5.0h-5.6zM472.0 175.2l2.8 5.0h-5.6zM488.1 174.8l2.8 5.0h-5.6zM480.0 162.8l2.8 5.0h-5.6zM479.7 70.9l2.8 5.0h-5.6zM485.9 187.8l2.8 5.0h-5.6zM488.4 66.7l2.8 5.0h-5.6zM483.2 177.2l2.8 5.0h-5.6zM484.3 163.3l2.8 5.0h-5.6zM474.8 175.0l2.8 5.0h-5.6zM477.4 181.9l2.8 5.0h-5.6zM498.9 103.0l2.8 5.0h-5.6zM491.9 68.6l2.8 5.0h-5.6zM498.8 96.3l2.8 5.0h-5.6zM483.8 85.9l2.8 5.0h-5.6zM491.9 141.0l2.8 5.0h-5.6zM479.1 189.8l2.8 5.0h-5.6zM479.6 160.8l2.8 5.0h-5.6zM486.7 157.6l2.8 5.0h-5.6zM482.3 149.9l2.8 5.0h-5.6zM483.1 125.0l2.8 5.0h-5.6zM485.7 87.4l2.8 5.0h-5.6zM478.3 118.0l2.8 5.0h-5.6zM490.0 164.5l2.8 5.0h-5.6zM483.8 171.5l2.8 5.0h-5.6zM481.1 95.1l2.8 5.0h-5.6zM484.2 107.4l2.8 5.0h-5.6zM480.1 182.5l2.8 5.0h-5.6zM484.4 133.7l2.8 5.0h-5.6zM479.5 152.2l2.8 5.0h-5.6zM485.0 106.7l2.8 5.0h-5.6zM482.8 122.3l2.8 5.0h-5.6zM483.6 176.2l2.8 5.0h-5.6zM478.9 130.0l2.8 5.0h-5.6zM481.0 131.9l2.8 5.0h-5.6zM485.1 178.9l2.8 5.0h-5.6zM476.5 151.8l2.8 5.0h-5.6zM483.8 91.9l2.8 5.0h-5.6zM480.8 138.1l2.8 5.0h-5.6zM485.6 160.2l2.8 5.0h-5.6zM483.7 105.6l2.8 5.0h-5.6zM487.0 174.6l2.8 5.0h-5.6zM487.0 153.8l2.8 5.0h-5.6zM480.8 94.2l2.8 5.0h-5.6zM479.3 129.1l2.8 5.0h-5.6zM485.6 174.1l2.8 5.0h-5.6zM486.1 168.1l2.8 5.0h-5.6zM478.6 151.7l2.8 5.0h-5.6zM481.7 138.7l2.8 5.0h-5.6zM482.1 170.6l2.8 5.0h-5.6zM491.6 138.4l2.8 5.0h-5.6zM484.6 130.9l2.8 5.0h-5.6zM487.9 163.1l2.8 5.0h-5.6zM490.6 95.1l2.8 5.0h-5.6zM480.6 118.4l2.8 5.0h-5.6zM485.6 156.0l2.8 5.0h-5.6zM480.8 131.6l2.8 5.0h-5.6zM483.3 118.2l2.8 5.0h-5.6zM490.0 166.5l2.8 5.0h-5.6zM483.1 146.2l2.8 5.0h-5.6zM489.1 152.3l2.8 5.0h-5.6zM488.2 120.5l2.8 5.0h-5.6zM479.5 163.5l2.8 5.0h-5.6zM488.9 139.9l2.8 5.0h-5.6zM479.3 91.2l2.8 5.0h-5.6zM482.9 108.3l2.8 5.0h-5.6zM479.7 181.5l2.8 5.0h-5.6zM478.0 163.5l2.8 5.0h-5.6zM482.0 95.1l2.8 5.0h-5.6zM479.2 165.2l2.8 5.0h-5.6zM480.4 119.9l2.8 5.0h-5.6zM486.6 93.6l2.8 5.0h-5.6zM485.4 128.3l2.8 5.0h-5.6zM482.4 190.5l2.8 5.0h-5.6zM491.3 102.2l2.8 5.0h-5.6zM483.3 181.6l2.8 5.0h-5.6zM489.8 161.7l2.8 5.0h-5.6zM481.9 92.2l2.8 5.0h-5.6zM485.1 114.5l2.8 5.0h-5.6zM484.3 144.6l2.8 5.0h-5.6zM481.8 119.3l2.8 5.0h-5.6zM484.5 131.3l2.8 5.0h-5.6zM482.4 138.6l2.8 5.0h-5.6zM486.5 107.5l2.8 5.0h-5.6zM484.9 136.3l2.8 5.0h-5.6zM483.8 183.7l2.8 5.0h-5.6zM487.6 146.8l2.8 5.0h-5.6zM486.9 159.3l2.8 5.0h-5.6zM485.2 138.5l2.8 5.0h-5.6zM486.1 149.2l2.8 5.0h-5.6zM486.5 135.4l2.8 5.0h-5.6zM483.9 168.4l2.8 5.0h-5.6zM483.1 158.8l2.8 5.0h-5.6zM488.7 171.0l2.8 5.0h-5.6zM481.6 115.7l2.8 5.0h-5.6zM487.6 182.3l2.8 5.0h-5.6zM486.9 87.6l2.8 5.0h-5.6zM480.7 105.9l2.8 5.0h-5.6zM484.3 115.7l2.8 5.0h-5.6zM484.9 188.3l2.8 5.0h-5.6zM485.4 129.4l2.8 5.0h-5.6zM488.2 180.7l2.8 5.0h-5.6zM484.3 183.7l2.8 5.0h-5.6zM484.0 189.1l2.8 5.0h-5.6zM490.1 109.7l2.8 5.0h-5.6zM485.3 113.3l2.8 5.0h-5.6zM482.2 154.4l2.8 5.0h-5.6zM480.3 187.3l2.8 5.0h-5.6zM482.8 153.5l2.8 5.0h-5.6zM484.6 130.9l2.8 5.0h-5.6zM483.3 138.6l2.8 5.0h-5.6zM478.7 173.1l2.8 5.0h-5.6zM478.8 151.9l2.8 5.0h-5.6zM485.9 138.6l2.8 5.0h-5.6zM484.0 112.8l2.8 5.0h-5.6zM479.5 111.7l2.8 5.0h-5.6zM482.5 141.2l2.8 5.0h-5.6zM486.6 138.1l2.8 5.0h-5.6zM484.0 91.4l2.8 5.0h-5.6zM479.8 140.6l2.8 5.0h-5.6zM479.3 122.0l2.8 5.0h-5.6zM488.3 137.1l2.8 5.0h-5.6zM485.6 187.2l2.8 5.0h-5.6zM481.9 101.1l2.8 5.0h-5.6zM478.6 147.5l2.8 5.0h-5.6zM484.3 136.4l2.8 5.0h-5.6zM479.2 167.9l2.8 5.0h-5.6zM481.5 137.5l2.8 5.0h-5.6zM485.6 189.1l2.8 5.0h-5.6zM484.3 188.6l2.8 5.0h-5.6zM478.4 121.3l2.8 5.0h-5.6zM484.4 145.0l2.8 5.0h-5.6zM481.7 93.6l2.8 5.0h-5.6zM488.7 117.0l2.8 5.0h-5.6zM480.7 134.7l2.8 5.0h-5.6zM484.2 172.4l2.8 5.0h-5.6zM480.6 104.2l2.8 5.0h-5.6zM483.5 147.4l2.8 5.0h-5.6zM486.7 92.0l2.8 5.0h-5.6zM476.2 175.7l2.8 5.0h-5.6zM488.5 141.6l2.8 5.0h-5.6zM485.8 155.9l2.8 5.0h-5.6zM485.4 129.1l2.8 5.0h-5.6zM481.6 114.2l2.8 5.0h-5.6zM477.3 177.5l2.8 5.0h-5.6zM483.7 153.2l2.8 5.0h-5.6zM486.9 137.3l2.8 5.0h-5.6zM486.4 131.7l2.8 5.0h-5.6zM485.1 190.7l2.8 5.0h-5.6zM486.7 176.0l2.8 5.0h-5.6zM484.3 99.8l2.8 5.0h-5.6zM486.8 168.4l2.8 5.0h-5.6zM486.4 139.1l2.8 5.0h-5.6zM485.3 94.3l2.8 5.0h-5.6zM484.1 124.1l2.8 5.0h-5.6zM481.5 142.4l2.8 5.0h-5.6zM478.6 99.9l2.8 5.0h-5.6zM477.6 109.7l2.8 5.0h-5.6zM488.0 95.1l2.8 5.0h-5.6zM485.0 155.4l2.8 5.0h-5.6zM488.1 128.9l2.8 5.0h-5.6zM486.2 100.5l2.8 5.0h-5.6zM480.6 135.5l2.8 5.0h-5.6zM487.0 107.6l2.8 5.0h-5.6zM479.7 163.5l2.8 5.0h-5.6zM482.6 165.2l2.8 5.0h-5.6zM482.1 186.2l2.8 5.0h-5.6zM477.4 158.4l2.8 5.0h-5.6zM485.0 86.0l2.8 5.0h-5.6zM484.6 90.9l2.8 5.0h-5.6zM482.7 92.4l2.8 5.0h-5.6zM478.7 140.6l2.8 5.0h-5.6zM485.1 117.0l2.8 5.0h-5.6zM480.9 119.8l2.8 5.0h-5.6zM477.0 103.9l2.8 5.0h-5.6zM476.6 145.7l2.8 5.0h-5.6zM489.5 161.1l2.8 5.0h-5.6zM485.5 182.5l2.8 5.0h-5.6zM486.9 156.8l2.8 5.0h-5.6zM487.4 178.8l2.8 5.0h-5.6zM484.8 97.7l2.8 5.0h-5.6zM481.2 169.7l2.8 5.0h-5.6zM488.9 172.7l2.8 5.0h-5.6zM487.7 183.1l2.8 5.0h-5.6zM486.3 108.3l2.8 5.0h-5.6zM488.0 69.2l2.8 5.0h-5.6zM490.0 73.2l2.8 5.0h-5.6zM487.0 77.2l2.8 5.0h-5.6zM492.0 79.2l2.8 5.0h-5.6z" fill="none" stroke="#000" stroke-width="1.25"/>
<path d="M153.0 372.0h6.0M156.0 369.0v6.0M184.9 368.0h6.0M187.9 365.0v6.0M184.4 371.2h6.0M187.4 368.2v6.0M184.6 373.5h6.0M187.6 370.5v6.0M184.4 375.7h6.0M187.4 372.7v6.0M184.7 377.8h6.0M187.7 374.8v6.0M184.6 379.4h6.0M187.6 376.4v6.0M184.3 381.8h6.0M187.3 378.8v6.0M184.7 383.9h6.0M187.7 380.9v6.0M184.3 386.5h6.0M187.3 383.5v6.0M184.8 389.9h6.0M187.8 386.9v6.0M184.4 393.4h6.0M187.4 390.4v6.0M184.3 395.4h6.0M187.3 392.4v6.0M215.9 380.5h6.0M218.9 377.5v6.0M216.1 381.3h6.0M219.1 378.3v6.0M216.1 382.0h6.0M219.1 379.0v6.0M216.5 382.9h6.0M219.5 379.9v6.0M215.9 383.9h6.0M218.9 380.9v6.0M216.0 385.3h6.0M219.0 382.3v6.0M216.1 386.1h6.0M219.1 383.1v6.0M216.1 386.9h6.0M219.1 383.9v6.0M216.0 388.1h6.0M219.0 385.1v6.0M216.0 389.5h6.0M219.0 386.5v6.0M216.0 390.8h6.0M219.0 387.8v6.0M216.1 392.0h6.0M219.1 389.0v6.0M216.3 392.9h6.0M219.3 389.9v6.0M216.5 393.7h6.0M219.5 390.7v6.0M216.0 395.1h6.0M219.0 392.1v6.0M216.4 396.5h6.0M219.4 393.5v6.0M216.4 397.7h6.0M219.4 394.7v6.0M216.2 399.0h6.0M219.2 396.0v6.0M216.3 399.9h6.0M219.3 396.9v6.0M216.4 400.7h6.0M219.4 397.7v6.0M216.2 402.0h6.0M219.2 399.0v6.0M216.3 403.0h6.0M219.3 400.0v6.0M216.4 404.1h6.0M219.4 401.1v6.0M216.2 405.5h6.0M219.2 402.5v6.0M215.9 406.8h6.0M218.9 403.8v6.0M216.4 408.1h6.0M219.4 405.1v6.0M216.5 409.4h6.0M219.5 406.4v6.0M216.0 410.6h6.0M219.0 407.6v6.0M216.3 411.3h6.0M219.3 408.3v6.0M216.1 412.8h6.0M219.1 409.8v6.0M215.9 413.9h6.0M218.9 410.9v6.0M216.2 414.5h6.0M219.2 411.5v6.0M216.1 415.4h6.0M219.1 412.4v6.0M215.9 416.5h6.0M218.9 413.5v6.0M216.4 418.0h6.0M219.4 415.0v6.0M216.2 418.7h6.0M219.2 415.7v6.0M216.2 420.0h6.0M219.2 417.0v6.0M216.4 421.4h6.0M219.4 418.4v6.0M216.4 422.3h6.0M219.4 419.3v6.0M216.3 423.1h6.0M219.3 420.1v6.0M216.4 424.2h6.0M219.4 421.2v6.0M216.4 424.9h6.0M219.4 421.9v6.0M215.9 425.8h6.0M218.9 422.8v6.0M216.0 427.0h6.0M219.0 424.0v6.0M248.0 388.3h6.0M251.0 385.3v6.0M248.1 389.6h6.0M251.1 386.6v6.0M247.6 390.4h6.0M250.6 387.4v6.0M247.8 391.1h6.0M250.8 388.1v6.0M248.1 392.3h6.0M251.1 389.3v6.0M247.9 393.4h6.0M250.9 390.4v6.0M247.8 394.6h6.0M250.8 391.6v6.0M247.5 395.7h6.0M250.5 392.7v6.0M247.6 396.9h6.0M250.6 393.9v6.0M247.9 398.2h6.0M250.9 395.2v6.0M247.6 399.1h6.0M250.6 396.1v6.0M247.9 399.9h6.0M250.9 396.9v6.0M247.6 401.0h6.0M250.6 398.0v6.0M247.8 401.7h6.0M250.8 398.7v6.0M247.7 402.8h6.0M250.7 399.8v6.0M247.9 403.5h6.0M250.9 400.5v6.0M247.7 404.2h6.0M250.7 401.2v6.0M248.1 405.1h6.0M251.1 402.1v6.0M248.0 406.2h6.0M251.0 403.2v6.0M247.6 407.2h6.0M250.6 404.2v6.0M248.1 408.0h6.0M251.1 405.0v6.0M247.7 409.2h6.0M250.7 406.2v6.0M247.8 409.8h6.0M250.8 406.8v6.0M247.8 410.9h6.0M250.8 407.9v6.0M247.9 411.7h6.0M250.9 408.7v6.0M247.6 413.1h6.0M250.6 410.1v6.0M247.7 413.7h6.0M250.7 410.7v6.0M247.9 414.7h6.0M250.9 411.7v6.0M248.0 415.4h6.0M251.0 412.4v6.0M247.8 416.6h6.0M250.8 413.6v6.0M248.1 417.4h6.0M251.1 414.4v6.0M248.0 418.2h6.0M251.0 415.2v6.0M247.6 419.0h6.0M250.6 416.0v6.0M247.7 420.2h6.0M250.7 417.2v6.0M247.8 421.6h6.0M250.8 418.6v6.0M247.6 422.3h6.0M250.6 419.3v6.0M247.9 423.3h6.0M250.9 420.3v6.0M247.6 424.6h6.0M250.6 421.6v6.0M247.6 425.5h6.0M250.6 422.5v6.0M247.6 426.9h6.0M250.6 423.9v6.0M247.5 427.5h6.0M250.5 424.5v6.0M248.0 428.5h6.0M251.0 425.5v6.0M247.9 429.8h6.0M250.9 426.8v6.0M248.1 431.2h6.0M251.1 428.2v6.0M247.6 432.0h6.0M250.6 429.0v6.0M247.9 433.4h6.0M250.9 430.4v6.0M247.9 434.0h6.0M250.9 431.0v6.0M247.7 434.9h6.0M250.7 431.9v6.0M247.6 435.8h6.0M250.6 432.8v6.0M247.7 436.4h6.0M250.7 433.4v6.0M248.1 437.3h6.0M251.1 434.3v6.0M248.1 438.0h6.0M251.1 435.0v6.0M247.7 438.7h6.0M250.7 435.7v6.0M248.0 440.0h6.0M251.0 437.0v6.0M247.5 440.9h6.0M250.5 437.9v6.0M247.7 441.9h6.0M250.7 438.9v6.0M247.6 443.2h6.0M250.6 440.2v6.0M248.0 444.1h6.0M251.0 441.1v6.0M247.7 444.8h6.0M250.7 441.8v6.0M248.0 446.0h6.0M251.0 443.0v6.0M247.5 446.6h6.0M250.5 443.6v6.0M248.1 447.3h6.0M251.1 444.3v6.0M247.9 448.1h6.0M250.9 445.1v6.0M247.7 449.4h6.0M250.7 446.4v6.0M248.1 450.2h6.0M251.1 447.2v6.0M247.7 451.3h6.0M250.7 448.3v6.0M247.7 452.5h6.0M250.7 449.5v6.0M247.5 453.3h6.0M250.5 450.3v6.0M248.0 454.5h6.0M251.0 451.5v6.0M248.1 455.6h6.0M251.1 452.6v6.0M247.6 456.2h6.0M250.6 453.2v6.0M248.1 457.2h6.0M251.1 454.2v6.0M247.7 458.6h6.0M250.7 455.6v6.0M247.8 459.4h6.0M250.8 456.4v6.0M248.1 460.4h6.0M251.1 457.4v6.0M248.0 461.1h6.0M251.0 458.1v6.0M248.0 462.3h6.0M251.0 459.3v6.0M247.9 463.5h6.0M250.9 460.5v6.0M247.7 464.4h6.0M250.7 461.4v6.0M248.0 465.3h6.0M251.0 462.3v6.0M247.6 466.0h6.0M250.6 463.0v6.0M247.6 467.2h6.0M250.6 464.2v6.0M247.5 467.8h6.0M250.5 464.8v6.0M247.7 468.9h6.0M250.7 465.9v6.0M248.0 470.2h6.0M251.0 467.2v6.0M247.7 471.6h6.0M250.7 468.6v6.0M247.6 472.3h6.0M250.6 469.3v6.0M279.2 389.0h6.0M282.2 386.0v6.0M279.3 389.9h6.0M282.3 386.9v6.0M279.2 390.9h6.0M282.2 387.9v6.0M279.7 391.5h6.0M282.7 388.5v6.0M279.4 392.5h6.0M282.4 389.5v6.0M279.6 393.6h6.0M282.6 390.6v6.0M279.6 394.9h6.0M282.6 391.9v6.0M279.1 395.8h6.0M282.1 392.8v6.0M279.3 396.7h6.0M282.3 393.7v6.0M279.4 397.9h6.0M282.4 394.9v6.0M279.1 399.0h6.0M282.1 396.0v6.0M279.7 399.7h6.0M282.7 396.7v6.0M279.5 400.6h6.0M282.5 397.6v6.0M279.6 401.2h6.0M282.6 398.2v6.0M279.5 402.6h6.0M282.5 399.6v6.0M279.1 403.8h6.0M282.1 400.8v6.0M279.5 404.4h6.0M282.5 401.4v6.0M279.2 405.6h6.0M282.2 402.6v6.0M279.6 406.3h6.0M282.6 403.3v6.0M279.6 407.1h6.0M282.6 404.1v6.0M279.5 408.4h6.0M282.5 405.4v6.0M279.2 409.5h6.0M282.2 406.5v6.0M279.5 410.8h6.0M282.5 407.8v6.0M279.3 411.6h6.0M282.3 408.6v6.0M279.6 412.7h6.0M282.6 409.7v6.0M279.3 413.7h6.0M282.3 410.7v6.0M279.4 415.0h6.0M282.4 412.0v6.0M279.5 416.1h6.0M282.5 413.1v6.0M279.3 416.9h6.0M282.3 413.9v6.0M279.3 417.7h6.0M282.3 414.7v6.0M279.3 418.8h6.0M282.3 415.8v6.0M279.3 419.6h6.0M282.3 416.6v6.0M279.3 420.9h6.0M282.3 417.9v6.0M279.1 422.1h6.0M282.1 419.1v6.0M279.7 423.4h6.0M282.7 420.4v6.0M279.4 424.3h6.0M282.4 421.3v6.0M279.6 425.5h6.0M282.6 422.5v6.0M279.4 426.3h6.0M282.4 423.3v6.0M279.5 427.6h6.0M282.5 424.6v6.0M279.3 428.5h6.0M282.3 425.5v6.0M279.2 429.4h6.0M282.2 426.4v6.0M279.1 430.2h6.0M282.1 427.2v6.0M279.5 431.0h6.0M282.5 428.0v6.0M279.3 432.4h6.0M282.3 429.4v6.0M279.3 433.4h6.0M282.3 430.4v6.0M279.6 434.8h6.0M282.6 431.8v6.0M279.6 436.1h6.0M282.6 433.1v6.0M279.5 437.3h6.0M282.5 434.3v6.0M279.3 438.1h6.0M282.3 435.1v6.0M279.4 439.2h6.0M282.4 436.2v6.0M279.1 440.1h6.0M282.1 437.1v6.0M279.5 441.1h6.0M282.5 438.1v6.0M279.1 441.7h6.0M282.1 438.7v6.0M279.3 442.7h6.0M282.3 439.7v6.0M279.4 443.8h6.0M282.4 440.8v6.0M279.3 444.7h6.0M282.3 441.7v6.0M279.3 445.4h6.0M282.3 442.4v6.0M279.2 446.7h6.0M282.2 443.7v6.0M279.6 447.3h6.0M282.6 444.3v6.0M279.4 448.4h6.0M282.4 445.4v6.0M279.2 449.1h6.0M282.2 446.1v6.0M279.3 450.2h6.0M282.3 447.2v6.0M279.7 451.5h6.0M282.7 448.5v6.0M279.6 452.1h6.0M282.6 449.1v6.0M279.5 453.4h6.0M282.5 450.4v6.0M279.5 454.5h6.0M282.5 451.5v6.0M279.4 455.5h6.0M282.4 452.5v6.0M279.1 456.2h6.0M282.1 453.2v6.0M279.1 456.9h6.0M282.1 453.9v6.0M279.2 457.6h6.0M282.2 454.6v6.0M279.2 459.0h6.0M282.2 456.0v6.0M279.5 460.1h6.0M282.5 457.1v6.0M279.3 460.8h6.0M282.3 457.8v6.0M279.5 461.8h6.0M282.5 458.8v6.0M279.3 462.9h6.0M282.3 459.9v6.0M279.4 464.0h6.0M282.4 461.0v6.0M279.5 464.7h6.0M282.5 461.7v6.0M279.5 466.1h6.0M282.5 463.1v6.0M279.4 467.1h6.0M282.4 464.1v6.0M279.4 468.0h6.0M282.4 465.0v6.0M279.1 469.3h6.0M282.1 466.3v6.0M279.2 470.4h6.0M282.2 467.4v6.0M311.3 377.5h6.0M314.3 374.5v6.0M311.0 379.0h6.0M314.0 376.0v6.0M310.8 380.5h6.0M313.8 377.5v6.0M310.9 382.0h6.0M313.9 379.0v6.0M310.8 384.0h6.0M313.8 381.0v6.0M311.3 386.0h6.0M314.3 383.0v6.0M311.2 388.0h6.0M314.2 385.0v6.0M311.1 390.0h6.0M314.1 387.0v6.0M311.0 392.0h6.0M314.0 389.0v6.0M311.1 394.5h6.0M314.1 391.5v6.0M310.9 397.0h6.0M313.9 394.0v6.0M310.9 400.0h6.0M313.9 397.0v6.0M311.0 404.0h6.0M314.0 401.0v6.0M311.0 409.0h6.0M314.0 406.0v6.0M310.8 413.0h6.0M313.8 410.0v6.0M311.3 416.0h6.0M314.3 413.0v6.0M311.1 418.0h6.0M314.1 415.0v6.0M311.3 421.0h6.0M314.3 418.0v6.0M310.8 424.0h6.0M313.8 421.0v6.0M311.1 428.0h6.0M314.1 425.0v6.0M311.1 431.0h6.0M314.1 428.0v6.0M311.1 433.0h6.0M314.1 430.0v6.0M310.7 436.0h6.0M313.7 433.0v6.0M311.0 440.0h6.0M314.0 437.0v6.0M311.0 444.0h6.0M314.0 441.0v6.0M311.2 447.0h6.0M314.2 444.0v6.0M311.0 451.0h6.0M314.0 448.0v6.0M311.0 455.0h6.0M314.0 452.0v6.0M310.9 459.0h6.0M313.9 456.0v6.0M311.0 462.0h6.0M314.0 459.0v6.0M311.1 465.0h6.0M314.1 462.0v6.0M454.2 389.6h6.0M457.2 386.6v6.0M454.1 392.2h6.0M457.1 389.2v6.0M454.2 394.6h6.0M457.2 391.6v6.0M454.1 397.1h6.0M457.1 394.1v6.0M454.1 400.0h6.0M457.1 397.0v6.0M453.8 402.3h6.0M456.8 399.3v6.0M453.8 412.7h6.0M456.8 409.7v6.0M454.0 414.0h6.0M457.0 411.0v6.0M454.2 414.6h6.0M457.2 411.6v6.0M454.1 415.6h6.0M457.1 412.6v6.0M454.2 416.9h6.0M457.2 413.9v6.0M453.7 417.8h6.0M456.7 414.8v6.0M454.2 419.0h6.0M457.2 416.0v6.0M453.9 419.7h6.0M456.9 416.7v6.0M454.1 420.5h6.0M457.1 417.5v6.0M453.8 421.9h6.0M456.8 418.9v6.0M454.2 422.7h6.0M457.2 419.7v6.0M453.8 423.7h6.0M456.8 420.7v6.0M453.7 424.7h6.0M456.7 421.7v6.0M453.9 425.9h6.0M456.9 422.9v6.0M454.1 426.8h6.0M457.1 423.8v6.0M454.3 427.8h6.0M457.3 424.8v6.0M454.0 428.5h6.0M457.0 425.5v6.0M454.1 429.8h6.0M457.1 426.8v6.0M454.1 430.9h6.0M457.1 427.9v6.0M453.9 431.7h6.0M456.9 428.7v6.0M453.7 432.4h6.0M456.7 429.4v6.0M454.1 433.7h6.0M457.1 430.7v6.0M454.0 434.9h6.0M457.0 431.9v6.0M453.9 435.6h6.0M456.9 432.6v6.0M454.3 436.5h6.0M457.3 433.5v6.0M454.3 437.8h6.0M457.3 434.8v6.0M454.0 439.2h6.0M457.0 436.2v6.0M454.3 439.9h6.0M457.3 436.9v6.0M454.2 440.6h6.0M457.2 437.6v6.0M454.1 441.4h6.0M457.1 438.4v6.0M454.2 442.5h6.0M457.2 439.5v6.0M454.1 443.3h6.0M457.1 440.3v6.0M454.2 444.5h6.0M457.2 441.5v6.0M454.3 445.4h6.0M457.3 442.4v6.0M454.1 446.7h6.0M457.1 443.7v6.0M454.0 447.9h6.0M457.0 444.9v6.0M453.8 449.1h6.0M456.8 446.1v6.0M454.1 450.3h6.0M457.1 447.3v6.0M454.1 451.7h6.0M457.1 448.7v6.0M454.2 452.6h6.0M457.2 449.6v6.0M453.9 453.9h6.0M456.9 450.9v6.0M453.9 455.0h6.0M456.9 452.0v6.0M454.1 456.0h6.0M457.1 453.0v6.0M454.2 456.7h6.0M457.2 453.7v6.0M453.9 457.4h6.0M456.9 454.4v6.0M453.8 458.3h6.0M456.8 455.3v6.0M453.9 459.3h6.0M456.9 456.3v6.0M454.0 460.7h6.0M457.0 457.7v6.0M454.0 461.6h6.0M457.0 458.6v6.0M453.8 462.7h6.0M456.8 459.7v6.0M453.9 463.4h6.0M456.9 460.4v6.0M454.0 464.4h6.0M457.0 461.4v6.0M453.8 465.7h6.0M456.8 462.7v6.0M454.2 466.7h6.0M457.2 463.7v6.0M453.9 467.5h6.0M456.9 464.5v6.0M454.1 468.5h6.0M457.1 465.5v6.0M454.3 469.6h6.0M457.3 466.6v6.0M454.2 470.3h6.0M457.2 467.3v6.0M454.1 471.3h6.0M457.1 468.3v6.0M454.0 472.2h6.0M457.0 469.2v6.0M453.7 473.0h6.0M456.7 470.0v6.0M454.1 474.2h6.0M457.1 471.2v6.0M510.7 340.5h6.0M513.7 337.5v6.0M510.7 341.8h6.0M513.7 338.8v6.0M510.7 342.8h6.0M513.7 339.8v6.0M510.8 351.5h6.0M513.8 348.5v6.0M511.1 352.4h6.0M514.1 349.4v6.0M510.7 353.7h6.0M513.7 350.7v6.0M510.8 354.4h6.0M513.8 351.4v6.0M510.6 355.1h6.0M513.6 352.1v6.0M510.6 356.3h6.0M513.6 353.3v6.0M510.6 357.7h6.0M513.6 354.7v6.0M510.7 359.1h6.0M513.7 356.1v6.0M510.7 360.1h6.0M513.7 357.1v6.0M510.7 361.2h6.0M513.7 358.2v6.0M510.5 361.9h6.0M513.5 358.9v6.0M510.8 363.1h6.0M513.8 360.1v6.0M510.5 364.3h6.0M513.5 361.3v6.0M510.8 365.3h6.0M513.8 362.3v6.0M510.6 366.2h6.0M513.6 363.2v6.0M510.9 367.4h6.0M513.9 364.4v6.0M510.5 368.7h6.0M513.5 365.7v6.0M510.9 369.3h6.0M513.9 366.3v6.0M510.6 370.4h6.0M513.6 367.4v6.0M511.0 371.5h6.0M514.0 368.5v6.0M510.6 372.5h6.0M513.6 369.5v6.0M510.5 373.8h6.0M513.5 370.8v6.0M510.6 375.1h6.0M513.6 372.1v6.0M510.9 376.0h6.0M513.9 373.0v6.0M510.6 377.2h6.0M513.6 374.2v6.0M510.5 377.9h6.0M513.5 374.9v6.0M510.8 378.9h6.0M513.8 375.9v6.0M510.8 380.3h6.0M513.8 377.3v6.0M511.0 381.3h6.0M514.0 378.3v6.0M510.8 382.5h6.0M513.8 379.5v6.0M510.7 383.7h6.0M513.7 380.7v6.0M510.9 384.3h6.0M513.9 381.3v6.0M511.1 385.4h6.0M514.1 382.4v6.0M510.6 386.5h6.0M513.6 383.5v6.0M510.8 387.7h6.0M513.8 384.7v6.0M510.8 388.4h6.0M513.8 385.4v6.0M510.9 389.7h6.0M513.9 386.7v6.0M510.5 390.7h6.0M513.5 387.7v6.0M511.1 391.8h6.0M514.1 388.8v6.0M510.6 393.1h6.0M513.6 390.1v6.0M510.8 393.8h6.0M513.8 390.8v6.0M510.8 394.6h6.0M513.8 391.6v6.0M510.9 395.6h6.0M513.9 392.6v6.0M510.7 396.9h6.0M513.7 393.9v6.0M510.9 398.1h6.0M513.9 395.1v6.0M511.0 398.8h6.0M514.0 395.8v6.0M510.8 399.6h6.0M513.8 396.6v6.0M510.9 400.6h6.0M513.9 397.6v6.0M511.0 401.9h6.0M514.0 398.9v6.0M510.5 402.6h6.0M513.5 399.6v6.0M511.0 403.2h6.0M514.0 400.2v6.0M510.9 404.4h6.0M513.9 401.4v6.0M510.7 405.3h6.0M513.7 402.3v6.0M511.1 406.4h6.0M514.1 403.4v6.0M510.9 407.6h6.0M513.9 404.6v6.0M511.1 408.5h6.0M514.1 405.5v6.0M510.8 409.7h6.0M513.8 406.7v6.0M511.1 410.4h6.0M514.1 407.4v6.0M511.1 411.1h6.0M514.1 408.1v6.0M511.0 411.8h6.0M514.0 408.8v6.0M511.0 412.8h6.0M514.0 409.8v6.0M510.7 413.8h6.0M513.7 410.8v6.0M510.7 415.0h6.0M513.7 412.0v6.0M510.9 415.8h6.0M513.9 412.8v6.0M511.0 416.9h6.0M514.0 413.9v6.0M511.0 418.0h6.0M514.0 415.0v6.0M510.5 419.2h6.0M513.5 416.2v6.0M511.0 419.9h6.0M514.0 416.9v6.0M511.1 421.0h6.0M514.1 418.0v6.0M567.8 360.6h6.0M570.8 357.6v6.0M567.7 362.3h6.0M570.7 359.3v6.0M567.7 364.0h6.0M570.7 361.0v6.0M567.5 364.9h6.0M570.5 361.9v6.0M567.4 365.9h6.0M570.4 362.9v6.0M567.6 367.7h6.0M570.6 364.7v6.0M567.8 368.6h6.0M570.8 365.6v6.0M567.4 369.8h6.0M570.4 366.8v6.0M567.4 371.3h6.0M570.4 368.3v6.0M567.9 373.1h6.0M570.9 370.1v6.0M567.6 373.9h6.0M570.6 370.9v6.0M567.9 374.7h6.0M570.9 371.7v6.0M567.6 375.8h6.0M570.6 372.8v6.0M567.8 377.3h6.0M570.8 374.3v6.0M567.4 384.9h6.0M570.4 381.9v6.0M567.3 385.8h6.0M570.3 382.8v6.0M567.7 386.5h6.0M570.7 383.5v6.0M567.6 387.6h6.0M570.6 384.6v6.0M567.6 388.7h6.0M570.6 385.7v6.0M567.5 389.6h6.0M570.5 386.6v6.0M567.5 390.5h6.0M570.5 387.5v6.0M567.8 391.5h6.0M570.8 388.5v6.0M567.8 392.8h6.0M570.8 389.8v6.0M567.8 393.8h6.0M570.8 390.8v6.0M567.4 395.0h6.0M570.4 392.0v6.0M567.3 396.3h6.0M570.3 393.3v6.0M567.5 397.4h6.0M570.5 394.4v6.0M567.8 398.6h6.0M570.8 395.6v6.0M567.9 399.9h6.0M570.9 396.9v6.0M567.3 400.8h6.0M570.3 397.8v6.0M567.9 401.5h6.0M570.9 398.5v6.0M567.4 402.4h6.0M570.4 399.4v6.0M567.5 403.0h6.0M570.5 400.0v6.0M567.7 403.9h6.0M570.7 400.9v6.0M567.6 404.7h6.0M570.6 401.7v6.0M567.6 406.0h6.0M570.6 403.0v6.0M567.6 406.7h6.0M570.6 403.7v6.0M567.3 407.5h6.0M570.3 404.5v6.0M567.5 408.5h6.0M570.5 405.5v6.0M567.5 409.8h6.0M570.5 406.8v6.0M567.6 410.5h6.0M570.6 407.5v6.0M567.4 411.5h6.0M570.4 408.5v6.0M567.7 412.5h6.0M570.7 409.5v6.0M567.9 413.7h6.0M570.9 410.7v6.0M567.8 414.7h6.0M570.8 411.7v6.0M567.8 415.4h6.0M570.8 412.4v6.0M567.6 416.8h6.0M570.6 413.8v6.0M567.4 417.6h6.0M570.4 414.6v6.0M567.5 418.4h6.0M570.5 415.4v6.0M567.4 419.4h6.0M570.4 416.4v6.0M567.9 420.6h6.0M570.9 417.6v6.0M567.7 421.3h6.0M570.7 418.3v6.0M567.6 422.3h6.0M570.6 419.3v6.0M567.6 423.3h6.0M570.6 420.3v6.0M567.9 424.5h6.0M570.9 421.5v6.0M567.5 425.4h6.0M570.5 422.4v6.0M567.5 426.0h6.0M570.5 423.0v6.0M567.4 426.8h6.0M570.4 423.8v6.0M567.6 428.1h6.0M570.6 425.1v6.0M567.4 428.9h6.0M570.4 425.9v6.0M567.8 430.0h6.0M570.8 427.0v6.0M567.7 431.3h6.0M570.7 428.3v6.0M567.4 432.5h6.0M570.4 429.5v6.0M567.7 433.2h6.0M570.7 430.2v6.0M567.4 434.3h6.0M570.4 431.3v6.0M567.3 435.1h6.0M570.3 432.1v6.0M567.6 436.3h6.0M570.6 433.3v6.0M567.8 437.6h6.0M570.8 434.6v6.0M567.5 438.6h6.0M570.5 435.6v6.0M567.7 439.4h6.0M570.7 436.4v6.0M567.4 440.8h6.0M570.4 437.8v6.0M567.8 441.7h6.0M570.8 438.7v6.0M567.7 442.4h6.0M570.7 439.4v6.0M567.6 443.2h6.0M570.6 440.2v6.0M567.3 444.6h6.0M570.3 441.6v6.0M567.6 445.7h6.0M570.6 442.7v6.0M567.5 447.0h6.0M570.5 444.0v6.0M624.5 327.0h6.0M627.5 324.0v6.0M624.8 328.1h6.0M627.8 325.1v6.0M624.8 329.5h6.0M627.8 326.5v6.0M624.9 330.8h6.0M627.9 327.8v6.0M624.5 331.8h6.0M627.5 328.8v6.0M624.5 343.0h6.0M627.5 340.0v6.0M624.7 343.7h6.0M627.7 340.7v6.0M624.8 344.6h6.0M627.8 341.6v6.0M624.3 345.7h6.0M627.3 342.7v6.0M624.4 346.4h6.0M627.4 343.4v6.0M624.4 347.3h6.0M627.4 344.3v6.0M624.4 348.4h6.0M627.4 345.4v6.0M624.5 349.3h6.0M627.5 346.3v6.0M624.6 350.7h6.0M627.6 347.7v6.0M624.9 351.4h6.0M627.9 348.4v6.0M624.3 352.8h6.0M627.3 349.8v6.0M624.7 354.1h6.0M627.7 351.1v6.0M624.7 355.4h6.0M627.7 352.4v6.0M624.8 356.5h6.0M627.8 353.5v6.0M624.4 357.1h6.0M627.4 354.1v6.0M624.3 357.8h6.0M627.3 354.8v6.0M624.3 358.6h6.0M627.3 355.6v6.0M624.5 359.3h6.0M627.5 356.3v6.0M624.3 360.0h6.0M627.3 357.0v6.0M624.9 361.4h6.0M627.9 358.4v6.0M624.4 362.7h6.0M627.4 359.7v6.0M624.9 363.8h6.0M627.9 360.8v6.0M624.6 364.7h6.0M627.6 361.7v6.0M624.8 366.1h6.0M627.8 363.1v6.0M624.5 367.1h6.0M627.5 364.1v6.0M624.7 368.3h6.0M627.7 365.3v6.0M624.6 369.1h6.0M627.6 366.1v6.0M624.4 370.3h6.0M627.4 367.3v6.0M624.6 371.2h6.0M627.6 368.2v6.0M624.8 372.1h6.0M627.8 369.1v6.0M624.6 372.9h6.0M627.6 369.9v6.0M624.3 374.2h6.0M627.3 371.2v6.0M624.4 375.1h6.0M627.4 372.1v6.0M624.9 376.1h6.0M627.9 373.1v6.0M624.9 377.0h6.0M627.9 374.0v6.0M624.9 377.7h6.0M627.9 374.7v6.0M624.5 378.6h6.0M627.5 375.6v6.0M624.8 379.4h6.0M627.8 376.4v6.0M624.3 380.2h6.0M627.3 377.2v6.0M624.6 380.8h6.0M627.6 377.8v6.0M624.5 381.9h6.0M627.5 378.9v6.0M624.6 383.0h6.0M627.6 380.0v6.0M624.5 384.3h6.0M627.5 381.3v6.0M624.6 385.5h6.0M627.6 382.5v6.0M624.7 386.9h6.0M627.7 383.9v6.0M624.6 388.2h6.0M627.6 385.2v6.0M624.4 389.4h6.0M627.4 386.4v6.0M624.7 390.1h6.0M627.7 387.1v6.0M624.8 391.0h6.0M627.8 388.0v6.0M624.8 391.6h6.0M627.8 388.6v6.0M624.9 393.0h6.0M627.9 390.0v6.0M624.7 393.8h6.0M627.7 390.8v6.0M624.7 394.9h6.0M627.7 391.9v6.0M624.4 395.8h6.0M627.4 392.8v6.0M624.6 396.7h6.0M627.6 393.7v6.0M624.5 397.4h6.0M627.5 394.4v6.0M624.4 398.8h6.0M627.4 395.8v6.0M624.5 400.1h6.0M627.5 397.1v6.0M624.4 401.2h6.0M627.4 398.2v6.0M624.7 402.5h6.0M627.7 399.5v6.0M624.5 403.3h6.0M627.5 400.3v6.0M624.6 404.2h6.0M627.6 401.2v6.0M106.1 641.0h6.0M109.1 638.0v6.0M105.8 642.0h6.0M108.8 639.0v6.0M106.2 643.6h6.0M109.2 640.6v6.0M105.7 644.7h6.0M108.7 641.7v6.0M105.8 646.0h6.0M108.8 643.0v6.0M106.1 647.3h6.0M109.1 644.3v6.0M105.7 648.5h6.0M108.7 645.5v6.0M106.0 650.7h6.0M109.0 647.7v6.0M105.9 652.3h6.0M108.9 649.3v6.0M106.3 654.5h6.0M109.3 651.5v6.0M106.1 655.6h6.0M109.1 652.6v6.0M106.1 657.6h6.0M109.1 654.6v6.0M105.9 659.2h6.0M108.9 656.2v6.0M105.7 661.2h6.0M108.7 658.2v6.0M105.8 663.4h6.0M108.8 660.4v6.0M105.9 664.6h6.0M108.9 661.6v6.0M106.2 665.6h6.0M109.2 662.6v6.0M105.9 667.2h6.0M108.9 664.2v6.0M106.2 668.7h6.0M109.2 665.7v6.0M106.1 670.1h6.0M109.1 667.1v6.0M106.0 672.5h6.0M109.0 669.5v6.0M106.0 674.7h6.0M109.0 671.7v6.0M106.0 676.3h6.0M109.0 673.3v6.0M106.0 677.8h6.0M109.0 674.8v6.0M105.7 679.2h6.0M108.7 676.2v6.0M105.8 681.3h6.0M108.8 678.3v6.0M105.8 682.5h6.0M108.8 679.5v6.0M106.2 684.2h6.0M109.2 681.2v6.0M106.0 686.0h6.0M109.0 683.0v6.0M105.8 688.1h6.0M108.8 685.1v6.0M105.8 689.6h6.0M108.8 686.6v6.0M106.1 691.2h6.0M109.1 688.2v6.0M105.9 693.0h6.0M108.9 690.0v6.0M105.8 694.7h6.0M108.8 691.7v6.0M106.1 696.9h6.0M109.1 693.9v6.0M106.3 699.2h6.0M109.3 696.2v6.0M106.0 701.0h6.0M109.0 698.0v6.0M106.0 703.4h6.0M109.0 700.4v6.0M106.0 704.9h6.0M109.0 701.9v6.0M106.2 706.1h6.0M109.2 703.1v6.0M105.8 708.1h6.0M108.8 705.1v6.0M153.8 641.0h6.0M156.8 638.0v6.0M153.4 642.8h6.0M156.4 639.8v6.0M153.8 644.0h6.0M156.8 641.0v6.0M153.5 645.4h6.0M156.5 642.4v6.0M153.4 647.7h6.0M156.4 644.7v6.0M153.4 649.2h6.0M156.4 646.2v6.0M153.4 651.1h6.0M156.4 648.1v6.0M153.6 653.0h6.0M156.6 650.0v6.0M153.7 654.7h6.0M156.7 651.7v6.0M153.7 655.7h6.0M156.7 652.7v6.0M153.7 656.9h6.0M156.7 653.9v6.0M153.4 658.9h6.0M156.4 655.9v6.0M153.7 660.9h6.0M156.7 657.9v6.0M153.7 662.2h6.0M156.7 659.2v6.0M153.6 663.4h6.0M156.6 660.4v6.0M153.7 665.7h6.0M156.7 662.7v6.0M153.9 666.9h6.0M156.9 663.9v6.0M153.5 669.1h6.0M156.5 666.1v6.0M153.7 670.4h6.0M156.7 667.4v6.0M153.6 671.4h6.0M156.6 668.4v6.0M153.8 672.5h6.0M156.8 669.5v6.0M153.4 674.0h6.0M156.4 671.0v6.0M153.9 675.4h6.0M156.9 672.4v6.0M153.6 676.6h6.0M156.6 673.6v6.0M153.5 678.4h6.0M156.5 675.4v6.0M153.3 680.2h6.0M156.3 677.2v6.0M153.9 681.9h6.0M156.9 678.9v6.0M153.7 683.5h6.0M156.7 680.5v6.0M153.7 685.0h6.0M156.7 682.0v6.0M153.7 686.4h6.0M156.7 683.4v6.0M153.6 688.7h6.0M156.6 685.7v6.0M153.5 690.8h6.0M156.5 687.8v6.0M153.4 692.3h6.0M156.4 689.3v6.0M153.7 693.7h6.0M156.7 690.7v6.0M153.7 695.7h6.0M156.7 692.7v6.0M153.3 697.6h6.0M156.3 694.6v6.0M153.3 699.7h6.0M156.3 696.7v6.0M153.4 701.2h6.0M156.4 698.2v6.0M153.9 702.8h6.0M156.9 699.8v6.0M153.8 704.5h6.0M156.8 701.5v6.0M153.4 706.4h6.0M156.4 703.4v6.0M153.5 708.4h6.0M156.5 705.4v6.0M153.5 710.3h6.0M156.5 707.3v6.0M224.8 641.0h6.0M227.8 638.0v6.0M224.8 642.9h6.0M227.8 639.9v6.0M224.5 644.6h6.0M227.5 641.6v6.0M224.5 646.5h6.0M227.5 643.5v6.0M224.3 648.9h6.0M227.3 645.9v6.0M224.3 650.5h6.0M227.3 647.5v6.0M224.6 652.1h6.0M227.6 649.1v6.0M224.2 653.6h6.0M227.2 650.6v6.0M224.6 654.7h6.0M227.6 651.7v6.0M224.5 657.0h6.0M227.5 654.0v6.0M224.3 658.2h6.0M227.3 655.2v6.0M224.3 660.5h6.0M227.3 657.5v6.0M224.3 662.8h6.0M227.3 659.8v6.0M224.6 664.0h6.0M227.6 661.0v6.0M224.4 665.5h6.0M227.4 662.5v6.0M224.7 667.7h6.0M227.7 664.7v6.0M224.2 669.7h6.0M227.2 666.7v6.0M224.3 671.1h6.0M227.3 668.1v6.0M224.5 672.8h6.0M227.5 669.8v6.0M224.5 674.3h6.0M227.5 671.3v6.0M224.4 676.4h6.0M227.4 673.4v6.0M224.4 677.9h6.0M227.4 674.9v6.0M224.2 679.8h6.0M227.2 676.8v6.0M224.3 682.0h6.0M227.3 679.0v6.0M224.6 683.5h6.0M227.6 680.5v6.0M224.8 684.6h6.0M227.8 681.6v6.0M224.7 686.2h6.0M227.7 683.2v6.0M224.2 687.9h6.0M227.2 684.9v6.0M224.3 689.3h6.0M227.3 686.3v6.0M224.7 691.5h6.0M227.7 688.5v6.0M224.7 693.5h6.0M227.7 690.5v6.0M224.4 695.3h6.0M227.4 692.3v6.0M224.7 697.7h6.0M227.7 694.7v6.0M224.5 699.1h6.0M227.5 696.1v6.0M224.8 700.1h6.0M227.8 697.1v6.0M224.5 701.8h6.0M227.5 698.8v6.0M224.7 702.9h6.0M227.7 699.9v6.0M224.6 704.0h6.0M227.6 701.0v6.0M224.6 705.9h6.0M227.6 702.9v6.0M224.8 708.0h6.0M227.8 705.0v6.0M224.5 710.0h6.0M227.5 707.0v6.0M224.8 711.3h6.0M227.8 708.3v6.0M295.2 635.8h6.0M298.2 632.8v6.0M295.1 637.1h6.0M298.1 634.1v6.0M295.1 638.3h6.0M298.1 635.3v6.0M295.6 639.5h6.0M298.6 636.5v6.0M295.5 641.3h6.0M298.5 638.3v6.0M295.3 642.3h6.0M298.3 639.3v6.0M295.1 644.2h6.0M298.1 641.2v6.0M295.1 645.6h6.0M298.1 642.6v6.0M295.6 647.1h6.0M298.6 644.1v6.0M295.4 648.2h6.0M298.4 645.2v6.0M295.6 650.0h6.0M298.6 647.0v6.0M295.6 651.3h6.0M298.6 648.3v6.0M295.2 653.4h6.0M298.2 650.4v6.0M295.6 655.2h6.0M298.6 652.2v6.0M295.3 657.6h6.0M298.3 654.6v6.0M295.6 659.9h6.0M298.6 656.9v6.0M295.3 660.9h6.0M298.3 657.9v6.0M295.3 662.9h6.0M298.3 659.9v6.0M295.5 664.4h6.0M298.5 661.4v6.0M295.2 666.6h6.0M298.2 663.6v6.0M295.2 667.6h6.0M298.2 664.6v6.0M295.6 669.4h6.0M298.6 666.4v6.0M295.3 670.9h6.0M298.3 667.9v6.0M295.5 672.4h6.0M298.5 669.4v6.0M295.2 674.6h6.0M298.2 671.6v6.0M295.4 676.9h6.0M298.4 673.9v6.0M295.5 678.3h6.0M298.5 675.3v6.0M295.4 680.4h6.0M298.4 677.4v6.0M295.5 681.4h6.0M298.5 678.4v6.0M295.4 683.4h6.0M298.4 680.4v6.0M295.4 685.3h6.0M298.4 682.3v6.0M295.4 686.8h6.0M298.4 683.8v6.0M295.3 688.2h6.0M298.3 685.2v6.0M295.2 690.0h6.0M298.2 687.0v6.0M295.7 692.1h6.0M298.7 689.1v6.0M295.5 693.4h6.0M298.5 690.4v6.0M295.7 694.9h6.0M298.7 691.9v6.0M295.5 697.2h6.0M298.5 694.2v6.0M295.4 698.4h6.0M298.4 695.4v6.0M295.6 699.7h6.0M298.6 696.7v6.0M295.5 701.1h6.0M298.5 698.1v6.0M295.6 703.1h6.0M298.6 700.1v6.0M295.6 705.3h6.0M298.6 702.3v6.0M295.4 707.4h6.0M298.4 704.4v6.0M295.5 708.9h6.0M298.5 705.9v6.0M295.6 710.5h6.0M298.6 707.5v6.0M115.5 113.0h6.0M118.5 110.0v6.0M118.2 114.4h6.0M121.2 111.4v6.0M115.9 139.7h6.0M118.9 136.7v6.0M117.5 125.4h6.0M120.5 122.4v6.0M119.2 161.2h6.0M122.2 158.2v6.0M118.5 109.1h6.0M121.5 106.1v6.0M116.5 148.7h6.0M119.5 145.7v6.0M122.6 149.8h6.0M125.6 146.8v6.0M117.8 132.9h6.0M120.8 129.9v6.0M115.6 97.5h6.0M118.6 94.5v6.0M116.1 100.5h6.0M119.1 97.5v6.0M117.9 114.3h6.0M120.9 111.3v6.0M118.7 115.3h6.0M121.7 112.3v6.0M119.6 153.6h6.0M122.6 150.6v6.0M114.0 147.9h6.0M117.0 144.9v6.0M113.0 117.6h6.0M116.0 114.6v6.0M119.3 132.9h6.0M122.3 129.9v6.0M118.4 119.3h6.0M121.4 116.3v6.0M119.1 146.1h6.0M122.1 143.1v6.0M112.7 140.2h6.0M115.7 137.2v6.0M119.4 138.6h6.0M122.4 135.6v6.0M115.0 107.8h6.0M118.0 104.8v6.0M118.3 100.6h6.0M121.3 97.6v6.0M117.9 112.3h6.0M120.9 109.3v6.0M122.1 94.5h6.0M125.1 91.5v6.0M122.8 109.3h6.0M125.8 106.3v6.0M120.0 163.1h6.0M123.0 160.1v6.0M114.1 106.2h6.0M117.1 103.2v6.0M123.4 95.0h6.0M126.4 92.0v6.0M118.3 104.3h6.0M121.3 101.3v6.0M124.9 101.7h6.0M127.9 98.7v6.0M117.2 120.0h6.0M120.2 117.0v6.0M117.2 132.1h6.0M120.2 129.1v6.0M119.5 104.7h6.0M122.5 101.7v6.0M122.9 127.3h6.0M125.9 124.3v6.0M119.3 188.3h6.0M122.3 185.3v6.0M117.9 183.0h6.0M120.9 180.0v6.0M119.5 178.2h6.0M122.5 175.2v6.0M115.1 192.6h6.0M118.1 189.6v6.0M120.2 191.7h6.0M123.2 188.7v6.0M119.0 194.2h6.0M122.0 191.2v6.0M116.8 191.5h6.0M119.8 188.5v6.0M120.9 195.5h6.0M123.9 192.5v6.0M118.8 182.5h6.0M121.8 179.5v6.0M120.4 197.2h6.0M123.4 194.2v6.0M116.0 197.5h6.0M119.0 194.5v6.0M120.1 186.1h6.0M123.1 183.1v6.0M167.9 154.2h6.0M170.9 151.2v6.0M187.5 110.8h6.0M190.5 107.8v6.0M187.8 84.5h6.0M190.8 81.5v6.0M172.5 134.9h6.0M175.5 131.9v6.0M183.1 139.2h6.0M186.1 136.2v6.0M185.6 176.6h6.0M188.6 173.6v6.0M182.3 155.8h6.0M185.3 152.8v6.0M187.5 80.0h6.0M190.5 77.0v6.0M181.1 171.8h6.0M184.1 168.8v6.0M183.0 93.3h6.0M186.0 90.3v6.0M189.7 124.0h6.0M192.7 121.0v6.0M164.3 115.9h6.0M167.3 112.9v6.0M180.0 182.3h6.0M183.0 179.3v6.0M182.6 156.7h6.0M185.6 153.7v6.0M187.0 77.9h6.0M190.0 74.9v6.0M176.4 165.7h6.0M179.4 162.7v6.0M172.9 181.4h6.0M175.9 178.4v6.0M182.4 197.0h6.0M185.4 194.0v6.0M172.7 113.8h6.0M175.7 110.8v6.0M175.9 100.7h6.0M178.9 97.7v6.0M183.6 79.1h6.0M186.6 76.1v6.0M177.7 120.6h6.0M180.7 117.6v6.0M183.8 84.2h6.0M186.8 81.2v6.0M181.7 181.8h6.0M184.7 178.8v6.0M170.7 159.4h6.0M173.7 156.4v6.0M171.3 188.3h6.0M174.3 185.3v6.0M173.8 134.3h6.0M176.8 131.3v6.0M172.3 173.3h6.0M175.3 170.3v6.0M181.0 196.9h6.0M184.0 193.9v6.0M182.8 79.9h6.0M185.8 76.9v6.0M184.4 127.2h6.0M187.4 124.2v6.0M185.8 146.5h6.0M188.8 143.5v6.0M189.7 105.6h6.0M192.7 102.6v6.0M189.4 95.2h6.0M192.4 92.2v6.0M177.6 151.2h6.0M180.6 148.2v6.0M176.3 143.9h6.0M179.3 140.9v6.0M182.3 108.4h6.0M185.3 105.4v6.0M177.0 110.0h6.0M180.0 107.0v6.0M185.7 188.9h6.0M188.7 185.9v6.0M182.5 92.8h6.0M185.5 89.8v6.0M169.8 169.4h6.0M172.8 166.4v6.0M166.2 128.4h6.0M169.2 125.4v6.0M183.2 177.6h6.0M186.2 174.6v6.0M183.2 107.4h6.0M186.2 104.4v6.0M176.4 103.6h6.0M179.4 100.6v6.0M188.4 168.3h6.0M191.4 165.3v6.0M168.0 164.3h6.0M171.0 161.3v6.0M187.8 130.0h6.0M190.8 127.0v6.0M183.6 196.0h6.0M186.6 193.0v6.0M188.4 84.7h6.0M191.4 81.7v6.0M178.2 97.7h6.0M181.2 94.7v6.0M183.9 85.1h6.0M186.9 82.1v6.0M183.5 113.2h6.0M186.5 110.2v6.0M179.6 163.5h6.0M182.6 160.5v6.0M178.7 131.3h6.0M181.7 128.3v6.0M184.3 141.8h6.0M187.3 138.8v6.0M178.8 121.8h6.0M181.8 118.8v6.0M177.4 145.2h6.0M180.4 142.2v6.0M172.2 149.4h6.0M175.2 146.4v6.0M188.9 123.4h6.0M191.9 120.4v6.0M174.7 149.5h6.0M177.7 146.5v6.0M178.1 180.1h6.0M181.1 177.1v6.0M181.9 189.0h6.0M184.9 186.0v6.0M172.9 186.8h6.0M175.9 183.8v6.0M186.3 83.4h6.0M189.3 80.4v6.0M186.8 106.4h6.0M189.8 103.4v6.0M183.7 159.1h6.0M186.7 156.1v6.0M178.9 148.5h6.0M181.9 145.5v6.0M185.9 84.8h6.0M188.9 81.8v6.0M180.0 103.5h6.0M183.0 100.5v6.0M176.7 169.2h6.0M179.7 166.2v6.0M171.9 152.6h6.0M174.9 149.6v6.0M175.9 192.2h6.0M178.9 189.2v6.0M172.7 156.5h6.0M175.7 153.5v6.0M186.4 120.3h6.0M189.4 117.3v6.0M178.5 195.8h6.0M181.5 192.8v6.0M188.1 83.3h6.0M191.1 80.3v6.0M188.6 126.2h6.0M191.6 123.2v6.0M179.1 101.2h6.0M182.1 98.2v6.0M174.3 184.8h6.0M177.3 181.8v6.0M181.4 88.2h6.0M184.4 85.2v6.0M181.7 187.5h6.0M184.7 184.5v6.0M174.6 165.4h6.0M177.6 162.4v6.0M176.5 100.1h6.0M179.5 97.1v6.0M169.8 133.3h6.0M172.8 130.3v6.0M176.3 162.4h6.0M179.3 159.4v6.0M177.8 107.3h6.0M180.8 104.3v6.0M184.4 172.5h6.0M187.4 169.5v6.0M185.6 101.4h6.0M188.6 98.4v6.0M181.8 109.2h6.0M184.8 106.2v6.0M190.9 102.5h6.0M193.9 99.5v6.0M173.5 166.4h6.0M176.5 163.4v6.0M179.0 151.5h6.0M182.0 148.5v6.0M179.6 131.7h6.0M182.6 128.7v6.0M189.6 82.2h6.0M192.6 79.2v6.0M176.8 187.0h6.0M179.8 184.0v6.0M173.1 119.4h6.0M176.1 116.4v6.0M180.3 145.5h6.0M183.3 142.5v6.0M177.2 198.6h6.0M180.2 195.6v6.0M177.1 123.7h6.0M180.1 120.7v6.0M173.7 156.3h6.0M176.7 153.3v6.0M171.8 151.0h6.0M174.8 148.0v6.0M186.8 130.9h6.0M189.8 127.9v6.0M175.6 151.3h6.0M178.6 148.3v6.0M178.7 142.7h6.0M181.7 139.7v6.0M174.3 140.5h6.0M177.3 137.5v6.0M170.2 126.9h6.0M173.2 123.9v6.0M178.2 167.9h6.0M181.2 164.9v6.0M178.3 180.3h6.0M181.3 177.3v6.0M173.6 179.6h6.0M176.6 176.6v6.0M177.4 173.8h6.0M180.4 170.8v6.0M184.3 165.3h6.0M187.3 162.3v6.0M176.2 154.5h6.0M179.2 151.5v6.0M174.6 169.4h6.0M177.6 166.4v6.0M179.1 155.3h6.0M182.1 152.3v6.0M177.9 120.2h6.0M180.9 117.2v6.0M174.7 175.7h6.0M177.7 172.7v6.0M171.9 158.2h6.0M174.9 155.2v6.0M181.9 187.8h6.0M184.9 184.8v6.0M174.8 176.4h6.0M177.8 173.4v6.0M173.9 143.0h6.0M176.9 140.0v6.0M180.0 174.6h6.0M183.0 171.6v6.0M182.1 95.6h6.0M185.1 92.6v6.0M177.2 148.1h6.0M180.2 145.1v6.0M176.3 175.6h6.0M179.3 172.6v6.0M177.2 155.5h6.0M180.2 152.5v6.0M185.8 115.7h6.0M188.8 112.7v6.0M171.6 126.1h6.0M174.6 123.1v6.0M172.3 168.2h6.0M175.3 165.2v6.0M176.3 107.7h6.0M179.3 104.7v6.0M176.7 195.6h6.0M179.7 192.6v6.0M187.7 98.8h6.0M190.7 95.8v6.0M177.5 172.4h6.0M180.5 169.4v6.0M186.2 86.7h6.0M189.2 83.7v6.0M183.6 131.4h6.0M186.6 128.4v6.0M176.2 103.0h6.0M179.2 100.0v6.0M177.7 91.8h6.0M180.7 88.8v6.0M178.7 120.4h6.0M181.7 117.4v6.0M171.2 136.2h6.0M174.2 133.2v6.0M181.8 123.9h6.0M184.8 120.9v6.0M192.0 62.3h6.0M195.0 59.3v6.0M193.0 66.0h6.0M196.0 63.0v6.0M196.0 72.0h6.0M199.0 69.0v6.0M190.0 70.0h6.0M193.0 67.0v6.0M250.8 70.0h6.0M253.8 67.0v6.0M242.4 76.0h6.0M245.4 73.0v6.0M246.2 80.0h6.0M249.2 77.0v6.0M234.7 99.2h6.0M237.7 96.2v6.0M253.2 100.8h6.0M256.2 97.8v6.0M235.5 110.8h6.0M238.5 107.8v6.0M243.0 110.8h6.0M246.0 107.8v6.0M225.5 117.0h6.0M228.5 114.0v6.0M225.0 126.0h6.0M228.0 123.0v6.0M230.0 132.0h6.0M233.0 129.0v6.0M247.8 138.5h6.0M250.8 135.5v6.0M222.0 141.0h6.0M225.0 138.0v6.0M241.6 148.5h6.0M244.6 145.5v6.0M234.0 157.0h6.0M237.0 154.0v6.0M227.0 161.0h6.0M230.0 158.0v6.0M244.7 160.0h6.0M247.7 157.0v6.0M259.0 97.0h6.0M262.0 94.0v6.0M237.0 84.0h6.0M240.0 81.0v6.0M249.0 95.0h6.0M252.0 92.0v6.0M243.9 84.3h6.0M246.9 81.3v6.0M250.3 97.3h6.0M253.3 94.3v6.0M240.9 96.7h6.0M243.9 93.7v6.0M236.4 76.8h6.0M239.4 73.8v6.0M249.0 94.9h6.0M252.0 91.9v6.0M242.4 105.5h6.0M245.4 102.5v6.0M236.6 97.5h6.0M239.6 94.5v6.0M229.4 85.7h6.0M232.4 82.7v6.0M237.2 91.5h6.0M240.2 88.5v6.0M238.8 87.1h6.0M241.8 84.1v6.0M250.1 93.5h6.0M253.1 90.5v6.0M238.7 101.8h6.0M241.7 98.8v6.0M538.0 33.0h6.0M541.0 30.0v6.0M537.0 60.0h6.0M540.0 57.0v6.0M539.0 71.0h6.0M542.0 68.0v6.0M572.9 66.4h6.0M575.9 63.4v6.0M569.9 90.7h6.0M572.9 87.7v6.0M571.4 35.9h6.0M574.4 32.9v6.0M566.4 27.5h6.0M569.4 24.5v6.0M571.6 61.2h6.0M574.6 58.2v6.0M563.0 95.0h6.0M566.0 92.0v6.0M562.2 56.9h6.0M565.2 53.9v6.0M552.2 87.7h6.0M555.2 84.7v6.0M574.0 68.6h6.0M577.0 65.6v6.0M567.4 76.5h6.0M570.4 73.5v6.0M568.3 92.7h6.0M571.3 89.7v6.0M574.7 31.4h6.0M577.7 28.4v6.0M563.5 28.3h6.0M566.5 25.3v6.0M552.3 90.7h6.0M555.3 87.7v6.0M574.0 61.0h6.0M577.0 58.0v6.0M564.2 57.5h6.0M567.2 54.5v6.0M574.5 41.0h6.0M577.5 38.0v6.0M560.7 63.4h6.0M563.7 60.4v6.0M553.0 93.7h6.0M556.0 90.7v6.0M568.0 89.0h6.0M571.0 86.0v6.0M571.8 57.4h6.0M574.8 54.4v6.0M571.4 46.9h6.0M574.4 43.9v6.0M569.8 41.5h6.0M572.8 38.5v6.0M566.2 66.9h6.0M569.2 63.9v6.0M569.8 86.6h6.0M572.8 83.6v6.0M573.7 38.8h6.0M576.7 35.8v6.0M574.3 47.7h6.0M577.3 44.7v6.0M549.3 93.7h6.0M552.3 90.7v6.0M559.2 51.8h6.0M562.2 48.8v6.0M568.8 83.2h6.0M571.8 80.2v6.0M575.5 39.0h6.0M578.5 36.0v6.0M562.2 49.7h6.0M565.2 46.7v6.0M571.3 93.7h6.0M574.3 90.7v6.0M575.4 35.7h6.0M578.4 32.7v6.0M570.9 94.9h6.0M573.9 91.9v6.0M569.3 61.9h6.0M572.3 58.9v6.0M570.5 36.3h6.0M573.5 33.3v6.0M569.4 94.0h6.0M572.4 91.0v6.0M570.9 45.0h6.0M573.9 42.0v6.0M560.8 77.8h6.0M563.8 74.8v6.0M548.3 92.4h6.0M551.3 89.4v6.0M564.2 34.4h6.0M567.2 31.4v6.0M569.3 61.0h6.0M572.3 58.0v6.0M571.2 94.0h6.0M574.2 91.0v6.0M570.4 80.5h6.0M573.4 77.5v6.0M558.4 74.4h6.0M561.4 71.4v6.0M568.4 77.7h6.0M571.4 74.7v6.0M568.6 71.8h6.0M571.6 68.8v6.0M569.2 28.6h6.0M572.2 25.6v6.0M553.5 85.9h6.0M556.5 82.9v6.0M574.4 69.8h6.0M577.4 66.8v6.0M567.6 40.1h6.0M570.6 37.1v6.0M573.3 64.0h6.0M576.3 61.0v6.0M574.1 57.9h6.0M577.1 54.9v6.0M576.8 47.8h6.0M579.8 44.8v6.0M565.0 79.2h6.0M568.0 76.2v6.0M572.6 80.0h6.0M575.6 77.0v6.0M571.4 64.6h6.0M574.4 61.6v6.0M576.0 77.8h6.0M579.0 74.8v6.0M567.3 84.9h6.0M570.3 81.9v6.0M563.6 75.3h6.0M566.6 72.3v6.0M569.8 45.6h6.0M572.8 42.6v6.0M572.9 42.9h6.0M575.9 39.9v6.0M565.8 32.8h6.0M568.8 29.8v6.0M570.3 66.1h6.0M573.3 63.1v6.0M563.3 50.1h6.0M566.3 47.1v6.0M574.4 69.5h6.0M577.4 66.5v6.0M561.8 92.3h6.0M564.8 89.3v6.0M569.1 47.1h6.0M572.1 44.1v6.0M564.8 87.9h6.0M567.8 84.9v6.0M565.6 29.1h6.0M568.6 26.1v6.0M560.5 62.0h6.0M563.5 59.0v6.0M559.1 91.7h6.0M562.1 88.7v6.0M560.9 66.5h6.0M563.9 63.5v6.0M559.8 52.3h6.0M562.8 49.3v6.0M573.8 71.2h6.0M576.8 68.2v6.0M560.0 28.7h6.0M563.0 25.7v6.0M564.2 39.5h6.0M567.2 36.5v6.0M574.0 82.7h6.0M577.0 79.7v6.0M561.3 92.7h6.0M564.3 89.7v6.0M556.4 86.7h6.0M559.4 83.7v6.0M548.0 101.5h6.0M551.0 98.5v6.0M539.2 90.9h6.0M542.2 87.9v6.0M545.7 95.5h6.0M548.7 92.5v6.0M542.3 87.4h6.0M545.3 84.4v6.0M542.8 86.1h6.0M545.8 83.1v6.0M543.9 89.2h6.0M546.9 86.2v6.0M547.7 105.7h6.0M550.7 102.7v6.0M546.0 100.2h6.0M549.0 97.2v6.0M537.3 104.4h6.0M540.3 101.4v6.0M548.3 104.5h6.0M551.3 101.5v6.0M555.8 100.8h6.0M558.8 97.8v6.0M549.6 99.0h6.0M552.6 96.0v6.0M542.9 86.6h6.0M545.9 83.6v6.0M535.5 107.9h6.0M538.5 104.9v6.0M539.3 84.9h6.0M542.3 81.9v6.0M545.1 110.1h6.0M548.1 107.1v6.0M541.2 110.4h6.0M544.2 107.4v6.0M553.0 83.7h6.0M556.0 80.7v6.0M538.0 90.2h6.0M541.0 87.2v6.0M550.6 92.4h6.0M553.6 89.4v6.0M546.0 109.7h6.0M549.0 106.7v6.0M536.0 101.6h6.0M539.0 98.6v6.0M552.0 91.1h6.0M555.0 88.1v6.0M542.5 85.0h6.0M545.5 82.0v6.0M552.1 83.7h6.0M555.1 80.7v6.0M551.4 97.9h6.0M554.4 94.9v6.0M548.3 92.7h6.0M551.3 89.7v6.0M545.8 99.7h6.0M548.8 96.7v6.0M536.7 86.1h6.0M539.7 83.1v6.0M550.1 108.0h6.0M553.1 105.0v6.0M550.8 102.8h6.0M553.8 99.8v6.0M536.0 94.9h6.0M539.0 91.9v6.0M541.8 109.8h6.0M544.8 106.8v6.0M539.3 109.5h6.0M542.3 106.5v6.0M545.4 190.9h6.0M548.4 187.9v6.0M554.7 121.2h6.0M557.7 118.2v6.0M552.4 141.4h6.0M555.4 138.4v6.0M543.1 95.1h6.0M546.1 92.1v6.0M554.0 170.9h6.0M557.0 167.9v6.0M548.3 134.6h6.0M551.3 131.6v6.0M552.1 184.5h6.0M555.1 181.5v6.0M555.3 155.5h6.0M558.3 152.5v6.0M549.7 95.5h6.0M552.7 92.5v6.0M551.5 128.2h6.0M554.5 125.2v6.0M544.3 192.0h6.0M547.3 189.0v6.0M546.0 108.3h6.0M549.0 105.3v6.0M547.9 157.9h6.0M550.9 154.9v6.0M554.3 163.4h6.0M557.3 160.4v6.0M548.9 169.1h6.0M551.9 166.1v6.0M552.3 95.9h6.0M555.3 92.9v6.0M544.0 136.8h6.0M547.0 133.8v6.0M551.7 146.8h6.0M554.7 143.8v6.0M544.8 104.3h6.0M547.8 101.3v6.0M548.8 163.8h6.0M551.8 160.8v6.0M555.3 151.6h6.0M558.3 148.6v6.0M548.7 155.9h6.0M551.7 152.9v6.0M556.0 146.1h6.0M559.0 143.1v6.0M546.7 117.8h6.0M549.7 114.8v6.0M550.4 148.5h6.0M553.4 145.5v6.0M546.7 191.5h6.0M549.7 188.5v6.0M544.0 120.1h6.0M547.0 117.1v6.0M541.1 137.1h6.0M544.1 134.1v6.0M554.9 138.9h6.0M557.9 135.9v6.0M552.8 135.9h6.0M555.8 132.9v6.0M546.1 155.3h6.0M549.1 152.3v6.0M550.5 142.7h6.0M553.5 139.7v6.0M551.6 105.2h6.0M554.6 102.2v6.0M543.7 161.8h6.0M546.7 158.8v6.0M555.1 170.8h6.0M558.1 167.8v6.0M548.1 119.3h6.0M551.1 116.3v6.0M547.2 158.2h6.0M550.2 155.2v6.0M548.3 191.1h6.0M551.3 188.1v6.0M548.4 194.3h6.0M551.4 191.3v6.0M547.6 170.3h6.0M550.6 167.3v6.0M546.8 178.0h6.0M549.8 175.0v6.0M550.8 185.3h6.0M553.8 182.3v6.0M545.3 127.9h6.0M548.3 124.9v6.0M544.9 95.2h6.0M547.9 92.2v6.0M546.9 122.1h6.0M549.9 119.1v6.0M551.2 102.9h6.0M554.2 99.9v6.0M544.6 162.3h6.0M547.6 159.3v6.0M547.6 169.5h6.0M550.6 166.5v6.0M548.1 190.6h6.0M551.1 187.6v6.0M541.4 97.6h6.0M544.4 94.6v6.0M544.6 100.2h6.0M547.6 97.2v6.0M548.5 150.6h6.0M551.5 147.6v6.0M545.9 130.5h6.0M548.9 127.5v6.0M556.2 105.3h6.0M559.2 102.3v6.0M550.2 177.3h6.0M553.2 174.3v6.0M547.2 119.8h6.0M550.2 116.8v6.0M549.9 179.9h6.0M552.9 176.9v6.0M549.7 181.1h6.0M552.7 178.1v6.0M550.2 121.3h6.0M553.2 118.3v6.0M548.2 181.0h6.0M551.2 178.0v6.0M547.2 152.0h6.0M550.2 149.0v6.0M549.1 178.8h6.0M552.1 175.8v6.0M549.4 137.9h6.0M552.4 134.9v6.0M553.7 115.2h6.0M556.7 112.2v6.0M543.9 152.2h6.0M546.9 149.2v6.0M551.7 157.2h6.0M554.7 154.2v6.0M548.1 170.0h6.0M551.1 167.0v6.0M543.1 183.9h6.0M546.1 180.9v6.0M541.5 122.7h6.0M544.5 119.7v6.0M553.5 142.4h6.0M556.5 139.4v6.0M541.4 119.1h6.0M544.4 116.1v6.0M543.8 156.4h6.0M546.8 153.4v6.0M549.8 199.5h6.0M552.8 196.5v6.0M543.5 144.5h6.0M546.5 141.5v6.0M550.1 142.0h6.0M553.1 139.0v6.0M549.3 105.2h6.0M552.3 102.2v6.0M549.2 102.7h6.0M552.2 99.7v6.0M545.9 184.6h6.0M548.9 181.6v6.0M551.5 138.3h6.0M554.5 135.3v6.0M552.4 109.4h6.0M555.4 106.4v6.0M543.8 192.6h6.0M546.8 189.6v6.0M548.5 158.0h6.0M551.5 155.0v6.0M552.1 134.1h6.0M555.1 131.1v6.0M551.0 119.9h6.0M554.0 116.9v6.0M547.6 185.1h6.0M550.6 182.1v6.0M547.3 151.6h6.0M550.3 148.6v6.0M550.0 118.9h6.0M553.0 115.9v6.0M541.2 102.5h6.0M544.2 99.5v6.0M556.2 143.5h6.0M559.2 140.5v6.0M547.8 144.2h6.0M550.8 141.2v6.0M549.6 149.7h6.0M552.6 146.7v6.0M546.7 193.7h6.0M549.7 190.7v6.0M543.4 131.1h6.0M546.4 128.1v6.0M549.1 163.2h6.0M552.1 160.2v6.0M557.2 116.2h6.0M560.2 113.2v6.0M550.1 195.4h6.0M553.1 192.4v6.0M545.4 101.1h6.0M548.4 98.1v6.0M547.8 169.3h6.0M550.8 166.3v6.0M551.1 196.0h6.0M554.1 193.0v6.0M549.6 173.3h6.0M552.6 170.3v6.0M551.8 96.7h6.0M554.8 93.7v6.0M545.5 142.4h6.0M548.5 139.4v6.0M549.0 182.5h6.0M552.0 179.5v6.0M553.9 155.0h6.0M556.9 152.0v6.0M549.7 144.2h6.0M552.7 141.2v6.0M547.2 96.9h6.0M550.2 93.9v6.0M551.0 141.4h6.0M554.0 138.4v6.0M549.5 185.0h6.0M552.5 182.0v6.0M547.5 182.9h6.0M550.5 179.9v6.0M550.9 123.2h6.0M553.9 120.2v6.0M553.5 150.8h6.0M556.5 147.8v6.0M547.1 136.6h6.0M550.1 133.6v6.0M549.9 158.8h6.0M552.9 155.8v6.0M552.8 167.9h6.0M555.8 164.9v6.0M550.2 112.4h6.0M553.2 109.4v6.0M540.5 161.6h6.0M543.5 158.6v6.0M550.1 119.4h6.0M553.1 116.4v6.0M550.0 136.1h6.0M553.0 133.1v6.0M551.0 164.9h6.0M554.0 161.9v6.0M541.2 115.9h6.0M544.2 112.9v6.0M550.3 116.3h6.0M553.3 113.3v6.0M549.6 142.3h6.0M552.6 139.3v6.0M545.9 99.3h6.0M548.9 96.3v6.0M551.6 119.1h6.0M554.6 116.1v6.0M544.9 104.6h6.0M547.9 101.6v6.0M547.5 146.1h6.0M550.5 143.1v6.0M539.6 167.8h6.0M542.6 164.8v6.0M553.0 108.1h6.0M556.0 105.1v6.0M544.9 160.2h6.0M547.9 157.2v6.0M547.8 131.3h6.0M550.8 128.3v6.0M552.3 143.0h6.0M555.3 140.0v6.0M548.7 196.1h6.0M551.7 193.1v6.0M543.5 117.9h6.0M546.5 114.9v6.0M549.1 190.0h6.0M552.1 187.0v6.0M549.4 178.0h6.0M552.4 175.0v6.0M550.3 172.0h6.0M553.3 169.0v6.0M556.6 102.7h6.0M559.6 99.7v6.0M548.1 162.2h6.0M551.1 159.2v6.0M547.5 111.8h6.0M550.5 108.8v6.0M550.0 181.0h6.0M553.0 178.0v6.0M564.6 148.3h6.0M567.6 145.3v6.0M561.2 101.5h6.0M564.2 98.5v6.0M560.2 117.8h6.0M563.2 114.8v6.0M561.2 132.9h6.0M564.2 129.9v6.0M563.6 140.5h6.0M566.6 137.5v6.0M559.5 145.3h6.0M562.5 142.3v6.0M563.9 130.1h6.0M566.9 127.1v6.0M561.8 160.8h6.0M564.8 157.8v6.0M567.1 101.5h6.0M570.1 98.5v6.0M566.4 128.5h6.0M569.4 125.5v6.0M560.7 90.4h6.0M563.7 87.4v6.0M560.4 136.0h6.0M563.4 133.0v6.0M564.6 141.2h6.0M567.6 138.2v6.0M563.7 135.1h6.0M566.7 132.1v6.0M563.8 106.6h6.0M566.8 103.6v6.0M560.7 161.9h6.0M563.7 158.9v6.0M559.6 165.3h6.0M562.6 162.3v6.0M559.9 127.8h6.0M562.9 124.8v6.0M565.9 137.9h6.0M568.9 134.9v6.0M564.2 169.3h6.0M567.2 166.3v6.0M560.6 113.7h6.0M563.6 110.7v6.0M559.9 124.4h6.0M562.9 121.4v6.0M560.9 125.4h6.0M563.9 122.4v6.0M562.2 124.9h6.0M565.2 121.9v6.0M560.2 135.1h6.0M563.2 132.1v6.0M559.8 163.4h6.0M562.8 160.4v6.0M559.9 146.3h6.0M562.9 143.3v6.0M563.2 156.3h6.0M566.2 153.3v6.0M561.5 174.3h6.0M564.5 171.3v6.0M560.1 171.0h6.0M563.1 168.0v6.0M562.3 105.7h6.0M565.3 102.7v6.0M564.1 129.9h6.0M567.1 126.9v6.0M564.2 117.1h6.0M567.2 114.1v6.0M559.3 173.1h6.0M562.3 170.1v6.0M559.1 169.0h6.0M562.1 166.0v6.0M562.8 147.3h6.0M565.8 144.3v6.0M562.9 171.5h6.0M565.9 168.5v6.0M562.2 98.9h6.0M565.2 95.9v6.0M561.2 169.5h6.0M564.2 166.5v6.0M560.9 171.9h6.0M563.9 168.9v6.0M533.0 135.3h6.0M536.0 132.3v6.0M534.6 164.0h6.0M537.6 161.0v6.0M539.4 174.6h6.0M542.4 171.6v6.0M572.3 118.5h6.0M575.3 115.5v6.0M574.7 129.0h6.0M577.7 126.0v6.0M572.3 134.5h6.0M575.3 131.5v6.0M574.0 140.0h6.0M577.0 137.0v6.0M572.3 157.0h6.0M575.3 154.0v6.0M572.3 179.4h6.0M575.3 176.4v6.0M560.3 189.0h6.0M563.3 186.0v6.0M591.5 94.4h6.0M594.5 91.4v6.0M577.0 29.0h6.0M580.0 26.0v6.0M580.0 33.0h6.0M583.0 30.0v6.0M578.0 40.0h6.0M581.0 37.0v6.0M582.0 60.0h6.0M585.0 57.0v6.0M578.0 75.0h6.0M581.0 72.0v6.0M584.0 17.0h6.0M587.0 14.0v6.0M587.0 21.0h6.0M590.0 18.0v6.0M589.0 24.0h6.0M592.0 21.0v6.0M586.0 27.0h6.0M589.0 24.0v6.0M591.0 28.0h6.0M594.0 25.0v6.0M590.0 32.0h6.0M593.0 29.0v6.0M583.0 31.0h6.0M586.0 28.0v6.0M588.0 37.0h6.0M591.0 34.0v6.0M592.0 39.0h6.0M595.0 36.0v6.0M587.0 41.0h6.0M590.0 38.0v6.0M587.0 47.0h6.0M590.0 44.0v6.0M584.0 53.0h6.0M587.0 50.0v6.0M587.0 53.0h6.0M590.0 50.0v6.0M591.0 52.0h6.0M594.0 49.0v6.0M595.0 60.0h6.0M598.0 57.0v6.0M592.0 63.0h6.0M595.0 60.0v6.0M586.0 68.0h6.0M589.0 65.0v6.0M590.0 67.0h6.0M593.0 64.0v6.0M593.0 70.0h6.0M596.0 67.0v6.0M583.0 75.0h6.0M586.0 72.0v6.0M588.0 76.0h6.0M591.0 73.0v6.0M589.0 79.0h6.0M592.0 76.0v6.0M592.0 75.0h6.0M595.0 72.0v6.0M585.0 59.0h6.0M588.0 56.0v6.0M590.0 93.0h6.0M593.0 90.0v6.0M591.0 97.0h6.0M594.0 94.0v6.0M588.0 95.0h6.0M591.0 92.0v6.0" fill="none" stroke="#000" stroke-width="1.3"/>
<path d="M92.8 281.6l3.0 3.0l-3.0 3.0l-3.0 -3.0zM93.0 283.6l3.0 3.0l-3.0 3.0l-3.0 -3.0zM92.9 285.4l3.0 3.0l-3.0 3.0l-3.0 -3.0zM92.7 287.9l3.0 3.0l-3.0 3.0l-3.0 -3.0zM92.7 290.7l3.0 3.0l-3.0 3.0l-3.0 -3.0zM92.7 293.4l3.0 3.0l-3.0 3.0l-3.0 -3.0zM92.9 295.3l3.0 3.0l-3.0 3.0l-3.0 -3.0zM92.7 298.8l3.0 3.0l-3.0 3.0l-3.0 -3.0zM93.0 301.0l3.0 3.0l-3.0 3.0l-3.0 -3.0zM92.9 304.8l3.0 3.0l-3.0 3.0l-3.0 -3.0zM93.1 307.3l3.0 3.0l-3.0 3.0l-3.0 -3.0zM93.0 309.1l3.0 3.0l-3.0 3.0l-3.0 -3.0zM92.8 311.5l3.0 3.0l-3.0 3.0l-3.0 -3.0zM92.8 313.4l3.0 3.0l-3.0 3.0l-3.0 -3.0zM92.8 316.9l3.0 3.0l-3.0 3.0l-3.0 -3.0zM93.0 319.9l3.0 3.0l-3.0 3.0l-3.0 -3.0zM92.9 322.4l3.0 3.0l-3.0 3.0l-3.0 -3.0zM92.7 324.2l3.0 3.0l-3.0 3.0l-3.0 -3.0zM93.0 326.4l3.0 3.0l-3.0 3.0l-3.0 -3.0zM92.8 329.0l3.0 3.0l-3.0 3.0l-3.0 -3.0zM92.9 336.9l3.0 3.0l-3.0 3.0l-3.0 -3.0zM93.0 339.3l3.0 3.0l-3.0 3.0l-3.0 -3.0zM92.8 342.5l3.0 3.0l-3.0 3.0l-3.0 -3.0zM92.9 345.5l3.0 3.0l-3.0 3.0l-3.0 -3.0zM93.0 349.2l3.0 3.0l-3.0 3.0l-3.0 -3.0zM93.1 363.4l3.0 3.0l-3.0 3.0l-3.0 -3.0zM92.9 365.4l3.0 3.0l-3.0 3.0l-3.0 -3.0zM92.8 368.8l3.0 3.0l-3.0 3.0l-3.0 -3.0zM92.7 371.5l3.0 3.0l-3.0 3.0l-3.0 -3.0zM93.0 374.7l3.0 3.0l-3.0 3.0l-3.0 -3.0zM93.1 377.7l3.0 3.0l-3.0 3.0l-3.0 -3.0zM456.8 342.6l3.0 3.0l-3.0 3.0l-3.0 -3.0zM456.8 344.9l3.0 3.0l-3.0 3.0l-3.0 -3.0zM456.8 346.3l3.0 3.0l-3.0 3.0l-3.0 -3.0zM456.9 348.0l3.0 3.0l-3.0 3.0l-3.0 -3.0zM456.8 365.8l3.0 3.0l-3.0 3.0l-3.0 -3.0zM456.9 368.4l3.0 3.0l-3.0 3.0l-3.0 -3.0zM457.0 371.0l3.0 3.0l-3.0 3.0l-3.0 -3.0zM457.2 372.2l3.0 3.0l-3.0 3.0l-3.0 -3.0zM456.8 374.1l3.0 3.0l-3.0 3.0l-3.0 -3.0zM456.9 376.9l3.0 3.0l-3.0 3.0l-3.0 -3.0zM456.9 378.1l3.0 3.0l-3.0 3.0l-3.0 -3.0zM456.7 380.5l3.0 3.0l-3.0 3.0l-3.0 -3.0zM513.8 281.6l3.0 3.0l-3.0 3.0l-3.0 -3.0zM513.8 286.1l3.0 3.0l-3.0 3.0l-3.0 -3.0zM513.8 290.4l3.0 3.0l-3.0 3.0l-3.0 -3.0zM513.8 295.8l3.0 3.0l-3.0 3.0l-3.0 -3.0zM513.8 300.1l3.0 3.0l-3.0 3.0l-3.0 -3.0zM513.8 304.6l3.0 3.0l-3.0 3.0l-3.0 -3.0zM513.8 309.4l3.0 3.0l-3.0 3.0l-3.0 -3.0zM513.8 313.3l3.0 3.0l-3.0 3.0l-3.0 -3.0zM513.8 316.9l3.0 3.0l-3.0 3.0l-3.0 -3.0zM513.8 320.6l3.0 3.0l-3.0 3.0l-3.0 -3.0zM513.8 325.1l3.0 3.0l-3.0 3.0l-3.0 -3.0zM513.8 331.8l3.0 3.0l-3.0 3.0l-3.0 -3.0zM570.3 317.1l3.0 3.0l-3.0 3.0l-3.0 -3.0zM570.3 318.9l3.0 3.0l-3.0 3.0l-3.0 -3.0zM570.7 320.5l3.0 3.0l-3.0 3.0l-3.0 -3.0zM570.4 321.9l3.0 3.0l-3.0 3.0l-3.0 -3.0zM570.6 324.4l3.0 3.0l-3.0 3.0l-3.0 -3.0zM570.4 326.6l3.0 3.0l-3.0 3.0l-3.0 -3.0zM570.5 338.6l3.0 3.0l-3.0 3.0l-3.0 -3.0zM570.6 340.0l3.0 3.0l-3.0 3.0l-3.0 -3.0zM570.7 342.2l3.0 3.0l-3.0 3.0l-3.0 -3.0zM570.8 343.6l3.0 3.0l-3.0 3.0l-3.0 -3.0zM570.9 345.3l3.0 3.0l-3.0 3.0l-3.0 -3.0zM570.3 347.1l3.0 3.0l-3.0 3.0l-3.0 -3.0zM570.5 348.4l3.0 3.0l-3.0 3.0l-3.0 -3.0zM570.6 350.7l3.0 3.0l-3.0 3.0l-3.0 -3.0zM627.6 282.9l3.0 3.0l-3.0 3.0l-3.0 -3.0zM627.6 287.3l3.0 3.0l-3.0 3.0l-3.0 -3.0zM627.6 291.8l3.0 3.0l-3.0 3.0l-3.0 -3.0zM627.6 296.1l3.0 3.0l-3.0 3.0l-3.0 -3.0zM627.6 300.6l3.0 3.0l-3.0 3.0l-3.0 -3.0zM627.8 304.4l3.0 3.0l-3.0 3.0l-3.0 -3.0zM627.4 306.5l3.0 3.0l-3.0 3.0l-3.0 -3.0zM627.7 308.1l3.0 3.0l-3.0 3.0l-3.0 -3.0zM627.5 310.0l3.0 3.0l-3.0 3.0l-3.0 -3.0zM627.3 312.7l3.0 3.0l-3.0 3.0l-3.0 -3.0zM627.7 315.0l3.0 3.0l-3.0 3.0l-3.0 -3.0zM627.7 317.1l3.0 3.0l-3.0 3.0l-3.0 -3.0zM627.9 318.4l3.0 3.0l-3.0 3.0l-3.0 -3.0zM109.0 534.4l2.8 2.8l-2.8 2.8l-2.8 -2.8zM109.0 538.4l2.8 2.8l-2.8 2.8l-2.8 -2.8zM109.0 551.8l2.8 2.8l-2.8 2.8l-2.8 -2.8zM109.0 557.6l2.8 2.8l-2.8 2.8l-2.8 -2.8zM109.0 559.9l2.8 2.8l-2.8 2.8l-2.8 -2.8zM109.0 561.4l2.8 2.8l-2.8 2.8l-2.8 -2.8zM109.0 568.0l2.8 2.8l-2.8 2.8l-2.8 -2.8zM109.0 572.4l2.8 2.8l-2.8 2.8l-2.8 -2.8zM109.0 590.0l2.8 2.8l-2.8 2.8l-2.8 -2.8zM109.0 593.8l2.8 2.8l-2.8 2.8l-2.8 -2.8zM109.0 598.2l2.8 2.8l-2.8 2.8l-2.8 -2.8zM109.0 602.6l2.8 2.8l-2.8 2.8l-2.8 -2.8zM109.0 618.1l2.8 2.8l-2.8 2.8l-2.8 -2.8zM109.0 627.0l2.8 2.8l-2.8 2.8l-2.8 -2.8zM109.0 632.1l2.8 2.8l-2.8 2.8l-2.8 -2.8zM156.6 536.2l2.8 2.8l-2.8 2.8l-2.8 -2.8zM156.6 538.5l2.8 2.8l-2.8 2.8l-2.8 -2.8zM156.6 540.6l2.8 2.8l-2.8 2.8l-2.8 -2.8zM156.6 542.9l2.8 2.8l-2.8 2.8l-2.8 -2.8zM156.6 554.0l2.8 2.8l-2.8 2.8l-2.8 -2.8zM156.6 556.1l2.8 2.8l-2.8 2.8l-2.8 -2.8zM156.6 559.1l2.8 2.8l-2.8 2.8l-2.8 -2.8zM156.6 561.4l2.8 2.8l-2.8 2.8l-2.8 -2.8zM156.6 563.5l2.8 2.8l-2.8 2.8l-2.8 -2.8zM156.6 566.5l2.8 2.8l-2.8 2.8l-2.8 -2.8zM156.6 570.1l2.8 2.8l-2.8 2.8l-2.8 -2.8zM156.6 574.6l2.8 2.8l-2.8 2.8l-2.8 -2.8zM156.6 590.9l2.8 2.8l-2.8 2.8l-2.8 -2.8zM156.6 594.5l2.8 2.8l-2.8 2.8l-2.8 -2.8zM156.6 599.0l2.8 2.8l-2.8 2.8l-2.8 -2.8zM156.6 603.4l2.8 2.8l-2.8 2.8l-2.8 -2.8zM156.6 619.5l2.8 2.8l-2.8 2.8l-2.8 -2.8zM156.6 627.8l2.8 2.8l-2.8 2.8l-2.8 -2.8zM156.6 632.1l2.8 2.8l-2.8 2.8l-2.8 -2.8zM227.5 541.1l2.8 2.8l-2.8 2.8l-2.8 -2.8zM227.5 545.1l2.8 2.8l-2.8 2.8l-2.8 -2.8zM227.5 549.2l2.8 2.8l-2.8 2.8l-2.8 -2.8zM227.5 553.2l2.8 2.8l-2.8 2.8l-2.8 -2.8zM227.5 558.6l2.8 2.8l-2.8 2.8l-2.8 -2.8zM227.5 565.4l2.8 2.8l-2.8 2.8l-2.8 -2.8zM227.5 572.1l2.8 2.8l-2.8 2.8l-2.8 -2.8zM227.5 574.9l2.8 2.8l-2.8 2.8l-2.8 -2.8zM227.5 578.9l2.8 2.8l-2.8 2.8l-2.8 -2.8zM227.5 593.6l2.8 2.8l-2.8 2.8l-2.8 -2.8zM227.5 597.8l2.8 2.8l-2.8 2.8l-2.8 -2.8zM227.5 601.8l2.8 2.8l-2.8 2.8l-2.8 -2.8zM227.5 603.1l2.8 2.8l-2.8 2.8l-2.8 -2.8zM227.5 620.6l2.8 2.8l-2.8 2.8l-2.8 -2.8zM227.5 628.8l2.8 2.8l-2.8 2.8l-2.8 -2.8zM227.5 632.8l2.8 2.8l-2.8 2.8l-2.8 -2.8zM298.4 549.2l2.8 2.8l-2.8 2.8l-2.8 -2.8zM298.4 554.5l2.8 2.8l-2.8 2.8l-2.8 -2.8zM298.4 560.0l2.8 2.8l-2.8 2.8l-2.8 -2.8zM298.4 565.4l2.8 2.8l-2.8 2.8l-2.8 -2.8zM298.4 570.8l2.8 2.8l-2.8 2.8l-2.8 -2.8zM298.4 576.1l2.8 2.8l-2.8 2.8l-2.8 -2.8zM298.4 580.2l2.8 2.8l-2.8 2.8l-2.8 -2.8zM298.4 584.2l2.8 2.8l-2.8 2.8l-2.8 -2.8zM298.4 592.4l2.8 2.8l-2.8 2.8l-2.8 -2.8zM298.4 597.8l2.8 2.8l-2.8 2.8l-2.8 -2.8zM298.4 601.8l2.8 2.8l-2.8 2.8l-2.8 -2.8zM298.4 616.5l2.8 2.8l-2.8 2.8l-2.8 -2.8zM298.4 626.0l2.8 2.8l-2.8 2.8l-2.8 -2.8zM116.7 34.4l3.0 3.0l-3.0 3.0l-3.0 -3.0zM119.2 37.0l3.0 3.0l-3.0 3.0l-3.0 -3.0zM117.3 39.6l3.0 3.0l-3.0 3.0l-3.0 -3.0zM123.0 42.8l3.0 3.0l-3.0 3.0l-3.0 -3.0zM119.2 47.2l3.0 3.0l-3.0 3.0l-3.0 -3.0zM121.2 56.9l3.0 3.0l-3.0 3.0l-3.0 -3.0zM115.4 74.8l3.0 3.0l-3.0 3.0l-3.0 -3.0zM118.0 76.7l3.0 3.0l-3.0 3.0l-3.0 -3.0zM121.2 73.2l3.0 3.0l-3.0 3.0l-3.0 -3.0zM119.2 99.2l3.0 3.0l-3.0 3.0l-3.0 -3.0zM112.8 105.5l3.0 3.0l-3.0 3.0l-3.0 -3.0zM115.4 104.2l3.0 3.0l-3.0 3.0l-3.0 -3.0zM118.5 35.5l3.0 3.0l-3.0 3.0l-3.0 -3.0zM171.2 7.5l3.0 3.0l-3.0 3.0l-3.0 -3.0zM173.3 8.9l3.0 3.0l-3.0 3.0l-3.0 -3.0zM176.8 10.4l3.0 3.0l-3.0 3.0l-3.0 -3.0zM174.0 13.1l3.0 3.0l-3.0 3.0l-3.0 -3.0zM181.0 15.1l3.0 3.0l-3.0 3.0l-3.0 -3.0zM178.2 22.1l3.0 3.0l-3.0 3.0l-3.0 -3.0zM187.0 22.8l3.0 3.0l-3.0 3.0l-3.0 -3.0zM170.5 24.4l3.0 3.0l-3.0 3.0l-3.0 -3.0zM173.3 27.2l3.0 3.0l-3.0 3.0l-3.0 -3.0zM176.1 27.9l3.0 3.0l-3.0 3.0l-3.0 -3.0zM171.2 30.8l3.0 3.0l-3.0 3.0l-3.0 -3.0zM179.6 31.6l3.0 3.0l-3.0 3.0l-3.0 -3.0zM183.9 34.0l3.0 3.0l-3.0 3.0l-3.0 -3.0zM173.3 35.8l3.0 3.0l-3.0 3.0l-3.0 -3.0zM176.8 34.8l3.0 3.0l-3.0 3.0l-3.0 -3.0zM179.6 37.9l3.0 3.0l-3.0 3.0l-3.0 -3.0zM186.0 37.9l3.0 3.0l-3.0 3.0l-3.0 -3.0zM169.0 41.4l3.0 3.0l-3.0 3.0l-3.0 -3.0zM172.6 43.5l3.0 3.0l-3.0 3.0l-3.0 -3.0zM176.8 45.7l3.0 3.0l-3.0 3.0l-3.0 -3.0zM185.3 43.5l3.0 3.0l-3.0 3.0l-3.0 -3.0zM182.4 47.8l3.0 3.0l-3.0 3.0l-3.0 -3.0zM181.0 50.6l3.0 3.0l-3.0 3.0l-3.0 -3.0zM181.7 56.9l3.0 3.0l-3.0 3.0l-3.0 -3.0zM164.8 66.0l3.0 3.0l-3.0 3.0l-3.0 -3.0zM167.6 63.2l3.0 3.0l-3.0 3.0l-3.0 -3.0zM171.2 65.4l3.0 3.0l-3.0 3.0l-3.0 -3.0zM175.4 66.8l3.0 3.0l-3.0 3.0l-3.0 -3.0zM181.7 66.0l3.0 3.0l-3.0 3.0l-3.0 -3.0zM168.3 70.2l3.0 3.0l-3.0 3.0l-3.0 -3.0zM172.6 70.2l3.0 3.0l-3.0 3.0l-3.0 -3.0zM179.6 70.2l3.0 3.0l-3.0 3.0l-3.0 -3.0zM171.2 73.9l3.0 3.0l-3.0 3.0l-3.0 -3.0zM175.4 75.2l3.0 3.0l-3.0 3.0l-3.0 -3.0zM181.0 73.9l3.0 3.0l-3.0 3.0l-3.0 -3.0zM164.1 90.8l3.0 3.0l-3.0 3.0l-3.0 -3.0zM167.6 93.5l3.0 3.0l-3.0 3.0l-3.0 -3.0zM171.2 93.5l3.0 3.0l-3.0 3.0l-3.0 -3.0zM177.5 90.0l3.0 3.0l-3.0 3.0l-3.0 -3.0zM164.1 100.7l3.0 3.0l-3.0 3.0l-3.0 -3.0zM167.6 102.0l3.0 3.0l-3.0 3.0l-3.0 -3.0zM171.2 102.8l3.0 3.0l-3.0 3.0l-3.0 -3.0zM177.5 98.5l3.0 3.0l-3.0 3.0l-3.0 -3.0zM216.1 10.8l3.0 3.0l-3.0 3.0l-3.0 -3.0zM219.6 11.9l3.0 3.0l-3.0 3.0l-3.0 -3.0zM220.2 15.9l3.0 3.0l-3.0 3.0l-3.0 -3.0zM223.6 14.2l3.0 3.0l-3.0 3.0l-3.0 -3.0zM231.4 19.4l3.0 3.0l-3.0 3.0l-3.0 -3.0zM227.1 26.3l3.0 3.0l-3.0 3.0l-3.0 -3.0zM242.9 27.6l3.0 3.0l-3.0 3.0l-3.0 -3.0zM237.8 38.0l3.0 3.0l-3.0 3.0l-3.0 -3.0zM212.9 45.4l3.0 3.0l-3.0 3.0l-3.0 -3.0zM217.3 47.7l3.0 3.0l-3.0 3.0l-3.0 -3.0zM224.5 51.0l3.0 3.0l-3.0 3.0l-3.0 -3.0zM236.7 53.2l3.0 3.0l-3.0 3.0l-3.0 -3.0zM208.0 70.2l3.0 3.0l-3.0 3.0l-3.0 -3.0zM212.1 72.5l3.0 3.0l-3.0 3.0l-3.0 -3.0zM219.8 74.9l3.0 3.0l-3.0 3.0l-3.0 -3.0zM232.3 74.9l3.0 3.0l-3.0 3.0l-3.0 -3.0z" fill="none" stroke="#1414f5" stroke-width="1.7"/>
<rect x="57.90" y="2.20" width="283.70" height="200.50" fill="none" stroke="#4a4a4a" stroke-width="1.3"/>
<path d="M57.90 202.70h5.0M341.60 202.70h-5.0M57.90 192.67h2.6M341.60 192.67h-2.6M57.90 182.65h2.6M341.60 182.65h-2.6M57.90 172.62h2.6M341.60 172.62h-2.6M57.90 162.60h5.0M341.60 162.60h-5.0M57.90 152.57h2.6M341.60 152.57h-2.6M57.90 142.55h2.6M341.60 142.55h-2.6M57.90 132.52h2.6M341.60 132.52h-2.6M57.90 122.50h5.0M341.60 122.50h-5.0M57.90 112.47h2.6M341.60 112.47h-2.6M57.90 102.45h2.6M341.60 102.45h-2.6M57.90 92.42h2.6M341.60 92.42h-2.6M57.90 82.40h5.0M341.60 82.40h-5.0M57.90 72.37h2.6M341.60 72.37h-2.6M57.90 62.35h2.6M341.60 62.35h-2.6M57.90 52.32h2.6M341.60 52.32h-2.6M57.90 42.30h5.0M341.60 42.30h-5.0M57.90 32.27h2.6M341.60 32.27h-2.6M57.90 22.25h2.6M341.60 22.25h-2.6M57.90 12.22h2.6M341.60 12.22h-2.6M57.90 2.20h5.0M341.60 2.20h-5.0" stroke="#4a4a4a" stroke-width="1.1" fill="none"/>
<rect x="404.40" y="2.20" width="284.40" height="200.50" fill="none" stroke="#4a4a4a" stroke-width="1.3"/>
<path d="M404.40 202.70h5.0M688.80 202.70h-5.0M404.40 192.67h2.6M688.80 192.67h-2.6M404.40 182.65h2.6M688.80 182.65h-2.6M404.40 172.62h2.6M688.80 172.62h-2.6M404.40 162.60h5.0M688.80 162.60h-5.0M404.40 152.57h2.6M688.80 152.57h-2.6M404.40 142.55h2.6M688.80 142.55h-2.6M404.40 132.52h2.6M688.80 132.52h-2.6M404.40 122.50h5.0M688.80 122.50h-5.0M404.40 112.47h2.6M688.80 112.47h-2.6M404.40 102.45h2.6M688.80 102.45h-2.6M404.40 92.42h2.6M688.80 92.42h-2.6M404.40 82.40h5.0M688.80 82.40h-5.0M404.40 72.37h2.6M688.80 72.37h-2.6M404.40 62.35h2.6M688.80 62.35h-2.6M404.40 52.32h2.6M688.80 52.32h-2.6M404.40 42.30h5.0M688.80 42.30h-5.0M404.40 32.27h2.6M688.80 32.27h-2.6M404.40 22.25h2.6M688.80 22.25h-2.6M404.40 12.22h2.6M688.80 12.22h-2.6M404.40 2.20h5.0M688.80 2.20h-5.0" stroke="#4a4a4a" stroke-width="1.1" fill="none"/>
<rect x="61.30" y="275.30" width="284.10" height="200.30" fill="none" stroke="#4a4a4a" stroke-width="1.3"/>
<path d="M61.30 475.60h5.0M345.40 475.60h-5.0M61.30 465.59h2.6M345.40 465.59h-2.6M61.30 455.57h2.6M345.40 455.57h-2.6M61.30 445.56h2.6M345.40 445.56h-2.6M61.30 435.54h5.0M345.40 435.54h-5.0M61.30 425.53h2.6M345.40 425.53h-2.6M61.30 415.51h2.6M345.40 415.51h-2.6M61.30 405.50h2.6M345.40 405.50h-2.6M61.30 395.48h5.0M345.40 395.48h-5.0M61.30 385.47h2.6M345.40 385.47h-2.6M61.30 375.45h2.6M345.40 375.45h-2.6M61.30 365.44h2.6M345.40 365.44h-2.6M61.30 355.42h5.0M345.40 355.42h-5.0M61.30 345.40h2.6M345.40 345.40h-2.6M61.30 335.39h2.6M345.40 335.39h-2.6M61.30 325.38h2.6M345.40 325.38h-2.6M61.30 315.36h5.0M345.40 315.36h-5.0M61.30 305.35h2.6M345.40 305.35h-2.6M61.30 295.33h2.6M345.40 295.33h-2.6M61.30 285.31h2.6M345.40 285.31h-2.6M61.30 275.30h5.0M345.40 275.30h-5.0" stroke="#4a4a4a" stroke-width="1.1" fill="none"/>
<rect x="400.10" y="277.10" width="284.20" height="200.50" fill="none" stroke="#4a4a4a" stroke-width="1.3"/>
<path d="M400.10 477.60h5.0M684.30 477.60h-5.0M400.10 467.58h2.6M684.30 467.58h-2.6M400.10 457.55h2.6M684.30 457.55h-2.6M400.10 447.53h2.6M684.30 447.53h-2.6M400.10 437.50h5.0M684.30 437.50h-5.0M400.10 427.48h2.6M684.30 427.48h-2.6M400.10 417.45h2.6M684.30 417.45h-2.6M400.10 407.43h2.6M684.30 407.43h-2.6M400.10 397.40h5.0M684.30 397.40h-5.0M400.10 387.38h2.6M684.30 387.38h-2.6M400.10 377.35h2.6M684.30 377.35h-2.6M400.10 367.33h2.6M684.30 367.33h-2.6M400.10 357.30h5.0M684.30 357.30h-5.0M400.10 347.27h2.6M684.30 347.27h-2.6M400.10 337.25h2.6M684.30 337.25h-2.6M400.10 327.23h2.6M684.30 327.23h-2.6M400.10 317.20h5.0M684.30 317.20h-5.0M400.10 307.18h2.6M684.30 307.18h-2.6M400.10 297.15h2.6M684.30 297.15h-2.6M400.10 287.12h2.6M684.30 287.12h-2.6M400.10 277.10h5.0M684.30 277.10h-5.0" stroke="#4a4a4a" stroke-width="1.1" fill="none"/>
<rect x="62.00" y="528.70" width="283.70" height="200.20" fill="none" stroke="#4a4a4a" stroke-width="1.3"/>
<path d="M62.00 728.90h5.0M345.70 728.90h-5.0M62.00 718.89h2.6M345.70 718.89h-2.6M62.00 708.88h2.6M345.70 708.88h-2.6M62.00 698.87h2.6M345.70 698.87h-2.6M62.00 688.86h5.0M345.70 688.86h-5.0M62.00 678.85h2.6M345.70 678.85h-2.6M62.00 668.84h2.6M345.70 668.84h-2.6M62.00 658.83h2.6M345.70 658.83h-2.6M62.00 648.82h5.0M345.70 648.82h-5.0M62.00 638.81h2.6M345.70 638.81h-2.6M62.00 628.80h2.6M345.70 628.80h-2.6M62.00 618.79h2.6M345.70 618.79h-2.6M62.00 608.78h5.0M345.70 608.78h-5.0M62.00 598.77h2.6M345.70 598.77h-2.6M62.00 588.76h2.6M345.70 588.76h-2.6M62.00 578.75h2.6M345.70 578.75h-2.6M62.00 568.74h5.0M345.70 568.74h-5.0M62.00 558.73h2.6M345.70 558.73h-2.6M62.00 548.72h2.6M345.70 548.72h-2.6M62.00 538.71h2.6M345.70 538.71h-2.6M62.00 528.70h5.0M345.70 528.70h-5.0" stroke="#4a4a4a" stroke-width="1.1" fill="none"/>
<path d="M57.90 202.70v-4.4M57.90 2.20v4.4M128.83 202.70v-4.4M128.83 2.20v4.4M199.75 202.70v-4.4M199.75 2.20v4.4M270.68 202.70v-4.4M270.68 2.20v4.4M341.60 202.70v-4.4M341.60 2.20v4.4M79.25 202.70v-2.2M79.25 2.20v2.2M91.74 202.70v-2.2M91.74 2.20v2.2M100.60 202.70v-2.2M100.60 2.20v2.2M107.47 202.70v-2.2M107.47 2.20v2.2M113.09 202.70v-2.2M113.09 2.20v2.2M117.84 202.70v-2.2M117.84 2.20v2.2M121.95 202.70v-2.2M121.95 2.20v2.2M125.58 202.70v-2.2M125.58 2.20v2.2M150.18 202.70v-2.2M150.18 2.20v2.2M162.66 202.70v-2.2M162.66 2.20v2.2M171.53 202.70v-2.2M171.53 2.20v2.2M178.40 202.70v-2.2M178.40 2.20v2.2M184.02 202.70v-2.2M184.02 2.20v2.2M188.76 202.70v-2.2M188.76 2.20v2.2M192.88 202.70v-2.2M192.88 2.20v2.2M196.50 202.70v-2.2M196.50 2.20v2.2M221.10 202.70v-2.2M221.10 2.20v2.2M233.59 202.70v-2.2M233.59 2.20v2.2M242.45 202.70v-2.2M242.45 2.20v2.2M249.32 202.70v-2.2M249.32 2.20v2.2M254.94 202.70v-2.2M254.94 2.20v2.2M259.69 202.70v-2.2M259.69 2.20v2.2M263.80 202.70v-2.2M263.80 2.20v2.2M267.43 202.70v-2.2M267.43 2.20v2.2M292.03 202.70v-2.2M292.03 2.20v2.2M304.51 202.70v-2.2M304.51 2.20v2.2M313.38 202.70v-2.2M313.38 2.20v2.2M320.25 202.70v-2.2M320.25 2.20v2.2M325.87 202.70v-2.2M325.87 2.20v2.2M330.61 202.70v-2.2M330.61 2.20v2.2M334.73 202.70v-2.2M334.73 2.20v2.2M338.35 202.70v-2.2M338.35 2.20v2.2" stroke="#4a4a4a" stroke-width="1.1" fill="none"/>
<path d="M404.40 202.70v-4.4M404.40 2.20v4.4M445.03 202.70v-4.4M445.03 2.20v4.4M485.66 202.70v-4.4M485.66 2.20v4.4M526.29 202.70v-4.4M526.29 2.20v4.4M566.91 202.70v-4.4M566.91 2.20v4.4M607.54 202.70v-4.4M607.54 2.20v4.4M648.17 202.70v-4.4M648.17 2.20v4.4M688.80 202.70v-4.4M688.80 2.20v4.4M424.71 202.70v-2.2M424.71 2.20v2.2M465.34 202.70v-2.2M465.34 2.20v2.2M505.97 202.70v-2.2M505.97 2.20v2.2M546.60 202.70v-2.2M546.60 2.20v2.2M587.23 202.70v-2.2M587.23 2.20v2.2M627.86 202.70v-2.2M627.86 2.20v2.2M668.49 202.70v-2.2M668.49 2.20v2.2" stroke="#4a4a4a" stroke-width="1.1" fill="none"/>
<path d="M61.30 475.60v-4.0M61.30 275.30v4.0M92.87 475.60v-4.0M92.87 275.30v4.0M124.43 475.60v-4.0M124.43 275.30v4.0M156.00 475.60v-4.0M156.00 275.30v4.0M187.57 475.60v-4.0M187.57 275.30v4.0M219.13 475.60v-4.0M219.13 275.30v4.0M250.70 475.60v-4.0M250.70 275.30v4.0M282.27 475.60v-4.0M282.27 275.30v4.0M313.83 475.60v-4.0M313.83 275.30v4.0M345.40 475.60v-4.0M345.40 275.30v4.0M64.46 475.60v-2.0M64.46 275.30v2.0M67.61 475.60v-2.0M67.61 275.30v2.0M70.77 475.60v-2.0M70.77 275.30v2.0M73.93 475.60v-2.0M73.93 275.30v2.0M77.08 475.60v-2.0M77.08 275.30v2.0M80.24 475.60v-2.0M80.24 275.30v2.0M83.40 475.60v-2.0M83.40 275.30v2.0M86.55 475.60v-2.0M86.55 275.30v2.0M89.71 475.60v-2.0M89.71 275.30v2.0M96.02 475.60v-2.0M96.02 275.30v2.0M99.18 475.60v-2.0M99.18 275.30v2.0M102.34 475.60v-2.0M102.34 275.30v2.0M105.49 475.60v-2.0M105.49 275.30v2.0M108.65 475.60v-2.0M108.65 275.30v2.0M111.81 475.60v-2.0M111.81 275.30v2.0M114.96 475.60v-2.0M114.96 275.30v2.0M118.12 475.60v-2.0M118.12 275.30v2.0M121.28 475.60v-2.0M121.28 275.30v2.0M127.59 475.60v-2.0M127.59 275.30v2.0M130.75 475.60v-2.0M130.75 275.30v2.0M133.90 475.60v-2.0M133.90 275.30v2.0M137.06 475.60v-2.0M137.06 275.30v2.0M140.22 475.60v-2.0M140.22 275.30v2.0M143.37 475.60v-2.0M143.37 275.30v2.0M146.53 475.60v-2.0M146.53 275.30v2.0M149.69 475.60v-2.0M149.69 275.30v2.0M152.84 475.60v-2.0M152.84 275.30v2.0M159.16 475.60v-2.0M159.16 275.30v2.0M162.31 475.60v-2.0M162.31 275.30v2.0M165.47 475.60v-2.0M165.47 275.30v2.0M168.63 475.60v-2.0M168.63 275.30v2.0M171.78 475.60v-2.0M171.78 275.30v2.0M174.94 475.60v-2.0M174.94 275.30v2.0M178.10 475.60v-2.0M178.10 275.30v2.0M181.25 475.60v-2.0M181.25 275.30v2.0M184.41 475.60v-2.0M184.41 275.30v2.0M190.72 475.60v-2.0M190.72 275.30v2.0M193.88 475.60v-2.0M193.88 275.30v2.0M197.04 475.60v-2.0M197.04 275.30v2.0M200.19 475.60v-2.0M200.19 275.30v2.0M203.35 475.60v-2.0M203.35 275.30v2.0M206.51 475.60v-2.0M206.51 275.30v2.0M209.66 475.60v-2.0M209.66 275.30v2.0M212.82 475.60v-2.0M212.82 275.30v2.0M215.98 475.60v-2.0M215.98 275.30v2.0M222.29 475.60v-2.0M222.29 275.30v2.0M225.45 475.60v-2.0M225.45 275.30v2.0M228.60 475.60v-2.0M228.60 275.30v2.0M231.76 475.60v-2.0M231.76 275.30v2.0M234.92 475.60v-2.0M234.92 275.30v2.0M238.07 475.60v-2.0M238.07 275.30v2.0M241.23 475.60v-2.0M241.23 275.30v2.0M244.39 475.60v-2.0M244.39 275.30v2.0M247.54 475.60v-2.0M247.54 275.30v2.0M253.86 475.60v-2.0M253.86 275.30v2.0M257.01 475.60v-2.0M257.01 275.30v2.0M260.17 475.60v-2.0M260.17 275.30v2.0M263.33 475.60v-2.0M263.33 275.30v2.0M266.48 475.60v-2.0M266.48 275.30v2.0M269.64 475.60v-2.0M269.64 275.30v2.0M272.80 475.60v-2.0M272.80 275.30v2.0M275.95 475.60v-2.0M275.95 275.30v2.0M279.11 475.60v-2.0M279.11 275.30v2.0M285.42 475.60v-2.0M285.42 275.30v2.0M288.58 475.60v-2.0M288.58 275.30v2.0M291.74 475.60v-2.0M291.74 275.30v2.0M294.89 475.60v-2.0M294.89 275.30v2.0M298.05 475.60v-2.0M298.05 275.30v2.0M301.21 475.60v-2.0M301.21 275.30v2.0M304.36 475.60v-2.0M304.36 275.30v2.0M307.52 475.60v-2.0M307.52 275.30v2.0M310.68 475.60v-2.0M310.68 275.30v2.0M316.99 475.60v-2.0M316.99 275.30v2.0M320.15 475.60v-2.0M320.15 275.30v2.0M323.30 475.60v-2.0M323.30 275.30v2.0M326.46 475.60v-2.0M326.46 275.30v2.0M329.62 475.60v-2.0M329.62 275.30v2.0M332.77 475.60v-2.0M332.77 275.30v2.0M335.93 475.60v-2.0M335.93 275.30v2.0M339.09 475.60v-2.0M339.09 275.30v2.0M342.24 475.60v-2.0M342.24 275.30v2.0" stroke="#4a4a4a" stroke-width="1.1" fill="none"/>
<path d="M400.10 477.60v-4.0M400.10 277.10v4.0M456.94 477.60v-4.0M456.94 277.10v4.0M513.78 477.60v-4.0M513.78 277.10v4.0M570.62 477.60v-4.0M570.62 277.10v4.0M627.46 477.60v-4.0M627.46 277.10v4.0M684.30 477.60v-4.0M684.30 277.10v4.0M405.78 477.60v-2.0M405.78 277.10v2.0M411.47 477.60v-2.0M411.47 277.10v2.0M417.15 477.60v-2.0M417.15 277.10v2.0M422.84 477.60v-2.0M422.84 277.10v2.0M428.52 477.60v-2.0M428.52 277.10v2.0M434.20 477.60v-2.0M434.20 277.10v2.0M439.89 477.60v-2.0M439.89 277.10v2.0M445.57 477.60v-2.0M445.57 277.10v2.0M451.26 477.60v-2.0M451.26 277.10v2.0M462.62 477.60v-2.0M462.62 277.10v2.0M468.31 477.60v-2.0M468.31 277.10v2.0M473.99 477.60v-2.0M473.99 277.10v2.0M479.68 477.60v-2.0M479.68 277.10v2.0M485.36 477.60v-2.0M485.36 277.10v2.0M491.04 477.60v-2.0M491.04 277.10v2.0M496.73 477.60v-2.0M496.73 277.10v2.0M502.41 477.60v-2.0M502.41 277.10v2.0M508.10 477.60v-2.0M508.10 277.10v2.0M519.46 477.60v-2.0M519.46 277.10v2.0M525.15 477.60v-2.0M525.15 277.10v2.0M530.83 477.60v-2.0M530.83 277.10v2.0M536.52 477.60v-2.0M536.52 277.10v2.0M542.20 477.60v-2.0M542.20 277.10v2.0M547.88 477.60v-2.0M547.88 277.10v2.0M553.57 477.60v-2.0M553.57 277.10v2.0M559.25 477.60v-2.0M559.25 277.10v2.0M564.94 477.60v-2.0M564.94 277.10v2.0M576.30 477.60v-2.0M576.30 277.10v2.0M581.99 477.60v-2.0M581.99 277.10v2.0M587.67 477.60v-2.0M587.67 277.10v2.0M593.36 477.60v-2.0M593.36 277.10v2.0M599.04 477.60v-2.0M599.04 277.10v2.0M604.72 477.60v-2.0M604.72 277.10v2.0M610.41 477.60v-2.0M610.41 277.10v2.0M616.09 477.60v-2.0M616.09 277.10v2.0M621.78 477.60v-2.0M621.78 277.10v2.0M633.14 477.60v-2.0M633.14 277.10v2.0M638.83 477.60v-2.0M638.83 277.10v2.0M644.51 477.60v-2.0M644.51 277.10v2.0M650.20 477.60v-2.0M650.20 277.10v2.0M655.88 477.60v-2.0M655.88 277.10v2.0M661.56 477.60v-2.0M661.56 277.10v2.0M667.25 477.60v-2.0M667.25 277.10v2.0M672.93 477.60v-2.0M672.93 277.10v2.0M678.62 477.60v-2.0M678.62 277.10v2.0" stroke="#4a4a4a" stroke-width="1.1" fill="none"/>
<path d="M62.00 728.90v-4.4M62.00 528.70v4.4M109.28 728.90v-4.4M109.28 528.70v4.4M156.57 728.90v-4.4M156.57 528.70v4.4M203.85 728.90v-4.4M203.85 528.70v4.4M251.13 728.90v-4.4M251.13 528.70v4.4M298.42 728.90v-4.4M298.42 528.70v4.4M345.70 728.90v-4.4M345.70 528.70v4.4M73.82 728.90v-2.2M73.82 528.70v2.2M97.46 728.90v-2.2M97.46 528.70v2.2M121.10 728.90v-2.2M121.10 528.70v2.2M144.75 728.90v-2.2M144.75 528.70v2.2M168.39 728.90v-2.2M168.39 528.70v2.2M192.03 728.90v-2.2M192.03 528.70v2.2M215.67 728.90v-2.2M215.67 528.70v2.2M239.31 728.90v-2.2M239.31 528.70v2.2M262.95 728.90v-2.2M262.95 528.70v2.2M286.60 728.90v-2.2M286.60 528.70v2.2M310.24 728.90v-2.2M310.24 528.70v2.2M333.88 728.90v-2.2M333.88 528.70v2.2M85.64 728.90v-2.2M85.64 528.70v2.2M132.93 728.90v-2.2M132.93 528.70v2.2M180.21 728.90v-2.2M180.21 528.70v2.2M227.49 728.90v-2.2M227.49 528.70v2.2M274.77 728.90v-2.2M274.77 528.70v2.2M322.06 728.90v-2.2M322.06 528.70v2.2" stroke="#4a4a4a" stroke-width="1.1" fill="none"/>
<line x1="57.90" y1="192.67" x2="341.60" y2="192.67" stroke="#4a4a4a" stroke-width="1.3"/>
<line x1="424.71" y1="192.67" x2="668.49" y2="192.67" stroke="#4a4a4a" stroke-width="1.3"/>
<line x1="61.30" y1="465.59" x2="345.40" y2="465.59" stroke="#4a4a4a" stroke-width="1.3"/>
<line x1="400.10" y1="467.58" x2="684.30" y2="467.58" stroke="#4a4a4a" stroke-width="1.3"/>
<line x1="62.00" y1="718.89" x2="345.70" y2="718.89" stroke="#4a4a4a" stroke-width="1.3"/>
<text x="53.20" y="203.00" font-size="14" text-anchor="end" >0.0</text>
<text x="53.20" y="169.50" font-size="14" text-anchor="end" >0.2</text>
<text x="53.20" y="129.40" font-size="14" text-anchor="end" >0.4</text>
<text x="53.20" y="89.30" font-size="14" text-anchor="end" >0.6</text>
<text x="53.20" y="49.20" font-size="14" text-anchor="end" >0.8</text>
<text x="53.20" y="14.10" font-size="14" text-anchor="end" >1.0</text>
<text x="399.70" y="203.00" font-size="14" text-anchor="end" >0.0</text>
<text x="399.70" y="169.50" font-size="14" text-anchor="end" >0.2</text>
<text x="399.70" y="129.40" font-size="14" text-anchor="end" >0.4</text>
<text x="399.70" y="89.30" font-size="14" text-anchor="end" >0.6</text>
<text x="399.70" y="49.20" font-size="14" text-anchor="end" >0.8</text>
<text x="399.70" y="14.10" font-size="14" text-anchor="end" >1.0</text>
<text x="56.60" y="475.90" font-size="14" text-anchor="end" >0.0</text>
<text x="56.60" y="442.44" font-size="14" text-anchor="end" >0.2</text>
<text x="56.60" y="402.38" font-size="14" text-anchor="end" >0.4</text>
<text x="56.60" y="362.32" font-size="14" text-anchor="end" >0.6</text>
<text x="56.60" y="322.26" font-size="14" text-anchor="end" >0.8</text>
<text x="56.60" y="287.20" font-size="14" text-anchor="end" >1.0</text>
<text x="395.40" y="477.90" font-size="14" text-anchor="end" >0.0</text>
<text x="395.40" y="444.40" font-size="14" text-anchor="end" >0.2</text>
<text x="395.40" y="404.30" font-size="14" text-anchor="end" >0.4</text>
<text x="395.40" y="364.20" font-size="14" text-anchor="end" >0.6</text>
<text x="395.40" y="324.10" font-size="14" text-anchor="end" >0.8</text>
<text x="395.40" y="289.00" font-size="14" text-anchor="end" >1.0</text>
<text x="57.30" y="729.20" font-size="14" text-anchor="end" >0.0</text>
<text x="57.30" y="695.76" font-size="14" text-anchor="end" >0.2</text>
<text x="57.30" y="655.72" font-size="14" text-anchor="end" >0.4</text>
<text x="57.30" y="615.68" font-size="14" text-anchor="end" >0.6</text>
<text x="57.30" y="575.64" font-size="14" text-anchor="end" >0.8</text>
<text x="57.30" y="540.60" font-size="14" text-anchor="end" >1.0</text>
<text transform="translate(17.60,102.45) rotate(-90)" font-size="14" text-anchor="middle">Normalised log(<tspan font-style="italic" font-size="12">&#967;</tspan><tspan font-size="9" dy="-8">2</tspan><tspan dy="8">)</tspan></text>
<text transform="translate(20.80,375.45) rotate(-90)" font-size="14" text-anchor="middle">Normalised log(<tspan font-style="italic" font-size="12">&#967;</tspan><tspan font-size="9" dy="-8">2</tspan><tspan dy="8">)</tspan></text>
<text transform="translate(21.50,628.80) rotate(-90)" font-size="14" text-anchor="middle">Normalised log(<tspan font-style="italic" font-size="12">&#967;</tspan><tspan font-size="9" dy="-8">2</tspan><tspan dy="8">)</tspan></text>
<text x="57.90" y="228.00" font-size="14" text-anchor="middle">10<tspan font-size="8.5" dy="-8.2">-6</tspan></text>
<text x="128.83" y="228.00" font-size="14" text-anchor="middle">10<tspan font-size="8.5" dy="-8.2">-5</tspan></text>
<text x="199.75" y="228.00" font-size="14" text-anchor="middle">10<tspan font-size="8.5" dy="-8.2">-4</tspan></text>
<text x="270.68" y="228.00" font-size="14" text-anchor="middle">10<tspan font-size="8.5" dy="-8.2">-3</tspan></text>
<text x="341.60" y="228.00" font-size="14" text-anchor="middle">10<tspan font-size="8.5" dy="-8.2">-2</tspan></text>
<text x="404.40" y="228.00" font-size="14" text-anchor="middle">10<tspan font-size="8.5" dy="-8.2">-10</tspan></text>
<text x="445.03" y="228.00" font-size="14" text-anchor="middle">10<tspan font-size="8.5" dy="-8.2">-8</tspan></text>
<text x="485.66" y="228.00" font-size="14" text-anchor="middle">10<tspan font-size="8.5" dy="-8.2">-6</tspan></text>
<text x="526.29" y="228.00" font-size="14" text-anchor="middle">10<tspan font-size="8.5" dy="-8.2">-4</tspan></text>
<text x="566.91" y="228.00" font-size="14" text-anchor="middle">10<tspan font-size="8.5" dy="-8.2">-2</tspan></text>
<text x="607.54" y="228.00" font-size="14" text-anchor="middle">10<tspan font-size="8.5" dy="-8.2">0</tspan></text>
<text x="648.17" y="228.00" font-size="14" text-anchor="middle">10<tspan font-size="8.5" dy="-8.2">2</tspan></text>
<text x="688.80" y="228.00" font-size="14" text-anchor="middle">10<tspan font-size="8.5" dy="-8.2">4</tspan></text>
<text x="199.60" y="249.60" font-size="14" text-anchor="middle" >H2O VMR (ppmv)</text>
<text x="546.20" y="249.30" font-size="14.4" text-anchor="middle" >Nadir cloud optical depth</text>
<text x="93.00" y="491.90" font-size="14" text-anchor="middle" >C</text>
<text x="121.50" y="491.90" font-size="14" text-anchor="middle" >1 bar</text>
<text x="153.70" y="491.90" font-size="14" text-anchor="middle" >0.1</text>
<text x="181.50" y="491.90" font-size="14" text-anchor="middle" >0.01</text>
<text x="216.90" y="491.90" font-size="14" text-anchor="middle" >1mbar</text>
<text x="250.50" y="491.90" font-size="14" text-anchor="middle" >0.1</text>
<text x="282.40" y="491.90" font-size="14" text-anchor="middle" >0.01</text>
<text x="314.00" y="491.90" font-size="14" text-anchor="middle" >U</text>
<text x="205.90" y="514.50" font-size="14.2" text-anchor="middle" >Cloud top pressure (bar/mbar)</text>
<text x="459.80" y="493.50" font-size="14" text-anchor="middle" >H2O</text>
<text x="517.50" y="493.50" font-size="14" text-anchor="middle" >+CO2</text>
<text x="574.30" y="493.50" font-size="14" text-anchor="middle" >+CO</text>
<text x="630.80" y="493.50" font-size="14" text-anchor="middle" >+CH4</text>
<text x="545.50" y="513.50" font-size="14" text-anchor="middle" >Gases</text>
<rect x="399.3" y="488.3" width="16.7" height="14.6" fill="#fbfbfb"/>
<text x="62.00" y="755.00" font-size="14" text-anchor="middle" >-0.2</text>
<text x="109.28" y="755.00" font-size="14" text-anchor="middle" >0.0</text>
<text x="156.57" y="755.00" font-size="14" text-anchor="middle" >0.2</text>
<text x="203.85" y="755.00" font-size="14" text-anchor="middle" >0.4</text>
<text x="251.13" y="755.00" font-size="14" text-anchor="middle" >0.6</text>
<text x="298.42" y="755.00" font-size="14" text-anchor="middle" >0.8</text>
<text x="345.70" y="755.00" font-size="14" text-anchor="middle" >1.0</text>
<text x="203.60" y="776.00" font-size="14.25" text-anchor="middle" >Assumed albedo</text>
</svg>
</body></html>
